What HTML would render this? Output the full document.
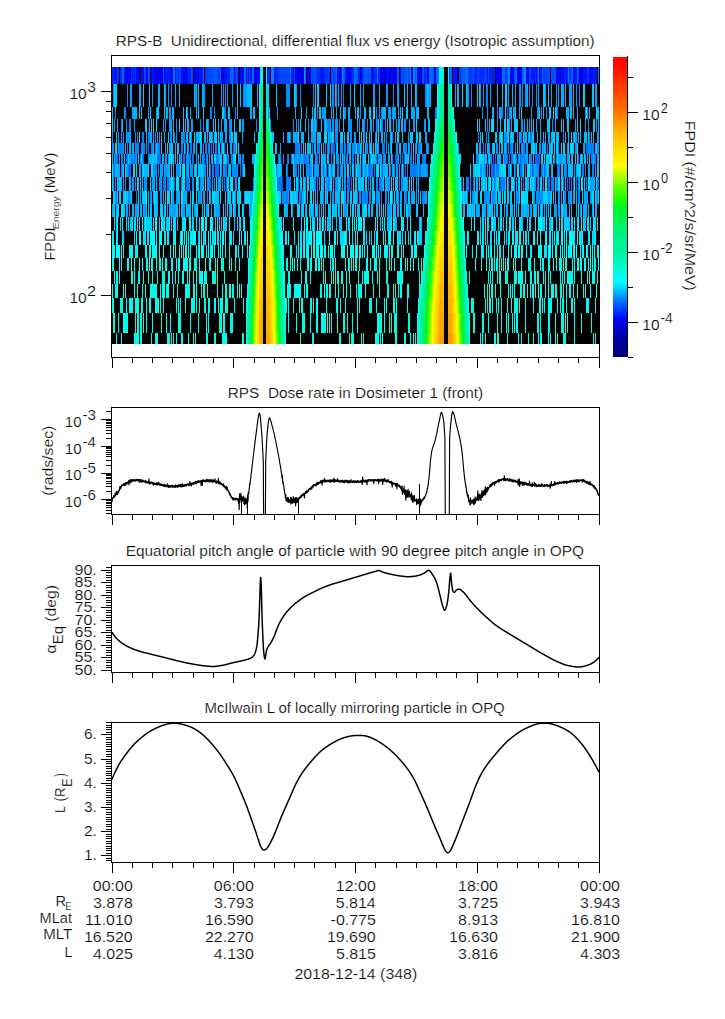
<!DOCTYPE html><html><head><meta charset="utf-8"><style>html,body{margin:0;padding:0;background:#fff;}svg{display:block}text{white-space:pre;stroke:#fff;stroke-width:0.2px}</style></head><body><svg width="725" height="1019" viewBox="0 0 725 1019" font-family='"Liberation Sans", sans-serif' fill="#000" xml:space="preserve" shape-rendering="crispEdges">
<rect width="725" height="1019" fill="#fff"/>
<rect x="112" y="67" width="487" height="277" fill="#000"/>
<path fill="#0023fd" d="M112 67h1v17h-1zM190 67h1v17h-1zM276 67h1v17h-1zM324 67h1v17h-1zM533 67h1v17h-1z"/>
<path fill="#0021fc" d="M113 67h2v17h-2zM320 67h1v17h-1zM483 67h1v17h-1z"/>
<path fill="#0014f8" d="M115 67h1v17h-1zM224 67h1v17h-1zM341 67h1v17h-1zM351 67h1v17h-1zM456 67h1v17h-1z"/>
<path fill="#000cf4" d="M116 67h1v17h-1z"/>
<path fill="#0040ff" d="M117 67h1v17h-1zM207 67h1v17h-1zM219 67h1v17h-1zM289 67h1v17h-1zM328 67h1v17h-1zM543 67h1v17h-1z"/>
<path fill="#002aff" d="M118 67h1v17h-1zM135 67h1v17h-1zM379 67h1v17h-1zM475 67h1v17h-1z"/>
<path fill="#002bff" d="M120 67h1v17h-1zM134 67h1v17h-1z"/>
<path fill="#0024fe" d="M121 67h1v17h-1zM189 67h1v17h-1zM275 67h1v17h-1zM469 67h1v17h-1z"/>
<path fill="#006aff" d="M122 67h1v17h-1zM407 67h1v17h-1zM217 164h1v13h-1zM515 164h1v13h-1zM541 164h1v13h-1z"/>
<path fill="#0068ff" d="M123 67h1v17h-1zM467 67h1v17h-1zM503 67h1v17h-1zM130 164h1v13h-1zM349 177h1v14h-1z"/>
<path fill="#001bfa" d="M124 67h1v17h-1zM453 67h1v17h-1zM492 67h1v17h-1zM574 67h1v17h-1zM576 67h1v17h-1z"/>
<path fill="#0006f2" d="M125 67h1v17h-1zM136 67h1v17h-1zM142 67h1v17h-1zM185 67h1v17h-1zM361 67h1v17h-1zM372 67h1v17h-1zM457 67h1v17h-1zM556 67h1v17h-1zM559 67h1v17h-1z"/>
<path fill="#0009f3" d="M126 67h1v17h-1zM296 67h1v17h-1zM303 67h1v17h-1zM371 67h1v17h-1zM388 67h1v17h-1zM391 67h1v17h-1zM511 67h1v17h-1zM558 67h1v17h-1z"/>
<path fill="#0000f0" d="M127 67h1v17h-1zM160 67h1v17h-1zM256 67h1v17h-1zM295 67h1v17h-1zM380 67h1v17h-1zM510 67h1v17h-1zM517 67h1v17h-1z"/>
<path fill="#0011f7" d="M128 67h1v17h-1z"/>
<path fill="#000cf5" d="M129 67h1v17h-1zM196 67h1v17h-1zM243 67h1v17h-1zM487 67h1v17h-1zM563 67h1v17h-1zM591 67h1v17h-1z"/>
<path fill="#0000ef" d="M130 67h1v17h-1zM138 67h1v17h-1zM162 67h1v17h-1zM197 67h1v17h-1zM221 67h1v17h-1zM234 67h1v17h-1zM308 67h1v17h-1zM360 67h1v17h-1zM412 67h1v17h-1zM560 67h1v17h-1zM579 67h1v17h-1z"/>
<path fill="#0031ff" d="M131 67h1v17h-1z"/>
<path fill="#0022fd" d="M132 67h1v17h-1z"/>
<path fill="#0028ff" d="M133 67h1v17h-1zM188 67h1v17h-1zM358 67h1v17h-1zM425 67h1v17h-1z"/>
<path fill="#000af4" d="M137 67h1v17h-1zM157 67h1v17h-1zM164 67h1v17h-1zM171 67h1v17h-1zM187 67h1v17h-1zM257 67h1v17h-1zM396 67h1v17h-1zM536 67h1v17h-1zM561 67h1v17h-1z"/>
<path fill="#0000ee" d="M139 67h1v17h-1zM147 67h1v17h-1zM297 67h1v17h-1zM499 67h1v17h-1zM519 67h1v17h-1z"/>
<path fill="#0012f7" d="M141 67h1v17h-1zM532 67h1v17h-1zM562 67h1v17h-1zM584 67h1v17h-1z"/>
<path fill="#0008f3" d="M143 67h1v17h-1zM154 67h1v17h-1zM267 67h1v17h-1zM350 67h1v17h-1zM386 67h1v17h-1zM392 67h1v17h-1zM582 67h1v17h-1zM590 67h1v17h-1z"/>
<path fill="#004eff" d="M144 67h1v17h-1zM149 67h1v17h-1zM335 67h1v17h-1zM402 67h1v17h-1zM422 67h1v17h-1zM553 67h1v17h-1z"/>
<path fill="#0044ff" d="M145 67h1v17h-1zM176 67h1v17h-1zM459 67h1v17h-1zM461 67h1v17h-1zM486 67h1v17h-1zM514 67h1v17h-1z"/>
<path fill="#0003f1" d="M146 67h1v17h-1zM155 67h1v17h-1zM161 67h1v17h-1zM183 67h1v17h-1zM259 67h1v17h-1zM307 67h1v17h-1zM340 67h1v17h-1zM389 67h1v17h-1zM428 67h1v17h-1zM497 67h2v17h-2zM527 67h1v17h-1zM557 67h1v17h-1z"/>
<path fill="#0052ff" d="M148 67h1v17h-1zM163 67h1v17h-1zM288 67h1v17h-1zM314 67h1v17h-1zM331 67h1v17h-1zM433 67h1v17h-1zM488 67h1v17h-1zM555 67h1v17h-1z"/>
<path fill="#0009f4" d="M151 67h1v17h-1z"/>
<path fill="#0018f9" d="M152 67h1v17h-1zM199 67h1v17h-1zM534 67h1v17h-1zM541 67h1v17h-1zM566 67h1v17h-1zM586 67h1v17h-1zM595 67h2v17h-2z"/>
<path fill="#000ef5" d="M153 67h1v17h-1zM172 67h1v17h-1zM240 67h1v17h-1zM348 67h1v17h-1zM400 67h1v17h-1zM513 67h1v17h-1z"/>
<path fill="#0004f1" d="M156 67h1v17h-1zM194 67h1v17h-1zM393 67h1v17h-1zM526 67h1v17h-1zM528 67h1v17h-1z"/>
<path fill="#0002f1" d="M158 67h1v17h-1zM223 67h1v17h-1zM238 67h1v17h-1zM309 67h1v17h-1zM382 67h1v17h-1zM420 67h1v17h-1zM427 67h1v17h-1zM501 67h1v17h-1z"/>
<path fill="#0000ed" d="M159 67h1v17h-1zM500 67h1v17h-1zM520 67h1v17h-1z"/>
<path fill="#0011f6" d="M165 67h1v17h-1zM583 67h1v17h-1z"/>
<path fill="#0033ff" d="M166 67h1v17h-1zM317 67h1v17h-1zM326 67h1v17h-1z"/>
<path fill="#0013f7" d="M167 67h1v17h-1z"/>
<path fill="#0016f8" d="M168 67h1v17h-1zM175 67h1v17h-1zM250 67h1v17h-1zM573 67h1v17h-1zM575 67h1v17h-1z"/>
<path fill="#001afa" d="M169 67h1v17h-1zM201 67h1v17h-1zM248 67h1v17h-1zM435 67h1v17h-1zM493 67h1v17h-1z"/>
<path fill="#000ff6" d="M170 67h1v17h-1zM339 67h1v17h-1zM455 67h1v17h-1z"/>
<path fill="#0073ff" d="M173 67h1v17h-1zM416 67h1v17h-1zM211 143h1v11h-1zM296 143h1v11h-1zM586 143h1v11h-1zM591 143h1v11h-1zM183 154h1v10h-1zM328 164h1v13h-1zM491 164h1v13h-1zM348 177h1v14h-1zM351 177h1v14h-1z"/>
<path fill="#0071ff" d="M174 67h1v17h-1zM240 164h1v13h-1zM276 164h1v13h-1zM369 164h1v13h-1zM279 177h1v14h-1zM379 177h1v14h-1zM468 177h1v14h-1zM473 177h1v14h-1z"/>
<path fill="#003dff" d="M177 67h1v17h-1zM505 67h2v17h-2z"/>
<path fill="#0038ff" d="M178 67h1v17h-1zM479 67h1v17h-1z"/>
<path fill="#0047ff" d="M179 67h2v17h-2zM247 67h1v17h-1zM313 67h1v17h-1zM332 67h1v17h-1z"/>
<path fill="#0015f8" d="M181 67h1v17h-1zM200 67h1v17h-1zM226 67h1v17h-1zM322 67h1v17h-1z"/>
<path fill="#001efb" d="M182 67h1v17h-1zM494 67h1v17h-1zM567 67h1v17h-1zM569 67h1v17h-1z"/>
<path fill="#0004f2" d="M184 67h1v17h-1z"/>
<path fill="#0005f2" d="M186 67h1v17h-1zM246 67h1v17h-1zM258 67h1v17h-1zM395 67h1v17h-1zM434 67h1v17h-1zM496 67h1v17h-1z"/>
<path fill="#0053ff" d="M191 67h1v17h-1zM404 67h1v17h-1zM554 67h1v17h-1z"/>
<path fill="#0046ff" d="M192 67h1v17h-1zM547 67h1v17h-1z"/>
<path fill="#000bf4" d="M195 67h1v17h-1zM337 67h1v17h-1zM349 67h1v17h-1zM373 67h1v17h-1zM417 67h1v17h-1z"/>
<path fill="#0000e4" d="M198 67h1v17h-1zM301 67h1v17h-1z"/>
<path fill="#001dfb" d="M202 67h1v17h-1z"/>
<path fill="#006bff" d="M203 67h1v17h-1zM437 67h1v17h-1zM504 67h1v17h-1zM287 154h1v10h-1zM395 154h1v10h-1zM538 154h1v10h-1z"/>
<path fill="#0041ff" d="M205 67h1v17h-1zM485 67h1v17h-1z"/>
<path fill="#003bff" d="M206 67h1v17h-1zM449 67h1v17h-1zM471 67h1v17h-1zM544 67h1v17h-1z"/>
<path fill="#004bff" d="M208 67h1v17h-1zM281 67h1v17h-1zM548 67h1v17h-1zM551 67h2v17h-2z"/>
<path fill="#0050ff" d="M209 67h1v17h-1zM315 67h1v17h-1z"/>
<path fill="#004aff" d="M210 67h1v17h-1zM212 67h1v17h-1zM280 67h1v17h-1zM549 67h1v17h-1z"/>
<path fill="#004cff" d="M211 67h1v17h-1zM213 67h1v17h-1zM236 67h1v17h-1zM401 67h1v17h-1zM570 67h1v17h-1z"/>
<path fill="#005bff" d="M214 67h1v17h-1zM216 67h1v17h-1zM356 67h1v17h-1zM364 67h1v17h-1zM397 67h1v17h-1zM423 67h1v17h-1z"/>
<path fill="#0058ff" d="M215 67h1v17h-1z"/>
<path fill="#004dff" d="M217 67h1v17h-1zM311 67h1v17h-1zM578 67h1v17h-1z"/>
<path fill="#003fff" d="M218 67h1v17h-1zM283 67h1v17h-1z"/>
<path fill="#0060ff" d="M220 67h1v17h-1zM230 67h1v17h-1zM232 67h1v17h-1zM344 67h1v17h-1zM366 67h1v17h-1zM282 177h1v14h-1z"/>
<path fill="#0000e7" d="M222 67h1v17h-1zM310 67h1v17h-1z"/>
<path fill="#0014f7" d="M225 67h1v17h-1zM274 67h1v17h-1zM321 67h1v17h-1zM345 67h1v17h-1z"/>
<path fill="#0027ff" d="M227 67h1v17h-1zM269 67h1v17h-1zM353 67h1v17h-1zM490 67h1v17h-1zM587 67h1v17h-1z"/>
<path fill="#0026fe" d="M228 67h1v17h-1zM480 67h1v17h-1z"/>
<path fill="#0025fe" d="M229 67h1v17h-1zM291 67h1v17h-1zM491 67h1v17h-1zM535 67h1v17h-1z"/>
<path fill="#0063ff" d="M231 67h1v17h-1zM464 67h2v17h-2zM334 143h1v11h-1z"/>
<path fill="#005fff" d="M233 67h1v17h-1zM365 67h1v17h-1z"/>
<path fill="#0042ff" d="M235 67h1v17h-1zM530 67h1v17h-1z"/>
<path fill="#0036ff" d="M237 67h1v17h-1zM278 67h1v17h-1zM426 67h1v17h-1zM588 67h1v17h-1z"/>
<path fill="#000ff5" d="M241 67h1v17h-1z"/>
<path fill="#0010f6" d="M242 67h1v17h-1zM293 67h1v17h-1zM387 67h1v17h-1zM419 67h1v17h-1zM589 67h1v17h-1z"/>
<path fill="#006eff" d="M244 67h1v17h-1zM429 67h1v17h-1zM438 67h1v17h-1zM404 154h1v10h-1zM511 154h1v10h-1zM420 164h1v13h-1zM585 164h1v13h-1z"/>
<path fill="#0075ff" d="M245 67h1v17h-1zM587 143h1v11h-1zM227 154h1v10h-1zM520 154h1v10h-1zM413 164h1v13h-1zM174 177h1v14h-1zM280 177h1v14h-1zM288 177h1v14h-1zM298 177h1v14h-1zM548 177h1v14h-1z"/>
<path fill="#0045ff" d="M249 67h1v17h-1zM286 67h1v17h-1zM312 67h1v17h-1zM316 67h1v17h-1zM333 67h1v17h-1zM472 67h1v17h-1z"/>
<path fill="#0019f9" d="M251 67h1v17h-1zM424 67h1v17h-1zM454 67h1v17h-1z"/>
<path fill="#0065ff" d="M252 67h1v17h-1zM432 67h1v17h-1zM436 67h1v17h-1zM450 67h1v17h-1zM129 164h1v13h-1z"/>
<path fill="#0069ff" d="M253 67h1v17h-1zM126 154h1v10h-1zM143 154h1v10h-1zM533 164h1v13h-1z"/>
<path fill="#0001f0" d="M254 67h1v17h-1zM394 67h1v17h-1zM539 67h1v17h-1z"/>
<path fill="#0000eb" d="M255 67h1v17h-1zM383 67h1v17h-1z"/>
<path fill="#00f5ff" d="M260 67h1v17h-1zM490 177h1v14h-1zM146 191h1v13h-1zM391 191h1v13h-1zM203 217h1v14h-1zM540 217h1v14h-1zM174 231h1v14h-1zM188 231h1v14h-1zM285 231h1v14h-1zM334 231h1v14h-1zM509 231h1v14h-1zM513 231h1v14h-1zM577 231h1v14h-1zM283 245h1v13h-1zM334 245h1v13h-1zM587 245h1v13h-1zM590 245h1v13h-1z"/>
<path fill="#00fef5" d="M261 67h1v17h-1zM437 107h1v12h-1zM435 119h1v13h-1zM113 245h1v13h-1zM190 245h1v13h-1zM304 245h1v13h-1zM316 245h2v13h-2zM357 245h1v13h-1zM403 245h1v13h-1zM424 245h1v13h-1zM515 245h1v13h-1zM576 245h1v13h-1zM131 258h1v13h-1zM494 258h1v13h-1zM513 258h1v13h-1zM372 271h1v13h-1zM112 284h1v14h-1zM326 284h1v14h-1zM553 284h1v14h-1zM129 298h1v15h-1zM214 298h1v15h-1zM285 298h1v15h-1zM384 298h1v15h-1zM152 313h1v20h-1zM410 333h1v11h-1zM541 333h1v11h-1z"/>
<path fill="#00fce9" d="M262 67h1v17h-1zM428 204h1v13h-1zM251 217h1v14h-1zM183 258h1v13h-1zM321 258h1v13h-1zM534 258h1v13h-1zM131 271h2v13h-2zM168 271h1v13h-1zM367 271h1v13h-1zM492 271h1v13h-1zM531 271h1v13h-1zM163 284h1v14h-1zM203 284h1v14h-1zM217 284h1v14h-1zM294 284h1v14h-1zM360 284h1v14h-1zM156 298h1v15h-1zM191 298h1v15h-1zM218 298h1v15h-1zM299 298h1v15h-1zM519 298h1v15h-1zM587 298h1v15h-1zM304 313h1v20h-1zM389 313h1v20h-1zM574 313h1v20h-1z"/>
<path fill="#00f2ff" d="M266 67h1v17h-1zM267 107h1v12h-1zM145 217h1v14h-1zM173 231h1v14h-1zM184 231h1v14h-1zM425 231h1v14h-1zM464 231h1v14h-1zM249 245h1v13h-1zM467 284h1v14h-1zM246 298h1v15h-1zM285 313h1v20h-1z"/>
<path fill="#0020fc" d="M268 67h1v17h-1zM323 67h1v17h-1zM359 67h1v17h-1zM531 67h1v17h-1zM540 67h1v17h-1zM564 67h1v17h-1zM594 67h1v17h-1z"/>
<path fill="#0084ff" d="M271 67h1v17h-1zM273 67h1v17h-1zM125 107h1v12h-1zM224 107h1v12h-1zM435 107h1v12h-1zM497 107h1v12h-1zM382 119h1v13h-1zM290 132h1v11h-1zM296 132h1v11h-1zM152 143h1v11h-1zM208 143h1v11h-1zM215 143h1v11h-1zM133 154h1v10h-1zM352 154h1v10h-1zM337 164h1v13h-1zM355 164h1v13h-1zM545 164h1v13h-1zM290 177h1v14h-1zM399 177h1v14h-1zM402 177h1v14h-1zM553 177h1v14h-1zM557 177h1v14h-1zM286 191h1v13h-1zM299 191h1v13h-1zM406 191h1v13h-1z"/>
<path fill="#0081ff" d="M272 67h1v17h-1zM329 119h1v13h-1zM205 143h1v11h-1zM344 143h1v11h-1zM366 143h1v11h-1zM383 143h1v11h-1zM558 143h1v11h-1zM132 154h1v10h-1zM206 154h1v10h-1zM242 154h1v10h-1zM278 154h1v10h-1zM411 154h1v10h-1zM496 164h1v13h-1zM380 177h1v14h-1zM508 177h1v14h-1zM571 177h1v14h-1zM363 191h1v13h-1z"/>
<path fill="#0030ff" d="M277 67h1v17h-1z"/>
<path fill="#0043ff" d="M279 67h1v17h-1zM285 67h1v17h-1zM460 67h1v17h-1zM545 67h1v17h-1z"/>
<path fill="#0048ff" d="M282 67h1v17h-1zM284 67h1v17h-1zM294 67h1v17h-1z"/>
<path fill="#004fff" d="M287 67h1v17h-1zM363 67h1v17h-1zM403 67h1v17h-1zM409 67h1v17h-1zM468 67h1v17h-1z"/>
<path fill="#0078ff" d="M290 67h1v17h-1zM355 67h1v17h-1zM538 67h1v17h-1zM598 67h1v17h-1zM181 143h1v11h-1zM185 143h1v11h-1zM357 143h1v11h-1zM405 143h1v11h-1zM115 154h1v10h-1zM158 154h1v10h-1zM512 154h1v10h-1zM521 154h1v10h-1zM326 164h1v13h-1zM160 177h1v14h-1zM186 177h1v14h-1zM253 177h1v14h-1zM347 177h1v14h-1zM500 177h1v14h-1z"/>
<path fill="#0024fd" d="M292 67h1v17h-1z"/>
<path fill="#0000e8" d="M298 67h2v17h-2zM381 67h1v17h-1z"/>
<path fill="#0000e1" d="M300 67h1v17h-1z"/>
<path fill="#0000da" d="M302 67h1v17h-1z"/>
<path fill="#008cff" d="M304 67h1v17h-1zM377 67h1v17h-1zM522 84h1v23h-1zM256 119h1v13h-1zM339 119h1v13h-1zM351 119h1v13h-1zM487 119h1v13h-1zM351 132h1v11h-1zM203 143h1v11h-1zM221 143h1v11h-1zM347 143h2v11h-2zM354 143h1v11h-1zM411 143h1v11h-1zM506 143h1v11h-1zM237 164h1v13h-1zM308 164h1v13h-1zM511 164h1v13h-1zM502 177h1v14h-1zM283 191h1v13h-1zM485 191h1v13h-1zM538 191h1v13h-1z"/>
<path fill="#0076ff" d="M305 67h1v17h-1zM354 67h1v17h-1zM180 154h1v10h-1zM397 154h1v10h-1zM410 154h1v10h-1zM507 154h1v10h-1zM128 164h1v13h-1zM374 164h1v13h-1zM414 164h1v13h-1zM498 164h1v13h-1zM163 177h1v14h-1zM210 177h1v14h-1zM368 177h1v14h-1zM567 177h1v14h-1z"/>
<path fill="#002cff" d="M318 67h1v17h-1zM376 67h1v17h-1zM474 67h1v17h-1zM565 67h1v17h-1z"/>
<path fill="#002fff" d="M319 67h1v17h-1zM352 67h1v17h-1zM378 67h1v17h-1zM482 67h1v17h-1z"/>
<path fill="#0032ff" d="M325 67h1v17h-1zM329 67h1v17h-1z"/>
<path fill="#0035ff" d="M327 67h1v17h-1z"/>
<path fill="#0049ff" d="M334 67h1v17h-1zM546 67h1v17h-1z"/>
<path fill="#0064ff" d="M336 67h1v17h-1zM430 67h1v17h-1zM396 154h1v10h-1zM536 154h2v10h-2z"/>
<path fill="#000df5" d="M338 67h1v17h-1zM347 67h1v17h-1zM418 67h1v17h-1zM585 67h1v17h-1zM592 67h1v17h-1z"/>
<path fill="#0087ff" d="M342 67h1v17h-1zM509 67h1v17h-1zM286 84h1v23h-1zM323 107h1v12h-1zM360 107h1v12h-1zM135 132h1v11h-1zM335 132h2v11h-2zM350 132h1v11h-1zM521 132h1v11h-1zM319 143h1v11h-1zM419 143h1v11h-1zM592 143h1v11h-1zM597 143h1v11h-1zM306 154h1v10h-1zM331 154h1v10h-1zM376 154h1v10h-1zM518 154h1v10h-1zM205 164h1v13h-1zM508 164h1v13h-1zM582 164h1v13h-1zM287 177h1v14h-1zM470 177h1v14h-1zM552 177h1v14h-1zM563 177h1v14h-1zM586 177h1v14h-1zM200 191h1v13h-1zM467 191h1v13h-1z"/>
<path fill="#006cff" d="M343 67h1v17h-1zM431 67h1v17h-1zM343 154h1v10h-1zM493 154h1v10h-1zM405 164h1v13h-1zM520 164h1v13h-1z"/>
<path fill="#0007f3" d="M346 67h1v17h-1zM411 67h1v17h-1zM512 67h1v17h-1z"/>
<path fill="#005cff" d="M357 67h1v17h-1zM415 67h1v17h-1z"/>
<path fill="#002dff" d="M362 67h1v17h-1zM374 67h1v17h-1zM481 67h1v17h-1z"/>
<path fill="#0056ff" d="M367 67h1v17h-1zM398 67h1v17h-1zM405 67h2v17h-2zM571 67h1v17h-1z"/>
<path fill="#0051ff" d="M368 67h1v17h-1zM408 67h1v17h-1zM473 67h1v17h-1z"/>
<path fill="#005aff" d="M369 67h1v17h-1zM577 67h1v17h-1z"/>
<path fill="#0059ff" d="M370 67h1v17h-1zM507 67h1v17h-1z"/>
<path fill="#002eff" d="M375 67h1v17h-1z"/>
<path fill="#0000e3" d="M384 67h1v17h-1zM580 67h1v17h-1z"/>
<path fill="#0000df" d="M385 67h1v17h-1z"/>
<path fill="#0000e9" d="M390 67h1v17h-1zM581 67h1v17h-1z"/>
<path fill="#0085ff" d="M410 67h1v17h-1zM414 67h1v17h-1zM529 84h1v23h-1zM210 107h1v12h-1zM142 132h1v11h-1zM136 143h1v11h-1zM143 143h2v11h-2zM295 143h1v11h-1zM228 154h1v10h-1zM299 154h1v10h-1zM333 154h1v10h-1zM355 154h1v10h-1zM400 154h1v10h-1zM530 154h1v10h-1zM186 164h1v13h-1zM212 164h1v13h-1zM225 164h1v13h-1zM307 164h1v13h-1zM309 164h1v13h-1zM401 164h1v13h-1zM416 164h1v13h-1zM558 164h2v13h-2zM566 164h1v13h-1zM381 177h1v14h-1zM116 191h1v13h-1zM282 191h1v13h-1zM287 191h1v13h-1zM359 191h1v13h-1zM564 191h1v13h-1z"/>
<path fill="#0086ff" d="M413 67h1v17h-1zM376 107h1v12h-1zM184 132h1v11h-1zM230 132h1v11h-1zM531 132h1v11h-1zM298 143h1v11h-1zM376 143h1v11h-1zM418 143h1v11h-1zM117 154h1v10h-1zM140 154h1v10h-1zM142 154h1v10h-1zM300 154h1v10h-1zM415 154h1v10h-1zM592 154h1v10h-1zM155 164h1v13h-1zM296 164h1v13h-1zM407 164h1v13h-1zM427 164h1v13h-1zM542 164h1v13h-1zM207 191h1v13h-1zM364 191h1v13h-1zM369 191h1v13h-1zM405 191h1v13h-1zM472 191h1v13h-1zM597 191h1v13h-1z"/>
<path fill="#0000ea" d="M421 67h1v17h-1z"/>
<path fill="#00fffe" d="M439 67h1v17h-1zM307 217h1v14h-1zM230 231h1v14h-1zM116 245h1v13h-1zM208 245h1v13h-1zM220 245h1v13h-1zM491 245h1v13h-1zM508 245h1v13h-1zM526 245h1v13h-1zM292 258h1v13h-1zM542 258h1v13h-1zM598 258h1v13h-1zM202 271h1v13h-1zM469 313h1v20h-1z"/>
<path fill="#00fdf2" d="M440 67h1v17h-1zM453 107h1v12h-1zM456 132h1v11h-1zM459 164h1v13h-1zM460 177h1v14h-1zM461 191h1v13h-1zM130 245h1v13h-1zM384 245h2v13h-2zM549 245h1v13h-1zM121 258h1v13h-1zM345 258h1v13h-1zM374 258h1v13h-1zM465 258h1v13h-1zM114 271h1v13h-1zM116 271h2v13h-2zM172 271h1v13h-1zM338 271h1v13h-1zM505 271h1v13h-1zM518 271h1v13h-1zM116 284h1v14h-1zM237 284h1v14h-1zM126 298h1v15h-1zM316 298h1v15h-1zM548 298h1v15h-1zM208 313h1v20h-1zM223 313h1v20h-1zM232 313h1v20h-1zM357 313h1v20h-1zM565 313h1v20h-1zM395 333h1v11h-1zM555 333h1v11h-1z"/>
<path fill="#00fce7" d="M441 67h1v17h-1zM448 67h1v17h-1zM258 132h1v11h-1zM464 245h1v13h-1zM151 258h1v13h-1zM286 258h1v13h-1zM323 258h1v13h-1zM391 258h1v13h-1zM543 258h1v13h-1zM594 258h1v13h-1zM134 271h1v13h-1zM182 271h1v13h-1zM349 271h1v13h-1zM548 271h1v13h-1zM567 271h1v13h-1zM570 271h1v13h-1zM583 284h1v14h-1zM136 298h1v15h-1zM293 298h1v15h-1zM572 298h1v15h-1zM180 313h1v20h-1zM329 313h1v20h-1zM563 313h1v20h-1zM340 333h1v11h-1zM404 333h2v11h-2zM563 333h1v11h-1z"/>
<path fill="#00fade" d="M442 67h1v17h-1zM215 258h1v13h-1zM222 258h1v13h-1zM489 258h1v13h-1zM143 271h1v13h-1zM163 271h1v13h-1zM187 271h1v13h-1zM506 271h1v13h-1zM516 271h1v13h-1zM521 271h1v13h-1zM550 271h1v13h-1zM572 271h1v13h-1zM327 284h1v14h-1zM512 284h1v14h-1zM185 298h1v15h-1zM222 298h1v15h-1zM243 298h1v15h-1zM313 298h1v15h-1zM376 298h1v15h-1zM485 298h1v15h-1zM127 313h1v20h-1zM140 313h2v20h-2zM166 313h1v20h-1zM170 313h1v20h-1zM555 313h1v20h-1zM561 313h1v20h-1zM377 333h1v11h-1z"/>
<path fill="#00f9d8" d="M443 67h1v17h-1zM250 245h1v13h-1zM422 271h1v13h-1zM177 284h1v14h-1zM335 284h1v14h-1zM350 284h1v14h-1zM356 284h1v14h-1zM388 284h1v14h-1zM487 284h1v14h-1zM120 298h1v15h-1zM160 298h1v15h-1zM194 298h1v15h-1zM472 298h1v15h-1zM497 313h1v20h-1zM540 313h1v20h-1zM151 333h1v11h-1z"/>
<path fill="#0067ff" d="M451 67h1v17h-1zM515 67h1v17h-1zM522 67h1v17h-1zM160 154h1v10h-1z"/>
<path fill="#0066ff" d="M462 67h1v17h-1zM516 67h1v17h-1zM187 177h1v14h-1z"/>
<path fill="#005eff" d="M463 67h1v17h-1zM493 164h1v13h-1z"/>
<path fill="#0079ff" d="M466 67h1v17h-1zM119 143h1v11h-1zM345 143h1v11h-1zM148 154h1v10h-1zM239 154h1v10h-1zM242 164h1v13h-1zM382 164h1v13h-1zM317 177h1v14h-1zM466 177h1v14h-1z"/>
<path fill="#0039ff" d="M470 67h1v17h-1zM477 67h1v17h-1z"/>
<path fill="#001ffc" d="M476 67h1v17h-1z"/>
<path fill="#003eff" d="M478 67h1v17h-1z"/>
<path fill="#003cff" d="M484 67h1v17h-1zM529 67h1v17h-1zM537 67h1v17h-1z"/>
<path fill="#0019fa" d="M489 67h1v17h-1z"/>
<path fill="#0074ff" d="M502 67h1v17h-1zM148 143h1v11h-1zM511 143h1v11h-1zM495 154h1v10h-1zM338 164h1v13h-1zM209 177h1v14h-1zM549 177h1v14h-1z"/>
<path fill="#008eff" d="M508 67h1v17h-1zM387 84h1v23h-1zM576 84h1v23h-1zM436 107h1v12h-1zM126 119h1v13h-1zM381 119h1v13h-1zM385 119h1v13h-1zM413 119h1v13h-1zM170 132h1v11h-1zM183 132h1v11h-1zM505 132h1v11h-1zM415 143h1v11h-1zM497 143h1v11h-1zM295 154h1v10h-1zM537 164h1v13h-1zM538 177h1v14h-1zM160 191h1v13h-1zM362 191h1v13h-1zM536 191h2v13h-2zM539 191h1v13h-1zM578 191h1v13h-1z"/>
<path fill="#0000ec" d="M518 67h1v17h-1zM521 67h1v17h-1z"/>
<path fill="#0062ff" d="M523 67h1v17h-1zM542 67h1v17h-1zM114 164h1v13h-1zM521 164h1v13h-1zM301 191h1v13h-1z"/>
<path fill="#0088ff" d="M524 67h1v17h-1zM333 84h1v23h-1zM397 84h1v23h-1zM519 84h1v23h-1zM546 107h1v12h-1zM148 132h1v11h-1zM188 143h1v11h-1zM524 143h1v11h-1zM218 154h1v10h-1zM316 154h1v10h-1zM346 154h1v10h-1zM213 164h1v13h-1zM233 164h1v13h-1zM181 177h1v14h-1zM376 177h1v14h-1zM150 191h1v13h-1zM285 191h1v13h-1z"/>
<path fill="#0091ff" d="M525 67h1v17h-1zM127 84h1v23h-1zM336 84h1v23h-1zM115 107h1v12h-1zM211 107h1v12h-1zM317 107h1v12h-1zM208 119h1v13h-1zM337 132h1v11h-1zM375 132h1v11h-1zM520 132h1v11h-1zM135 143h1v11h-1zM158 143h1v11h-1zM331 143h1v11h-1zM341 143h1v11h-1zM190 154h1v10h-1zM307 154h1v10h-1zM505 154h1v10h-1zM366 164h1v13h-1zM159 177h1v14h-1zM329 177h1v14h-1zM345 177h1v14h-1zM543 177h1v14h-1zM590 177h1v14h-1zM518 191h1v13h-1z"/>
<path fill="#007fff" d="M568 67h1v17h-1zM141 143h1v11h-1zM234 143h1v11h-1zM318 143h1v11h-1zM353 154h1v10h-1zM476 154h1v10h-1zM578 154h1v10h-1zM390 164h1v13h-1zM485 164h1v13h-1zM530 164h1v13h-1zM467 177h1v14h-1zM569 177h1v14h-1z"/>
<path fill="#0054ff" d="M572 67h1v17h-1z"/>
<path fill="#0017f9" d="M593 67h1v17h-1z"/>
<path fill="#0098ff" d="M113 84h1v23h-1zM467 84h1v23h-1zM536 84h1v23h-1zM268 107h1v12h-1zM344 107h1v12h-1zM541 107h1v12h-1zM230 119h1v13h-1zM349 119h1v13h-1zM404 119h1v13h-1zM414 119h1v13h-1zM509 119h1v13h-1zM585 119h1v13h-1zM517 132h1v11h-1zM155 143h1v11h-1zM378 143h1v11h-1zM403 143h1v11h-1zM527 143h1v11h-1zM379 154h1v10h-1zM191 164h1v13h-1zM133 177h1v14h-1zM244 191h1v13h-1zM489 191h1v13h-1z"/>
<path fill="#00cdff" d="M114 84h1v23h-1zM320 107h1v12h-1zM234 119h1v13h-1zM574 132h1v11h-1zM171 143h1v11h-1zM178 143h1v11h-1zM365 143h1v11h-1zM494 143h1v11h-1zM220 154h1v10h-1zM292 154h1v10h-1zM342 154h1v10h-1zM368 154h1v10h-1zM243 164h2v13h-2zM321 177h1v14h-1zM365 177h1v14h-1zM525 177h1v14h-1zM127 191h1v13h-1zM143 191h1v13h-1zM519 191h1v13h-1zM197 204h1v13h-1zM470 204h1v13h-1zM474 204h1v13h-1zM581 204h1v13h-1zM159 217h1v14h-1zM330 217h1v14h-1zM420 217h1v14h-1zM583 217h1v14h-1z"/>
<path fill="#00cfff" d="M115 84h1v23h-1zM539 107h1v12h-1zM153 119h1v13h-1zM533 119h1v13h-1zM567 119h1v13h-1zM594 119h1v13h-1zM209 132h1v11h-1zM333 132h1v11h-1zM371 143h1v11h-1zM570 143h1v11h-1zM573 143h1v11h-1zM128 154h1v10h-1zM542 154h1v10h-1zM136 164h1v13h-1zM201 164h1v13h-1zM476 164h1v13h-1zM238 177h1v14h-1zM526 177h1v14h-1zM228 191h1v13h-1zM238 191h1v13h-1zM343 191h1v13h-1zM511 191h1v13h-1zM123 204h1v13h-1zM165 204h1v13h-1zM369 204h1v13h-1zM390 217h1v14h-1zM394 217h1v14h-1zM491 217h1v14h-1zM544 217h1v14h-1z"/>
<path fill="#00c5ff" d="M116 84h1v23h-1zM179 84h1v23h-1zM326 84h1v23h-1zM222 107h1v12h-1zM214 132h1v11h-1zM347 132h1v11h-1zM173 154h1v10h-1zM219 154h1v10h-1zM221 154h1v10h-1zM489 154h1v10h-1zM548 154h1v10h-1zM202 164h1v13h-1zM389 164h1v13h-1zM569 164h1v13h-1zM359 177h1v14h-1zM492 177h1v14h-1zM215 191h1v13h-1zM218 191h1v13h-1zM372 191h1v13h-1zM510 191h1v13h-1zM176 204h1v13h-1zM311 204h1v13h-1zM328 204h1v13h-1zM355 204h1v13h-1zM393 204h1v13h-1zM417 204h1v13h-1zM489 204h1v13h-1zM419 231h1v14h-1z"/>
<path fill="#009dff" d="M130 84h1v23h-1zM483 84h1v23h-1zM167 107h1v12h-1zM345 107h1v12h-1zM392 107h1v12h-1zM487 107h1v12h-1zM165 119h1v13h-1zM336 119h1v13h-1zM123 143h1v11h-1zM280 143h1v11h-1zM404 143h1v11h-1zM154 154h1v10h-1zM240 154h1v10h-1zM337 154h1v10h-1zM154 164h1v13h-1zM176 164h1v13h-1zM118 177h1v14h-1zM326 177h1v14h-1zM129 191h1v13h-1zM172 191h1v13h-1zM379 191h1v13h-1zM591 191h1v13h-1zM127 204h1v13h-1zM174 204h1v13h-1zM325 204h1v13h-1zM523 204h1v13h-1zM555 204h1v13h-1z"/>
<path fill="#00aaff" d="M131 84h1v23h-1zM140 84h1v23h-1zM393 107h1v12h-1zM412 107h1v12h-1zM500 107h1v12h-1zM398 119h1v13h-1zM384 132h1v11h-1zM488 143h1v11h-1zM550 143h1v11h-1zM196 154h1v10h-1zM223 154h1v10h-1zM310 154h1v10h-1zM319 154h1v10h-1zM500 154h1v10h-1zM558 154h1v10h-1zM163 191h1v13h-1zM177 191h1v13h-1zM514 191h1v13h-1zM587 191h1v13h-1zM143 204h1v13h-1zM368 204h1v13h-1zM389 204h1v13h-1zM398 204h1v13h-1z"/>
<path fill="#00b5ff" d="M139 84h1v23h-1zM400 107h1v12h-1zM492 107h1v12h-1zM568 107h1v12h-1zM188 119h1v13h-1zM211 132h1v11h-1zM507 132h1v11h-1zM551 132h1v11h-1zM421 143h1v11h-1zM492 143h1v11h-1zM502 143h1v11h-1zM552 143h1v11h-1zM188 164h1v13h-1zM425 164h1v13h-1zM385 177h1v14h-1zM476 177h1v14h-1zM481 177h1v14h-1zM307 191h1v13h-1zM574 191h1v13h-1zM126 204h1v13h-1zM187 204h1v13h-1zM189 204h1v13h-1zM522 204h1v13h-1zM571 204h1v13h-1z"/>
<path fill="#00caff" d="M143 84h1v23h-1zM330 84h1v23h-1zM157 107h1v12h-1zM319 107h1v12h-1zM553 107h1v12h-1zM380 119h1v13h-1zM216 132h1v11h-1zM378 132h1v11h-1zM115 143h1v11h-1zM218 143h1v11h-1zM373 143h1v11h-1zM156 154h1v10h-1zM198 154h1v10h-1zM473 154h1v10h-1zM485 154h1v10h-1zM547 154h1v10h-1zM279 164h1v13h-1zM376 164h1v13h-1zM482 164h1v13h-1zM577 164h1v13h-1zM227 177h1v14h-1zM119 191h1v13h-1zM142 191h1v13h-1zM313 191h1v13h-1zM350 191h1v13h-1zM508 191h1v13h-1zM214 204h1v13h-1zM231 204h1v13h-1zM303 204h1v13h-1zM416 204h1v13h-1zM472 204h1v13h-1zM561 204h1v13h-1zM149 217h1v14h-1zM340 217h1v14h-1zM512 217h1v14h-1zM342 231h1v14h-1z"/>
<path fill="#00c7ff" d="M149 84h1v23h-1zM427 84h1v23h-1zM584 84h1v23h-1zM592 84h1v23h-1zM343 107h1v12h-1zM145 119h1v13h-1zM190 132h1v11h-1zM201 132h1v11h-1zM348 132h1v11h-1zM130 143h1v11h-1zM152 154h1v10h-1zM364 154h1v10h-1zM589 154h1v10h-1zM220 164h1v13h-1zM321 164h1v13h-1zM367 164h1v13h-1zM297 177h1v14h-1zM395 177h1v14h-1zM397 177h1v14h-1zM584 177h1v14h-1zM144 191h1v13h-1zM113 204h1v13h-1zM238 204h1v13h-1zM166 217h1v14h-1zM199 217h1v14h-1zM319 217h1v14h-1zM565 217h1v14h-1zM420 231h1v14h-1z"/>
<path fill="#0093ff" d="M152 84h1v23h-1zM168 84h1v23h-1zM200 119h1v13h-1zM327 119h1v13h-1zM350 119h1v13h-1zM221 132h1v11h-1zM287 132h1v11h-1zM392 132h1v11h-1zM598 132h1v11h-1zM121 143h1v11h-1zM235 143h1v11h-1zM325 143h1v11h-1zM121 154h1v10h-1zM202 154h1v10h-1zM383 154h1v10h-1zM236 164h1v13h-1zM487 164h1v13h-1zM336 177h1v14h-1zM115 191h1v13h-1zM385 191h1v13h-1zM549 191h1v13h-1z"/>
<path fill="#00a8ff" d="M158 84h1v23h-1zM360 84h1v23h-1zM363 84h1v23h-1zM398 84h1v23h-1zM306 107h1v12h-1zM322 107h1v12h-1zM411 107h1v12h-1zM224 119h1v13h-1zM326 119h1v13h-1zM333 119h1v13h-1zM129 132h1v11h-1zM390 132h1v11h-1zM426 132h1v11h-1zM545 132h1v11h-1zM597 132h1v11h-1zM336 143h1v11h-1zM200 154h1v10h-1zM342 164h1v13h-1zM344 164h2v13h-2zM589 164h1v13h-1zM203 177h1v14h-1zM219 177h1v14h-1zM344 177h1v14h-1zM387 177h1v14h-1zM210 191h1v13h-1zM584 191h1v13h-1zM596 191h1v13h-1zM170 204h1v13h-1zM317 204h1v13h-1zM410 204h1v13h-1zM473 204h1v13h-1zM527 204h1v13h-1z"/>
<path fill="#00adff" d="M159 84h1v23h-1zM247 84h1v23h-1zM428 84h1v23h-1zM511 107h1v12h-1zM567 107h1v12h-1zM225 119h1v13h-1zM370 119h1v13h-1zM536 119h1v13h-1zM382 132h1v11h-1zM212 154h1v10h-1zM514 164h1v13h-1zM130 177h1v14h-1zM386 177h1v14h-1zM416 177h1v14h-1zM585 191h1v13h-1zM287 204h1v13h-1zM512 204h1v13h-1zM533 204h1v13h-1zM546 204h1v13h-1z"/>
<path fill="#00baff" d="M164 84h1v23h-1zM250 84h1v23h-1zM561 84h1v23h-1zM384 107h1v12h-1zM187 119h1v13h-1zM568 119h1v13h-1zM150 132h1v11h-1zM187 132h1v11h-1zM302 132h1v11h-1zM331 132h1v11h-1zM480 132h1v11h-1zM568 132h1v11h-1zM196 143h1v11h-1zM399 143h1v11h-1zM487 143h1v11h-1zM569 154h1v10h-1zM585 154h1v10h-1zM198 164h1v13h-1zM303 164h1v13h-1zM322 164h1v13h-1zM170 177h1v14h-1zM404 177h1v14h-1zM531 177h1v14h-1zM565 177h1v14h-1zM335 191h1v13h-1zM505 191h1v13h-1zM177 204h1v13h-1zM285 204h1v13h-1zM347 204h1v13h-1zM358 204h1v13h-1zM536 204h1v13h-1zM548 204h1v13h-1zM328 217h1v14h-1zM388 217h1v14h-1z"/>
<path fill="#00aeff" d="M165 84h1v23h-1zM411 84h1v23h-1zM416 84h1v23h-1zM250 107h1v12h-1zM598 119h1v13h-1zM146 132h1v11h-1zM578 132h1v11h-1zM408 143h1v11h-1zM151 154h1v10h-1zM162 154h1v10h-1zM325 154h1v10h-1zM388 154h1v10h-1zM497 154h1v10h-1zM526 154h1v10h-1zM559 154h1v10h-1zM122 164h1v13h-1zM168 164h1v13h-1zM187 164h1v13h-1zM418 164h1v13h-1zM495 164h1v13h-1zM138 177h1v14h-1zM528 177h1v14h-1zM594 177h1v14h-1zM140 191h1v13h-1zM204 191h1v13h-1zM413 191h1v13h-1zM418 191h1v13h-1zM495 191h1v13h-1zM533 191h1v13h-1zM576 191h1v13h-1zM137 204h1v13h-1zM195 204h1v13h-1zM215 204h1v13h-1zM313 204h1v13h-1zM357 204h1v13h-1zM395 204h1v13h-1zM586 204h1v13h-1z"/>
<path fill="#0089ff" d="M171 84h1v23h-1zM486 84h1v23h-1zM486 132h1v11h-1zM122 143h1v11h-1zM137 143h1v11h-1zM135 154h1v10h-1zM188 154h1v10h-1zM531 154h1v10h-1zM591 154h1v10h-1zM156 164h1v13h-1zM350 164h1v13h-1zM136 191h1v13h-1zM326 191h1v13h-1z"/>
<path fill="#00acff" d="M175 84h1v23h-1zM295 107h1v12h-1zM531 107h1v12h-1zM117 119h1v13h-1zM362 119h1v13h-1zM212 132h1v11h-1zM314 132h1v11h-1zM330 132h1v11h-1zM381 132h1v11h-1zM157 143h1v11h-1zM499 143h1v11h-1zM119 154h1v10h-1zM301 154h1v10h-1zM567 154h1v10h-1zM318 164h1v13h-1zM383 164h1v13h-1zM393 164h1v13h-1zM154 177h1v14h-1zM169 177h1v14h-1zM337 177h1v14h-1zM340 177h1v14h-1zM527 177h1v14h-1zM173 191h1v13h-1zM345 191h1v13h-1zM555 191h1v13h-1zM249 204h1v13h-1zM286 204h1v13h-1zM507 204h1v13h-1zM540 204h1v13h-1zM583 204h2v13h-2z"/>
<path fill="#00bdff" d="M194 84h1v23h-1zM248 84h1v23h-1zM417 107h2v12h-2zM305 119h1v13h-1zM293 132h1v11h-1zM412 132h1v11h-1zM533 132h1v11h-1zM350 143h1v11h-1zM582 154h1v10h-1zM147 164h1v13h-1zM200 164h1v13h-1zM325 164h1v13h-1zM173 177h1v14h-1zM313 177h1v14h-1zM373 177h1v14h-1zM156 191h1v13h-1zM252 191h1v13h-1zM296 191h1v13h-1zM353 191h1v13h-1zM553 191h1v13h-1zM116 204h1v13h-1zM148 204h1v13h-1zM362 204h1v13h-1zM471 204h1v13h-1zM395 217h1v14h-1zM568 217h2v14h-2zM585 217h1v14h-1z"/>
<path fill="#0082ff" d="M195 84h1v23h-1zM289 84h1v23h-1zM557 107h1v12h-1zM191 143h1v11h-1zM547 143h1v11h-1zM593 143h1v11h-1zM134 154h1v10h-1zM189 154h1v10h-1zM288 154h1v10h-1zM392 154h1v10h-1zM592 164h1v13h-1zM523 177h1v14h-1zM381 191h1v13h-1zM569 191h1v13h-1zM579 191h1v13h-1z"/>
<path fill="#00b7ff" d="M196 84h1v23h-1zM240 84h1v23h-1zM457 84h1v23h-1zM527 84h1v23h-1zM134 107h1v12h-1zM237 107h1v12h-1zM348 107h1v12h-1zM221 119h1v13h-1zM428 119h1v13h-1zM531 119h1v13h-1zM126 132h1v11h-1zM186 132h1v11h-1zM303 132h1v11h-1zM318 132h1v11h-1zM499 132h1v11h-1zM314 143h1v11h-1zM252 154h1v10h-1zM344 154h1v10h-1zM146 164h1v13h-1zM169 164h1v13h-1zM572 164h1v13h-1zM220 177h1v14h-1zM338 177h1v14h-1zM488 177h1v14h-1zM185 191h1v13h-1zM336 191h1v13h-1zM151 204h1v13h-1zM301 204h1v13h-1zM371 204h1v13h-1zM423 204h1v13h-1zM488 204h1v13h-1z"/>
<path fill="#00b9ff" d="M198 84h1v23h-1zM365 107h1v12h-1zM589 107h1v12h-1zM122 119h1v13h-1zM527 119h1v13h-1zM301 132h1v11h-1zM510 132h1v11h-1zM552 132h1v11h-1zM584 132h1v11h-1zM276 143h1v11h-1zM417 154h1v10h-1zM325 177h1v14h-1zM561 177h1v14h-1zM186 191h1v13h-1zM321 191h1v13h-1zM491 191h1v13h-1zM132 204h1v13h-1zM155 204h1v13h-1zM179 204h1v13h-1zM251 204h1v13h-1zM333 204h2v13h-2zM389 217h1v14h-1z"/>
<path fill="#00b1ff" d="M202 84h1v23h-1zM349 107h1v12h-1zM427 107h1v12h-1zM571 107h1v12h-1zM313 119h1v13h-1zM393 119h1v13h-1zM294 132h1v11h-1zM340 132h1v11h-1zM548 132h1v11h-1zM565 132h1v11h-1zM114 154h1v10h-1zM298 154h1v10h-1zM398 154h1v10h-1zM563 154h1v10h-1zM173 164h1v13h-1zM332 164h1v13h-1zM384 164h1v13h-1zM179 191h1v13h-1zM190 191h1v13h-1zM302 191h1v13h-1zM320 191h1v13h-1zM175 204h1v13h-1zM491 204h1v13h-1zM494 204h1v13h-1z"/>
<path fill="#00a0ff" d="M203 84h1v23h-1zM429 84h1v23h-1zM490 84h1v23h-1zM596 84h1v23h-1zM148 107h1v12h-1zM398 107h1v12h-1zM538 107h1v12h-1zM171 119h1v13h-1zM159 132h1v11h-1zM226 132h1v11h-1zM575 132h1v11h-1zM168 154h1v10h-1zM190 164h1v13h-1zM423 164h1v13h-1zM333 177h1v14h-1zM389 177h1v14h-1zM495 177h1v14h-1zM516 177h1v14h-1zM558 191h1v13h-1zM194 204h1v13h-1zM344 204h1v13h-1zM346 204h1v13h-1zM554 204h1v13h-1z"/>
<path fill="#0099ff" d="M204 84h1v23h-1zM223 84h1v23h-1zM245 84h1v23h-1zM520 84h1v23h-1zM170 107h1v12h-1zM389 107h1v12h-1zM114 119h1v13h-1zM243 119h1v13h-1zM308 119h1v13h-1zM515 143h1v11h-1zM575 143h1v11h-1zM130 154h1v10h-1zM136 154h1v10h-1zM165 154h1v10h-1zM165 164h2v13h-2zM200 177h1v14h-1zM332 191h1v13h-1zM404 191h1v13h-1zM479 204h1v13h-1z"/>
<path fill="#00a6ff" d="M212 84h1v23h-1zM373 84h1v23h-1zM190 107h1v12h-1zM390 107h1v12h-1zM207 132h1v11h-1zM313 132h1v11h-1zM540 132h1v11h-1zM580 132h1v11h-1zM165 143h1v11h-1zM409 143h1v11h-1zM226 154h1v10h-1zM162 164h1v13h-1zM359 164h1v13h-1zM319 177h1v14h-1zM406 177h1v14h-1zM232 191h1v13h-1zM344 191h1v13h-1zM219 204h1v13h-1zM401 204h1v13h-1zM409 204h1v13h-1zM496 204h1v13h-1zM516 204h1v13h-1zM396 217h1v14h-1z"/>
<path fill="#00a7ff" d="M221 84h1v23h-1zM350 84h1v23h-1zM526 84h1v23h-1zM570 84h1v23h-1zM395 107h1v12h-1zM510 107h1v12h-1zM296 119h1v13h-1zM164 132h1v11h-1zM425 132h1v11h-1zM543 132h1v11h-1zM118 143h1v11h-1zM315 143h1v11h-1zM479 143h1v11h-1zM595 143h1v11h-1zM389 154h1v10h-1zM488 154h1v10h-1zM597 154h1v10h-1zM160 164h1v13h-1zM485 177h1v14h-1zM126 191h1v13h-1zM198 191h1v13h-1zM425 191h1v13h-1zM135 204h1v13h-1z"/>
<path fill="#0092ff" d="M225 84h1v23h-1zM425 84h1v23h-1zM501 107h1v12h-1zM121 119h1v13h-1zM293 119h1v13h-1zM112 132h1v11h-1zM191 132h1v11h-1zM386 132h1v11h-1zM352 143h1v11h-1zM583 143h1v11h-1zM490 154h2v10h-2zM223 164h1v13h-1zM232 164h1v13h-1zM234 164h1v13h-1zM310 164h1v13h-1zM574 164h1v13h-1zM115 177h1v14h-1zM193 177h1v14h-1zM212 177h1v14h-1zM214 177h1v14h-1zM388 177h1v14h-1zM401 177h1v14h-1zM128 191h1v13h-1zM199 191h1v13h-1zM323 191h1v13h-1zM484 191h1v13h-1zM488 191h1v13h-1zM517 191h1v13h-1zM534 191h1v13h-1zM541 191h1v13h-1zM559 191h1v13h-1z"/>
<path fill="#009bff" d="M227 84h1v23h-1zM558 84h1v23h-1zM187 107h1v12h-1zM588 119h1v13h-1zM137 132h1v11h-1zM225 132h1v11h-1zM488 132h1v11h-1zM506 132h1v11h-1zM573 132h1v11h-1zM129 143h1v11h-1zM142 143h1v11h-1zM328 143h1v11h-1zM426 143h1v11h-1zM384 154h1v10h-1zM571 154h1v10h-1zM594 154h1v10h-1zM306 164h1v13h-1zM341 164h1v13h-1zM201 177h1v14h-1zM579 177h1v14h-1zM390 204h1v13h-1z"/>
<path fill="#0094ff" d="M232 84h1v23h-1zM244 84h1v23h-1zM332 84h1v23h-1zM386 84h1v23h-1zM468 84h1v23h-1zM595 84h1v23h-1zM332 119h1v13h-1zM128 132h1v11h-1zM198 132h1v11h-1zM408 132h1v11h-1zM146 143h1v11h-1zM329 143h1v11h-1zM367 143h1v11h-1zM397 143h1v11h-1zM508 143h1v11h-1zM131 154h1v10h-1zM336 154h1v10h-1zM349 154h1v10h-1zM403 164h1v13h-1zM593 164h1v13h-1zM146 177h1v14h-1zM189 177h1v14h-1zM208 177h1v14h-1zM561 191h1v13h-1z"/>
<path fill="#00d3ff" d="M237 84h1v23h-1zM166 107h1v12h-1zM215 119h1v13h-1zM298 132h1v11h-1zM332 132h1v11h-1zM500 132h1v11h-1zM337 143h1v11h-1zM360 143h1v11h-1zM224 154h1v10h-1zM357 154h1v10h-1zM363 154h1v10h-1zM544 154h1v10h-1zM557 154h1v10h-1zM329 164h1v13h-1zM499 164h1v13h-1zM193 191h1v13h-1zM480 191h1v13h-1zM242 204h1v13h-1zM291 204h1v13h-1zM309 204h1v13h-1zM338 204h1v13h-1zM407 204h1v13h-1zM163 217h1v14h-1z"/>
<path fill="#008dff" d="M243 84h1v23h-1zM288 84h1v23h-1zM405 119h1v13h-1zM552 119h1v13h-1zM229 132h1v11h-1zM297 143h1v11h-1zM535 143h1v11h-1zM539 143h1v11h-1zM543 143h1v11h-1zM477 154h1v10h-1zM224 164h1v13h-1zM372 164h1v13h-1zM165 177h1v14h-1zM335 177h1v14h-1zM284 191h1v13h-1zM357 191h1v13h-1zM492 191h1v13h-1zM494 191h1v13h-1zM540 191h1v13h-1z"/>
<path fill="#00afff" d="M246 84h1v23h-1zM133 107h1v12h-1zM385 107h1v12h-1zM413 107h1v12h-1zM513 107h1v12h-1zM371 119h1v13h-1zM396 119h1v13h-1zM151 132h1v11h-1zM283 132h1v11h-1zM328 132h1v11h-1zM170 143h1v11h-1zM526 143h1v11h-1zM587 154h1v10h-1zM324 164h1v13h-1zM357 164h1v13h-1zM535 164h1v13h-1zM551 164h1v13h-1zM218 177h1v14h-1zM403 177h1v14h-1zM591 177h1v14h-1zM250 191h1v13h-1zM412 191h1v13h-1zM414 191h1v13h-1zM190 204h1v13h-1zM476 204h1v13h-1zM483 204h1v13h-1z"/>
<path fill="#00b3ff" d="M249 84h1v23h-1zM407 84h1v23h-1zM577 107h1v12h-1zM254 132h1v11h-1zM288 132h1v11h-1zM558 132h1v11h-1zM504 143h1v11h-1zM302 154h1v10h-1zM565 154h1v10h-1zM598 154h1v10h-1zM139 164h1v13h-1zM399 164h1v13h-1zM361 177h1v14h-1zM474 177h1v14h-1zM157 191h1v13h-1zM251 191h1v13h-1zM305 191h1v13h-1zM571 191h1v13h-1zM156 204h2v13h-2zM478 204h1v13h-1zM526 204h1v13h-1zM596 204h1v13h-1z"/>
<path fill="#00c8ff" d="M251 84h1v23h-1zM294 84h1v23h-1zM164 107h1v12h-1zM198 107h1v12h-1zM358 107h1v12h-1zM369 107h1v12h-1zM550 107h1v12h-1zM573 107h1v12h-1zM185 119h1v13h-1zM311 119h1v13h-1zM549 119h1v13h-1zM553 132h1v11h-1zM125 143h1v11h-1zM413 143h1v11h-1zM554 143h1v11h-1zM564 143h1v11h-1zM391 154h1v10h-1zM546 164h1v13h-1zM580 164h1v13h-1zM112 177h1v14h-1zM312 177h1v14h-1zM330 177h1v14h-1zM290 191h1v13h-1zM293 191h1v13h-1zM408 191h1v13h-1zM465 191h1v13h-1zM507 191h1v13h-1zM234 204h1v13h-1zM490 204h1v13h-1zM221 217h1v14h-1zM584 217h1v14h-1z"/>
<path fill="#00a9ff" d="M257 84h1v23h-1zM338 84h1v23h-1zM545 84h1v23h-1zM551 84h1v23h-1zM571 84h1v23h-1zM416 107h1v12h-1zM519 107h1v12h-1zM163 119h1v13h-1zM524 119h1v13h-1zM363 132h1v11h-1zM156 143h1v11h-1zM169 143h1v11h-1zM512 143h1v11h-1zM209 154h1v10h-1zM119 164h1v13h-1zM167 164h1v13h-1zM360 164h1v13h-1zM148 191h1v13h-1zM184 191h1v13h-1zM250 204h1v13h-1zM397 204h1v13h-1zM530 204h1v13h-1zM595 204h1v13h-1z"/>
<path fill="#00fdf1" d="M259 84h1v23h-1zM454 119h1v13h-1zM457 143h1v11h-1zM458 154h1v10h-1zM155 245h1v13h-1zM389 245h1v13h-1zM540 245h1v13h-1zM335 258h1v13h-1zM375 258h1v13h-1zM394 258h1v13h-1zM499 271h1v13h-1zM520 271h1v13h-1zM167 284h1v14h-1zM241 284h1v14h-1zM295 284h1v14h-1zM299 284h1v14h-1zM401 284h1v14h-1zM150 298h1v15h-1zM563 298h1v15h-1zM574 298h1v15h-1zM378 313h1v20h-1zM514 313h1v20h-1zM169 333h1v11h-1zM413 333h1v11h-1z"/>
<path fill="#00f7cc" d="M260 84h1v23h-1zM458 164h1v13h-1z"/>
<path fill="#00f2ac" d="M261 84h1v23h-1zM440 84h1v23h-1zM451 107h1v12h-1z"/>
<path fill="#00f19b" d="M262 84h1v23h-1zM437 132h1v11h-1zM277 217h1v14h-1z"/>
<path fill="#00f2a6" d="M266 84h1v23h-1zM249 284h1v14h-1zM421 298h1v15h-1zM467 333h1v11h-1z"/>
<path fill="#00ccff" d="M267 84h1v23h-1zM315 84h1v23h-1zM150 107h1v12h-1zM158 107h1v12h-1zM597 107h1v12h-1zM194 132h1v11h-1zM199 132h1v11h-1zM133 143h1v11h-1zM321 143h1v11h-1zM124 154h1v10h-1zM312 154h1v10h-1zM372 154h1v10h-1zM549 154h1v10h-1zM584 154h1v10h-1zM171 164h1v13h-1zM502 164h1v13h-1zM363 177h1v14h-1zM114 191h1v13h-1zM120 191h1v13h-1zM124 191h1v13h-1zM595 191h1v13h-1zM500 204h1v13h-1zM151 217h1v14h-1zM495 217h1v14h-1zM498 217h1v14h-1zM556 217h1v14h-1zM341 231h1v14h-1z"/>
<path fill="#00d6ff" d="M268 84h1v23h-1zM223 107h1v12h-1zM300 119h1v13h-1zM505 119h1v13h-1zM507 119h1v13h-1zM419 132h1v11h-1zM554 132h1v11h-1zM222 143h1v11h-1zM238 143h1v11h-1zM563 143h1v11h-1zM169 154h1v10h-1zM233 154h1v10h-1zM360 154h1v10h-1zM347 164h1v13h-1zM475 164h1v13h-1zM216 177h1v14h-1zM331 177h1v14h-1zM496 177h1v14h-1zM138 191h1v13h-1zM247 191h1v13h-1zM249 191h1v13h-1zM582 191h1v13h-1zM161 204h1v13h-1zM208 204h1v13h-1zM302 204h1v13h-1zM379 204h1v13h-1zM381 204h1v13h-1zM501 204h1v13h-1zM135 217h1v14h-1zM171 217h1v14h-1zM214 231h1v14h-1zM233 231h1v14h-1zM371 231h1v14h-1zM398 231h1v14h-1zM556 231h1v14h-1zM594 231h1v14h-1z"/>
<path fill="#00beff" d="M276 84h1v23h-1zM415 84h1v23h-1zM112 107h1v12h-1zM543 107h1v12h-1zM598 107h1v12h-1zM197 132h1v11h-1zM406 154h1v10h-1zM513 154h1v10h-1zM387 164h1v13h-1zM473 164h1v13h-1zM562 164h1v13h-1zM322 177h1v14h-1zM383 177h1v14h-1zM463 177h1v14h-1zM493 177h1v14h-1zM322 191h1v13h-1zM420 191h1v13h-1zM475 191h1v13h-1zM186 204h1v13h-1zM196 204h1v13h-1zM497 204h1v13h-1zM510 204h1v13h-1zM528 204h1v13h-1zM215 217h1v14h-1zM339 217h1v14h-1zM421 217h1v14h-1zM522 217h1v14h-1zM566 217h1v14h-1z"/>
<path fill="#0095ff" d="M287 84h1v23h-1zM426 84h1v23h-1zM537 107h1v12h-1zM348 119h1v13h-1zM596 119h1v13h-1zM176 132h1v11h-1zM181 132h1v11h-1zM340 143h1v11h-1zM369 143h1v11h-1zM496 143h1v11h-1zM280 154h1v10h-1zM296 154h1v10h-1zM140 164h1v13h-1zM179 164h1v13h-1zM192 164h1v13h-1zM317 164h1v13h-1zM484 164h1v13h-1zM564 164h1v13h-1zM113 177h1v14h-1zM123 177h1v14h-1zM145 177h1v14h-1zM377 191h1v13h-1zM416 191h1v13h-1zM493 191h1v13h-1zM556 204h1v13h-1z"/>
<path fill="#00c3ff" d="M295 84h1v23h-1zM315 107h1v12h-1zM319 132h1v11h-1zM138 154h1v10h-1zM195 164h1v13h-1zM333 164h1v13h-1zM552 164h1v13h-1zM311 177h1v14h-1zM339 177h1v14h-1zM292 191h1v13h-1zM117 204h1v13h-1zM363 204h1v13h-1zM391 204h1v13h-1zM394 204h1v13h-1zM514 204h1v13h-1zM130 217h1v14h-1zM239 217h1v14h-1zM550 217h1v14h-1z"/>
<path fill="#009eff" d="M296 84h1v23h-1zM374 84h1v23h-1zM525 84h1v23h-1zM382 107h1v12h-1zM514 107h1v12h-1zM337 119h1v13h-1zM123 132h1v11h-1zM222 132h1v11h-1zM132 143h1v11h-1zM355 143h1v11h-1zM489 143h1v11h-1zM522 143h1v11h-1zM576 143h1v11h-1zM187 154h1v10h-1zM350 154h1v10h-1zM527 154h1v10h-1zM286 164h1v13h-1zM422 164h1v13h-1zM152 177h1v14h-1zM578 177h1v14h-1zM378 191h1v13h-1zM400 191h1v13h-1zM171 204h1v13h-1zM218 204h1v13h-1zM305 204h1v13h-1zM487 204h1v13h-1zM558 204h1v13h-1z"/>
<path fill="#0083ff" d="M300 84h1v23h-1zM343 84h1v23h-1zM471 84h1v23h-1zM532 84h1v23h-1zM507 107h1v12h-1zM530 132h1v11h-1zM563 132h1v11h-1zM589 132h1v11h-1zM216 154h1v10h-1zM425 154h1v10h-1zM158 164h1v13h-1zM235 164h1v13h-1zM412 164h1v13h-1zM417 164h1v13h-1zM497 164h1v13h-1zM535 177h1v14h-1zM367 191h1v13h-1zM386 191h1v13h-1zM422 191h1v13h-1z"/>
<path fill="#008aff" d="M313 84h1v23h-1zM235 107h1v12h-1zM388 107h1v12h-1zM129 119h1v13h-1zM127 132h1v11h-1zM112 143h1v11h-1zM127 143h1v11h-1zM358 143h1v11h-1zM483 143h1v11h-1zM588 143h1v11h-1zM308 154h1v10h-1zM178 164h1v13h-1zM368 164h1v13h-1zM426 164h1v13h-1zM314 177h2v14h-2zM145 204h1v13h-1z"/>
<path fill="#00c1ff" d="M317 84h1v23h-1zM253 107h1v12h-1zM357 107h1v12h-1zM489 119h1v13h-1zM593 119h1v13h-1zM411 132h1v11h-1zM511 132h2v11h-2zM363 143h1v11h-1zM322 154h1v10h-1zM503 154h1v10h-1zM580 154h1v10h-1zM145 164h1v13h-1zM199 164h1v13h-1zM209 164h1v13h-1zM334 164h1v13h-1zM323 177h1v14h-1zM372 177h1v14h-1zM123 191h1v13h-1zM464 191h1v13h-1zM164 204h1v13h-1zM385 204h1v13h-1zM327 217h1v14h-1zM341 217h1v14h-1zM387 217h1v14h-1zM421 231h1v14h-1z"/>
<path fill="#00d1ff" d="M318 84h1v23h-1zM141 107h1v12h-1zM504 119h1v13h-1zM515 119h1v13h-1zM342 132h1v11h-1zM376 132h1v11h-1zM179 154h1v10h-1zM483 154h1v10h-1zM182 164h1v13h-1zM214 191h1v13h-1zM295 191h1v13h-1zM373 191h1v13h-1zM476 191h1v13h-1zM543 191h1v13h-1zM546 191h1v13h-1zM243 204h1v13h-1zM193 217h1v14h-1zM513 217h1v14h-1z"/>
<path fill="#00bfff" d="M335 84h1v23h-1zM383 107h1v12h-1zM406 107h1v12h-1zM206 119h1v13h-1zM312 119h1v13h-1zM321 119h1v13h-1zM390 119h1v13h-1zM514 119h1v13h-1zM116 132h1v11h-1zM161 132h1v11h-1zM196 132h1v11h-1zM273 132h1v11h-1zM297 132h1v11h-1zM320 132h1v11h-1zM513 132h1v11h-1zM532 132h1v11h-1zM177 143h1v11h-1zM532 143h1v11h-1zM542 143h1v11h-1zM545 143h1v11h-1zM486 154h1v10h-1zM115 164h2v13h-2zM474 164h1v13h-1zM571 164h1v13h-1zM356 177h1v14h-1zM555 177h1v14h-1zM356 191h1v13h-1zM133 204h1v13h-1zM492 204h1v13h-1z"/>
<path fill="#009aff" d="M341 84h1v23h-1zM393 84h1v23h-1zM508 84h1v23h-1zM169 107h1v12h-1zM277 107h1v12h-1zM379 107h1v12h-1zM203 119h1v13h-1zM521 119h1v13h-1zM329 132h1v11h-1zM355 132h1v11h-1zM386 143h1v11h-1zM396 143h1v11h-1zM427 143h1v11h-1zM519 143h1v11h-1zM166 154h1v10h-1zM311 164h1v13h-1zM125 177h1v14h-1zM485 204h1v13h-1z"/>
<path fill="#00c9ff" d="M354 84h1v23h-1zM203 107h1v12h-1zM340 107h1v12h-1zM343 119h1v13h-1zM416 132h2v11h-2zM508 132h1v11h-1zM588 132h1v11h-1zM184 143h1v11h-1zM310 143h1v11h-1zM549 143h1v11h-1zM553 154h1v10h-1zM280 164h1v13h-1zM500 164h1v13h-1zM117 177h1v14h-1zM119 177h1v14h-1zM172 177h1v14h-1zM540 177h1v14h-1zM155 191h1v13h-1zM550 191h2v13h-2zM150 204h1v13h-1zM299 204h1v13h-1zM316 204h1v13h-1zM336 204h1v13h-1zM343 204h1v13h-1zM538 204h1v13h-1zM131 217h1v14h-1zM224 217h1v14h-1zM314 217h1v14h-1zM493 217h1v14h-1zM543 217h1v14h-1zM590 217h1v14h-1z"/>
<path fill="#00b2ff" d="M379 84h1v23h-1zM430 84h1v23h-1zM512 84h1v23h-1zM563 84h1v23h-1zM565 84h1v23h-1zM229 107h1v12h-1zM331 107h1v12h-1zM556 107h1v12h-1zM173 119h1v13h-1zM357 119h1v13h-1zM363 119h1v13h-1zM295 132h1v11h-1zM187 143h1v11h-1zM231 143h1v11h-1zM279 154h1v10h-1zM364 164h1v13h-1zM142 177h1v14h-1zM156 177h1v14h-1zM370 177h1v14h-1zM418 177h1v14h-1zM521 177h1v14h-1zM297 191h1v13h-1zM401 191h1v13h-1zM140 204h1v13h-1zM207 204h1v13h-1zM484 204h1v13h-1zM525 204h1v13h-1zM542 204h1v13h-1z"/>
<path fill="#00c2ff" d="M404 84h1v23h-1zM497 84h1v23h-1zM544 84h1v23h-1zM548 84h1v23h-1zM370 107h1v12h-1zM315 119h1v13h-1zM517 119h1v13h-1zM204 132h1v11h-1zM369 132h1v11h-1zM495 132h1v11h-1zM591 132h1v11h-1zM219 143h1v11h-1zM227 143h1v11h-1zM493 143h1v11h-1zM155 154h1v10h-1zM172 154h1v10h-1zM142 164h1v13h-1zM278 164h1v13h-1zM161 177h1v14h-1zM303 177h1v14h-1zM355 177h1v14h-1zM360 177h1v14h-1zM479 177h1v14h-1zM117 191h1v13h-1zM303 191h1v13h-1zM499 191h1v13h-1zM547 191h1v13h-1zM146 204h1v13h-1zM284 204h1v13h-1zM144 217h1v14h-1zM177 217h1v14h-1z"/>
<path fill="#00fef7" d="M437 84h1v23h-1zM250 231h1v14h-1zM310 231h1v14h-1zM534 231h1v14h-1zM129 245h1v13h-1zM131 245h1v13h-1zM153 245h2v13h-2zM185 245h1v13h-1zM198 245h1v13h-1zM308 245h1v13h-1zM318 245h1v13h-1zM351 245h1v13h-1zM415 245h2v13h-2zM519 245h1v13h-1zM571 245h1v13h-1zM146 258h1v13h-1zM186 258h1v13h-1zM210 258h1v13h-1zM319 258h1v13h-1zM332 258h1v13h-1zM370 258h1v13h-1zM492 258h1v13h-1zM588 258h1v13h-1zM305 271h1v13h-1zM310 271h1v13h-1zM341 271h1v13h-1zM545 271h1v13h-1zM492 284h1v14h-1zM510 284h1v14h-1zM527 284h1v14h-1zM573 284h1v14h-1zM146 298h1v15h-1zM418 298h1v15h-1zM471 298h1v15h-1zM517 298h1v15h-1zM550 298h1v15h-1zM415 333h1v11h-1z"/>
<path fill="#00fadc" d="M438 84h1v23h-1zM223 258h1v13h-1zM224 271h1v13h-1zM364 271h1v13h-1zM196 284h1v14h-1zM232 284h1v14h-1zM560 284h1v14h-1zM525 298h1v15h-1zM566 298h1v15h-1zM190 313h1v20h-1zM468 313h1v20h-1zM512 313h1v20h-1zM507 333h1v11h-1zM533 333h1v11h-1z"/>
<path fill="#00f6c3" d="M439 84h1v23h-1zM274 164h1v13h-1zM284 333h1v11h-1z"/>
<path fill="#00f29e" d="M441 84h1v23h-1zM272 154h1v10h-1zM248 313h1v20h-1zM282 313h1v20h-1z"/>
<path fill="#00f193" d="M442 84h1v23h-1zM439 119h1v13h-1zM451 119h1v13h-1zM269 132h1v11h-1zM431 204h1v13h-1z"/>
<path fill="#00f18e" d="M443 84h1v23h-1z"/>
<path fill="#00f18f" d="M448 84h1v23h-1zM252 245h1v13h-1zM425 271h1v13h-1z"/>
<path fill="#00f2a0" d="M449 84h1v23h-1z"/>
<path fill="#00f5c0" d="M450 84h1v23h-1zM420 298h1v15h-1zM247 313h1v20h-1z"/>
<path fill="#00fced" d="M451 84h1v23h-1zM259 107h1v12h-1zM255 154h1v10h-1zM253 191h1v13h-1zM280 231h1v14h-1zM248 258h1v13h-1zM379 258h1v13h-1zM413 258h1v13h-1zM139 271h1v13h-1zM169 271h1v13h-1zM205 271h1v13h-1zM377 271h1v13h-1zM125 284h1v14h-1zM287 284h1v14h-1zM289 284h1v14h-1zM359 284h1v14h-1zM361 284h1v14h-1zM524 284h1v14h-1zM540 284h2v14h-2zM130 298h1v15h-1zM146 313h1v20h-1zM224 313h1v20h-1zM288 313h1v20h-1zM296 313h1v20h-1zM302 313h1v20h-1zM317 313h1v20h-1zM549 313h1v20h-1zM135 333h1v11h-1zM156 333h1v11h-1zM206 333h1v11h-1zM382 333h1v11h-1zM480 333h1v11h-1zM595 333h1v11h-1z"/>
<path fill="#00a4ff" d="M455 84h1v23h-1zM538 84h1v23h-1zM569 84h1v23h-1zM132 107h1v12h-1zM394 107h1v12h-1zM509 107h1v12h-1zM270 119h1v13h-1zM425 119h1v13h-1zM173 132h1v11h-1zM315 132h1v11h-1zM388 143h1v11h-1zM584 143h1v11h-1zM560 154h1v10h-1zM164 164h1v13h-1zM281 164h1v13h-1zM365 164h1v13h-1zM424 164h1v13h-1zM222 177h1v14h-1zM235 177h1v14h-1zM305 177h1v14h-1zM593 177h1v14h-1zM130 191h1v13h-1zM203 191h1v13h-1zM396 191h1v13h-1zM144 204h1v13h-1zM206 204h1v13h-1zM292 204h1v13h-1zM345 204h1v13h-1zM592 204h1v13h-1z"/>
<path fill="#00abff" d="M458 84h1v23h-1zM389 119h1v13h-1zM409 119h1v13h-1zM130 132h1v11h-1zM157 132h1v11h-1zM189 132h1v11h-1zM308 132h1v11h-1zM113 143h1v11h-1zM230 143h1v11h-1zM211 154h1v10h-1zM238 154h1v10h-1zM253 154h1v10h-1zM297 154h1v10h-1zM498 154h1v10h-1zM529 154h1v10h-1zM483 164h1v13h-1zM178 191h1v13h-1zM188 204h1v13h-1zM230 204h1v13h-1zM468 204h1v13h-1zM506 204h1v13h-1z"/>
<path fill="#00d4ff" d="M462 84h1v23h-1zM479 84h1v23h-1zM583 84h1v23h-1zM402 107h1v12h-1zM240 119h1v13h-1zM477 119h1v13h-1zM491 119h1v13h-1zM234 132h1v11h-1zM324 132h1v11h-1zM359 132h1v11h-1zM361 132h1v11h-1zM502 132h1v11h-1zM571 132h1v11h-1zM167 143h1v11h-1zM170 154h1v10h-1zM143 164h1v13h-1zM296 177h1v14h-1zM484 177h1v14h-1zM532 177h1v14h-1zM131 191h1v13h-1zM544 191h1v13h-1zM563 191h1v13h-1zM227 204h1v13h-1zM297 204h2v13h-2zM542 217h1v14h-1z"/>
<path fill="#00d2ff" d="M466 84h1v23h-1zM505 84h1v23h-1zM547 119h1v13h-1zM168 132h1v11h-1zM235 132h1v11h-1zM482 132h1v11h-1zM391 143h1v11h-1zM476 143h1v11h-1zM340 154h1v10h-1zM365 154h1v10h-1zM514 154h1v10h-1zM551 154h1v10h-1zM196 164h1v13h-1zM312 164h1v13h-1zM501 164h1v13h-1zM307 177h1v14h-1zM237 191h1v13h-1zM470 191h1v13h-1zM496 191h1v13h-1zM383 204h1v13h-1zM116 217h1v14h-1zM175 217h1v14h-1zM192 217h1v14h-1zM226 217h1v14h-1zM364 217h1v14h-1zM488 217h1v14h-1zM494 217h1v14h-1zM527 217h1v14h-1zM546 217h1v14h-1zM551 217h1v14h-1zM213 231h1v14h-1z"/>
<path fill="#00ceff" d="M477 84h1v23h-1zM593 84h1v23h-1zM301 107h1v12h-1zM420 132h1v11h-1zM523 132h1v11h-1zM356 143h1v11h-1zM377 143h1v11h-1zM531 143h1v11h-1zM557 143h1v11h-1zM175 154h1v10h-1zM293 154h1v10h-1zM408 154h1v10h-1zM482 154h1v10h-1zM572 154h1v10h-1zM348 164h1v13h-1zM477 164h1v13h-1zM598 164h1v13h-1zM182 177h1v14h-1zM562 177h1v14h-1zM169 191h1v13h-1zM355 191h1v13h-1zM545 191h1v13h-1zM306 204h1v13h-1zM353 204h1v13h-1zM400 204h1v13h-1zM482 204h1v13h-1zM524 204h1v13h-1zM541 204h1v13h-1zM550 204h1v13h-1zM146 217h3v14h-3zM325 217h1v14h-1zM572 217h1v14h-1z"/>
<path fill="#0097ff" d="M480 84h1v23h-1zM381 107h1v12h-1zM585 107h1v12h-1zM218 119h1v13h-1zM359 119h1v13h-1zM373 119h1v13h-1zM424 119h1v13h-1zM524 132h1v11h-1zM342 143h1v11h-1zM567 143h1v11h-1zM598 143h1v11h-1zM283 154h1v10h-1zM315 164h1v13h-1zM536 164h1v13h-1zM407 177h1v14h-1zM347 191h1v13h-1zM473 191h1v13h-1zM542 191h1v13h-1z"/>
<path fill="#007cff" d="M487 84h1v23h-1zM225 107h1v12h-1zM120 143h1v11h-1zM312 143h1v11h-1zM332 143h1v11h-1zM304 154h1v10h-1zM554 154h1v10h-1zM121 164h1v13h-1zM557 164h1v13h-1zM224 177h1v14h-1zM461 177h1v14h-1zM501 177h1v14h-1zM537 177h1v14h-1zM551 177h1v14h-1zM365 191h1v13h-1zM424 191h1v13h-1z"/>
<path fill="#00c0ff" d="M502 84h1v23h-1zM485 119h1v13h-1zM232 132h1v11h-1zM272 132h1v11h-1zM344 132h1v11h-1zM349 143h1v11h-1zM505 143h1v11h-1zM556 143h1v11h-1zM112 154h1v10h-1zM150 154h1v10h-1zM311 154h1v10h-1zM321 154h1v10h-1zM546 154h1v10h-1zM230 164h1v13h-1zM277 164h1v13h-1zM386 164h1v13h-1zM523 164h1v13h-1zM548 164h1v13h-1zM561 164h1v13h-1zM570 164h1v13h-1zM120 177h1v14h-1zM300 177h1v14h-1zM312 204h1v13h-1zM321 204h1v13h-1zM330 204h1v13h-1zM535 204h1v13h-1zM234 217h1v14h-1z"/>
<path fill="#00d0ff" d="M506 84h1v23h-1zM139 107h1v12h-1zM407 107h1v12h-1zM549 107h1v12h-1zM596 107h1v12h-1zM146 119h1v13h-1zM516 119h1v13h-1zM366 132h1v11h-1zM534 143h1v11h-1zM561 143h1v11h-1zM572 143h1v11h-1zM214 154h1v10h-1zM371 154h1v10h-1zM152 164h1v13h-1zM300 164h1v13h-1zM352 164h1v13h-1zM470 164h1v13h-1zM405 177h1v14h-1zM511 177h1v14h-1zM519 177h1v14h-1zM165 191h1v13h-1zM212 191h1v13h-1zM239 191h1v13h-1zM593 191h1v13h-1zM239 204h1v13h-1zM114 217h1v14h-1zM167 217h1v14h-1z"/>
<path fill="#00a1ff" d="M515 84h1v23h-1zM414 107h1v12h-1zM191 119h1v13h-1zM242 119h1v13h-1zM511 119h1v13h-1zM153 132h1v11h-1zM174 132h1v11h-1zM549 132h1v11h-1zM576 132h1v11h-1zM207 154h1v10h-1zM378 154h1v10h-1zM561 154h1v10h-1zM127 164h1v13h-1zM595 164h1v13h-1zM202 177h1v14h-1zM570 191h1v13h-1zM173 204h1v13h-1zM183 204h1v13h-1zM563 204h1v13h-1zM580 204h1v13h-1z"/>
<path fill="#00bbff" d="M543 84h1v23h-1zM183 107h1v12h-1zM312 107h1v12h-1zM314 107h1v12h-1zM333 107h1v12h-1zM364 107h1v12h-1zM149 119h1v13h-1zM220 132h1v11h-1zM529 132h1v11h-1zM556 132h1v11h-1zM585 132h1v11h-1zM400 143h1v11h-1zM416 143h1v11h-1zM163 154h1v10h-1zM254 154h1v10h-1zM324 154h1v10h-1zM374 154h1v10h-1zM413 177h1v14h-1zM505 177h1v14h-1zM534 177h1v14h-1zM315 191h1v13h-1zM338 191h1v13h-1zM404 204h1v13h-1zM168 217h1v14h-1z"/>
<path fill="#009fff" d="M556 84h1v23h-1zM314 119h1v13h-1zM324 119h1v13h-1zM126 164h1v13h-1zM394 164h1v13h-1zM396 164h2v13h-2zM216 204h1v13h-1zM225 204h1v13h-1zM310 204h1v13h-1zM387 204h1v13h-1zM477 204h1v13h-1z"/>
<path fill="#00a3ff" d="M562 84h1v23h-1zM325 107h1v12h-1zM134 119h1v13h-1zM169 119h1v13h-1zM330 119h1v13h-1zM575 119h1v13h-1zM312 132h1v11h-1zM380 154h1v10h-1zM161 164h1v13h-1zM151 191h1v13h-1zM153 191h1v13h-1zM161 191h1v13h-1zM392 191h1v13h-1zM411 191h1v13h-1zM136 204h1v13h-1zM167 204h1v13h-1zM463 204h1v13h-1zM544 204h1v13h-1z"/>
<path fill="#00b6ff" d="M573 84h1v23h-1zM136 107h1v12h-1zM172 107h1v12h-1zM428 107h1v12h-1zM587 107h1v12h-1zM401 119h1v13h-1zM429 119h1v13h-1zM317 132h1v11h-1zM519 132h1v11h-1zM593 132h1v11h-1zM149 154h1v10h-1zM375 154h1v10h-1zM381 154h1v10h-1zM593 154h1v10h-1zM144 164h1v13h-1zM531 164h1v13h-1zM140 177h1v14h-1zM342 177h1v14h-1zM393 177h1v14h-1zM482 177h1v14h-1zM339 191h1v13h-1zM138 204h1v13h-1zM372 204h1v13h-1z"/>
<path fill="#0090ff" d="M579 84h1v23h-1zM124 107h1v12h-1zM482 107h1v12h-1zM522 119h1v13h-1zM182 132h1v11h-1zM353 143h1v11h-1zM406 143h1v11h-1zM420 143h1v11h-1zM428 143h1v11h-1zM303 154h1v10h-1zM370 154h1v10h-1zM385 154h1v10h-1zM522 154h1v10h-1zM556 154h1v10h-1zM153 164h1v13h-1zM204 164h1v13h-1zM294 164h1v13h-1zM340 164h1v13h-1zM481 164h1v13h-1zM207 177h1v14h-1zM176 191h1v13h-1zM516 191h1v13h-1zM565 191h1v13h-1zM586 191h1v13h-1z"/>
<path fill="#00b0ff" d="M135 107h1v12h-1zM324 107h1v12h-1zM499 107h1v12h-1zM540 119h1v13h-1zM525 132h1v11h-1zM528 132h1v11h-1zM537 132h1v11h-1zM175 143h1v11h-1zM328 154h1v10h-1zM562 154h1v10h-1zM203 164h1v13h-1zM358 164h1v13h-1zM183 191h1v13h-1zM388 191h1v13h-1zM462 191h1v13h-1zM474 191h1v13h-1zM376 204h1v13h-1zM565 204h1v13h-1z"/>
<path fill="#009cff" d="M156 107h1v12h-1zM192 119h1v13h-1zM231 119h1v13h-1zM335 119h1v13h-1zM121 132h1v11h-1zM171 132h1v11h-1zM354 132h1v11h-1zM213 143h1v11h-1zM338 154h1v10h-1zM478 154h1v10h-1zM515 154h1v10h-1zM177 164h1v13h-1zM316 164h1v13h-1zM392 164h1v13h-1zM144 177h1v14h-1zM327 177h1v14h-1zM288 191h1v13h-1zM477 191h1v13h-1zM487 191h1v13h-1zM548 191h1v13h-1zM573 191h1v13h-1zM590 191h1v13h-1zM339 204h1v13h-1zM388 204h1v13h-1zM408 204h1v13h-1z"/>
<path fill="#00c6ff" d="M173 107h1v12h-1zM570 107h1v12h-1zM561 119h1v13h-1zM398 132h1v11h-1zM586 132h1v11h-1zM303 143h1v11h-1zM309 143h1v11h-1zM481 154h1v10h-1zM194 164h1v13h-1zM207 164h1v13h-1zM547 164h1v13h-1zM597 164h1v13h-1zM362 177h1v14h-1zM411 177h1v14h-1zM294 191h1v13h-1zM160 204h1v13h-1zM162 204h1v13h-1zM202 204h1v13h-1zM341 204h1v13h-1zM377 204h1v13h-1zM380 217h1v14h-1zM549 217h1v14h-1z"/>
<path fill="#00d9ff" d="M186 107h1v12h-1zM521 107h1v12h-1zM139 132h1v11h-1zM231 132h1v11h-1zM326 132h1v11h-1zM371 132h1v11h-1zM305 143h1v11h-1zM577 143h1v11h-1zM596 143h1v11h-1zM141 154h1v10h-1zM215 154h1v10h-1zM133 164h1v13h-1zM378 164h1v13h-1zM478 164h1v13h-1zM294 177h1v14h-1zM507 177h1v14h-1zM248 191h1v13h-1zM374 191h1v13h-1zM498 191h1v13h-1zM526 191h1v13h-1zM118 204h1v13h-1zM154 204h1v13h-1zM192 204h1v13h-1zM364 204h1v13h-1zM348 217h1v14h-1zM595 217h1v14h-1zM294 231h1v14h-1zM374 231h1v14h-1zM402 231h1v14h-1zM490 231h1v14h-1zM592 231h2v14h-2z"/>
<path fill="#00b8ff" d="M196 107h1v12h-1zM210 132h1v11h-1zM289 132h1v11h-1zM200 143h1v11h-1zM501 143h1v11h-1zM177 154h1v10h-1zM181 154h1v10h-1zM413 154h1v10h-1zM533 154h1v10h-1zM522 164h1v13h-1zM568 164h1v13h-1zM588 164h1v13h-1zM121 177h1v14h-1zM129 177h1v14h-1zM198 177h1v14h-1zM330 191h1v13h-1zM397 191h1v13h-1zM182 204h1v13h-1zM217 204h1v13h-1zM521 204h1v13h-1zM588 204h1v13h-1z"/>
<path fill="#008fff" d="M214 107h1v12h-1zM176 119h1v13h-1zM229 119h1v13h-1zM298 119h1v13h-1zM376 119h1v13h-1zM118 132h1v11h-1zM155 132h1v11h-1zM504 132h1v11h-1zM209 143h1v11h-1zM299 143h1v11h-1zM458 143h1v11h-1zM203 154h1v10h-1zM217 154h1v10h-1zM523 154h1v10h-1zM295 164h1v13h-1zM480 164h1v13h-1zM192 177h1v14h-1zM377 177h1v14h-1zM514 177h1v14h-1zM348 191h1v13h-1zM360 191h1v13h-1zM398 191h1v13h-1zM486 191h1v13h-1z"/>
<path fill="#00d8ff" d="M228 107h1v12h-1zM373 107h1v12h-1zM179 119h1v13h-1zM580 119h1v13h-1zM496 132h1v11h-1zM501 132h1v11h-1zM517 143h1v11h-1zM568 143h1v11h-1zM575 154h1v10h-1zM134 164h1v13h-1zM377 164h1v13h-1zM183 177h1v14h-1zM308 177h1v14h-1zM533 177h1v14h-1zM558 177h1v14h-1zM588 177h1v14h-1zM327 191h1v13h-1zM532 191h1v13h-1zM121 204h1v13h-1zM323 204h1v13h-1zM332 204h1v13h-1zM406 204h1v13h-1zM469 204h1v13h-1zM593 204h1v13h-1zM308 231h1v14h-1zM399 231h1v14h-1zM480 231h1v14h-1z"/>
<path fill="#00bcff" d="M251 107h1v12h-1zM566 107h1v12h-1zM325 119h1v13h-1zM402 119h1v13h-1zM500 119h1v13h-1zM395 132h1v11h-1zM402 132h1v11h-1zM526 132h1v11h-1zM153 143h1v11h-1zM172 143h1v11h-1zM307 143h2v11h-2zM323 154h1v10h-1zM358 154h1v10h-1zM407 154h1v10h-1zM385 164h1v13h-1zM543 164h1v13h-1zM358 177h1v14h-1zM217 191h1v13h-1zM337 191h1v13h-1zM511 204h1v13h-1z"/>
<path fill="#00b4ff" d="M254 107h1v12h-1zM355 107h1v12h-1zM493 107h1v12h-1zM226 119h1v13h-1zM205 132h1v11h-1zM480 143h1v11h-1zM544 143h1v11h-1zM499 154h1v10h-1zM519 154h1v10h-1zM564 154h1v10h-1zM534 164h1v13h-1zM382 177h1v14h-1zM141 204h1v13h-1zM169 204h1v13h-1zM464 204h1v13h-1zM566 204h1v13h-1zM569 204h1v13h-1zM576 204h1v13h-1zM585 204h1v13h-1z"/>
<path fill="#00f6c2" d="M260 107h1v12h-1zM273 154h1v10h-1zM427 231h1v14h-1zM463 245h1v13h-1z"/>
<path fill="#00f2a1" d="M261 107h1v12h-1zM440 107h1v12h-1zM274 177h1v14h-1zM280 258h1v13h-1zM420 333h1v11h-1z"/>
<path fill="#00f18d" d="M262 107h1v12h-1zM282 333h1v11h-1z"/>
<path fill="#00f196" d="M266 107h1v12h-1zM256 177h1v14h-1zM251 258h1v13h-1z"/>
<path fill="#00d5ff" d="M269 107h1v12h-1zM505 107h1v12h-1zM508 119h1v13h-1zM200 132h1v11h-1zM161 143h1v11h-1zM223 143h1v11h-1zM236 143h1v11h-1zM536 143h1v11h-1zM327 154h1v10h-1zM480 154h1v10h-1zM579 164h1v13h-1zM184 177h1v14h-1zM541 177h1v14h-1zM113 191h1v13h-1zM225 191h1v13h-1zM525 191h1v13h-1zM578 204h1v13h-1zM139 217h1v14h-1zM225 217h1v14h-1zM332 217h1v14h-1zM349 217h1v14h-1zM407 217h1v14h-1zM482 217h1v14h-1zM567 217h1v14h-1zM571 217h1v14h-1zM366 231h1v14h-1zM369 231h1v14h-1zM487 231h1v14h-1zM491 231h1v14h-1zM506 231h1v14h-1z"/>
<path fill="#0096ff" d="M336 107h1v12h-1zM364 132h1v11h-1zM361 143h1v11h-1zM521 143h1v11h-1zM540 143h1v11h-1zM315 154h1v10h-1zM418 154h1v10h-1zM525 154h1v10h-1zM221 164h1v13h-1zM298 164h1v13h-1zM314 164h1v13h-1zM565 164h1v13h-1zM333 191h1v13h-1zM531 204h1v13h-1z"/>
<path fill="#00e4ff" d="M374 107h1v12h-1zM112 164h1v13h-1zM232 177h1v14h-1zM245 191h1v13h-1zM126 217h1v14h-1zM244 217h1v14h-1zM312 217h1v14h-1zM384 217h1v14h-1zM515 217h1v14h-1zM117 231h1v14h-1zM143 231h1v14h-1zM199 231h1v14h-1zM343 231h1v14h-1zM582 231h1v14h-1z"/>
<path fill="#00f9d5" d="M438 107h1v12h-1zM283 284h1v14h-1zM114 313h1v20h-1zM161 313h1v20h-1zM220 313h1v20h-1zM380 313h1v20h-1zM384 313h1v20h-1zM207 333h1v11h-1zM375 333h1v11h-1z"/>
<path fill="#00f4b8" d="M439 107h1v12h-1zM419 333h1v11h-1z"/>
<path fill="#00f192" d="M441 107h1v12h-1zM270 143h1v11h-1zM456 164h1v13h-1zM457 177h1v14h-1zM458 191h1v13h-1zM462 258h1v13h-1z"/>
<path fill="#00f186" d="M442 107h1v12h-1zM272 164h1v13h-1zM253 231h1v14h-1zM460 231h1v14h-1z"/>
<path fill="#00f07f" d="M443 107h1v12h-1zM448 107h1v12h-1zM452 132h1v11h-1zM258 154h1v10h-1zM432 204h1v13h-1zM254 217h1v14h-1zM422 333h1v11h-1z"/>
<path fill="#00f188" d="M449 107h1v12h-1zM267 119h1v13h-1zM438 132h1v11h-1zM458 204h1v13h-1z"/>
<path fill="#00f198" d="M450 107h1v12h-1zM430 217h1v14h-1zM281 284h1v14h-1z"/>
<path fill="#00f8ce" d="M452 107h1v12h-1zM248 284h1v14h-1zM421 284h1v14h-1z"/>
<path fill="#0080ff" d="M502 107h1v12h-1zM328 119h1v13h-1zM143 132h1v11h-1zM149 132h1v11h-1zM216 143h1v11h-1zM116 154h1v10h-1zM347 154h1v10h-1zM424 154h1v10h-1zM509 154h1v10h-1zM524 154h1v10h-1zM362 164h1v13h-1zM371 164h1v13h-1zM381 164h1v13h-1zM410 164h2v13h-2zM415 164h1v13h-1zM164 177h1v14h-1zM167 177h1v14h-1zM236 177h1v14h-1z"/>
<path fill="#00cbff" d="M515 107h1v12h-1zM213 119h1v13h-1zM378 119h1v13h-1zM387 119h1v13h-1zM548 119h1v13h-1zM577 119h1v13h-1zM215 132h1v11h-1zM218 132h1v11h-1zM236 132h1v11h-1zM391 132h1v11h-1zM397 132h1v11h-1zM405 154h1v10h-1zM541 154h1v10h-1zM148 164h1v13h-1zM330 164h1v13h-1zM402 164h1v13h-1zM310 177h1v14h-1zM366 177h1v14h-1zM229 191h2v13h-2zM280 191h1v13h-1zM351 191h1v13h-1zM354 191h1v13h-1zM409 191h1v13h-1zM466 191h1v13h-1zM223 204h1v13h-1zM315 204h1v13h-1zM329 204h1v13h-1zM350 204h1v13h-1zM534 204h1v13h-1zM150 217h1v14h-1zM320 217h1v14h-1zM480 217h1v14h-1zM503 217h1v14h-1zM529 217h1v14h-1zM123 231h1v14h-1z"/>
<path fill="#00d7ff" d="M555 107h1v12h-1zM586 107h1v12h-1zM112 119h1v13h-1zM151 119h1v13h-1zM156 119h1v13h-1zM183 119h1v13h-1zM239 119h1v13h-1zM416 119h1v13h-1zM325 132h1v11h-1zM410 132h1v11h-1zM275 143h1v11h-1zM370 143h1v11h-1zM375 143h1v11h-1zM533 143h1v11h-1zM551 143h1v11h-1zM334 154h1v10h-1zM479 154h1v10h-1zM356 164h1v13h-1zM380 164h1v13h-1zM504 164h1v13h-1zM578 164h1v13h-1zM228 177h1v14h-1zM230 177h1v14h-1zM518 177h1v14h-1zM209 191h1v13h-1zM213 191h1v13h-1zM233 204h1v13h-1zM352 204h1v13h-1zM365 204h1v13h-1zM467 204h1v13h-1zM518 204h1v13h-1zM120 217h1v14h-1zM530 217h1v14h-1zM562 217h1v14h-1zM198 231h1v14h-1zM204 231h1v14h-1zM324 231h1v14h-1zM346 231h1v14h-1z"/>
<path fill="#007dff" d="M130 119h1v13h-1zM382 143h1v11h-1zM184 154h1v10h-1zM504 154h1v10h-1zM525 164h1v13h-1zM544 164h1v13h-1zM556 177h1v14h-1zM573 177h1v14h-1zM366 191h1v13h-1z"/>
<path fill="#00a2ff" d="M170 119h1v13h-1zM555 119h1v13h-1zM311 132h1v11h-1zM194 143h1v11h-1zM317 143h1v11h-1zM323 143h1v11h-1zM390 143h1v11h-1zM118 164h1v13h-1zM228 164h1v13h-1zM489 164h1v13h-1zM592 177h1v14h-1zM227 191h1v13h-1zM426 191h1v13h-1zM129 204h1v13h-1zM172 204h1v13h-1zM184 204h1v13h-1zM229 204h1v13h-1zM319 204h1v13h-1zM559 204h1v13h-1zM564 204h1v13h-1z"/>
<path fill="#00c4ff" d="M207 119h1v13h-1zM479 119h1v13h-1zM563 119h1v13h-1zM341 132h1v11h-1zM557 132h1v11h-1zM201 143h1v11h-1zM477 143h1v11h-1zM153 154h1v10h-1zM373 154h1v10h-1zM577 154h1v10h-1zM581 154h1v10h-1zM117 164h1v13h-1zM123 164h1v13h-1zM229 164h1v13h-1zM293 164h1v13h-1zM353 164h1v13h-1zM363 164h1v13h-1zM304 177h1v14h-1zM396 177h1v14h-1zM201 191h1v13h-1zM216 191h1v13h-1zM500 191h1v13h-1zM114 204h1v13h-1zM124 204h1v13h-1zM181 204h1v13h-1zM335 204h1v13h-1zM359 204h1v13h-1zM237 217h1v14h-1zM329 217h1v14h-1zM336 217h1v14h-1zM419 217h1v14h-1z"/>
<path fill="#00fce8" d="M259 119h1v13h-1zM160 258h1v13h-1zM199 258h1v13h-1zM287 258h1v13h-1zM423 258h1v13h-1zM497 258h1v13h-1zM559 258h1v13h-1zM561 258h1v13h-1zM178 271h1v13h-1zM366 271h1v13h-1zM488 271h1v13h-1zM393 284h1v14h-1zM113 298h1v15h-1zM135 298h1v15h-1zM192 298h1v15h-1zM220 298h1v15h-1zM345 298h1v15h-1zM560 298h1v15h-1zM143 313h1v20h-1zM246 313h1v20h-1zM155 333h1v11h-1zM246 333h1v11h-1zM285 333h1v11h-1z"/>
<path fill="#00f3b2" d="M260 119h1v13h-1zM436 132h1v11h-1zM248 298h1v15h-1z"/>
<path fill="#00f191" d="M261 119h1v13h-1zM455 154h1v10h-1zM464 298h1v15h-1zM466 333h1v11h-1z"/>
<path fill="#00f079" d="M262 119h1v13h-1zM255 204h1v13h-1zM279 271h1v13h-1zM425 284h1v14h-1z"/>
<path fill="#00f16d" d="M266 119h1v13h-1zM457 204h1v13h-1z"/>
<path fill="#00f2a9" d="M268 119h1v13h-1zM454 132h1v11h-1zM458 177h1v14h-1zM459 191h1v13h-1zM463 258h1v13h-1z"/>
<path fill="#00fbe4" d="M269 119h1v13h-1zM221 258h1v13h-1zM359 258h1v13h-1zM503 258h1v13h-1zM528 258h1v13h-1zM560 258h1v13h-1zM580 258h1v13h-1zM368 271h1v13h-1zM387 271h1v13h-1zM419 271h1v13h-1zM538 271h1v13h-1zM594 271h1v13h-1zM117 284h1v14h-1zM142 298h1v15h-1zM125 313h1v20h-1zM206 313h1v20h-1z"/>
<path fill="#008bff" d="M316 119h1v13h-1zM364 119h1v13h-1zM367 119h1v13h-1zM497 119h1v13h-1zM478 132h1v11h-1zM301 143h1v11h-1zM327 143h1v11h-1zM510 143h1v11h-1zM186 154h1v10h-1zM243 154h1v10h-1zM294 154h1v10h-1zM506 154h1v10h-1zM509 164h1v13h-1zM538 164h1v13h-1zM135 177h1v14h-1zM235 191h1v13h-1zM376 191h1v13h-1zM568 191h1v13h-1z"/>
<path fill="#0077ff" d="M377 119h1v13h-1zM190 143h1v11h-1zM233 143h1v11h-1zM122 154h1v10h-1zM157 154h1v10h-1zM305 154h1v10h-1zM317 154h1v10h-1zM323 164h1v13h-1zM226 177h1v14h-1zM289 177h1v14h-1zM494 177h1v14h-1zM576 177h1v14h-1z"/>
<path fill="#00a5ff" d="M399 119h1v13h-1zM529 119h1v13h-1zM242 132h1v11h-1zM193 143h1v11h-1zM129 154h1v10h-1zM419 154h1v10h-1zM568 154h1v10h-1zM421 164h1v13h-1zM576 164h1v13h-1zM132 177h1v14h-1zM153 177h1v14h-1zM477 177h1v14h-1zM317 191h1v13h-1zM112 204h1v13h-1zM211 204h1v13h-1zM235 204h1v13h-1zM504 204h1v13h-1z"/>
<path fill="#00f9d7" d="M436 119h1v13h-1zM166 284h1v14h-1zM189 284h1v14h-1zM201 284h1v14h-1zM520 284h1v14h-1zM180 298h1v15h-1zM193 298h1v15h-1zM516 298h1v15h-1zM137 313h1v20h-1zM221 313h1v20h-1zM303 313h1v20h-1zM310 313h1v20h-1zM325 313h1v20h-1zM581 313h1v20h-1zM141 333h1v11h-1zM171 333h1v11h-1zM173 333h1v11h-1zM349 333h1v11h-1zM565 333h1v11h-1zM574 333h1v11h-1z"/>
<path fill="#00f5bb" d="M437 119h1v13h-1zM257 143h1v11h-1zM255 177h1v14h-1zM283 313h1v20h-1z"/>
<path fill="#00f2a3" d="M438 119h1v13h-1zM283 333h1v11h-1z"/>
<path fill="#00f084" d="M440 119h1v13h-1zM437 143h1v11h-1zM271 154h1v10h-1zM276 217h1v14h-1zM427 258h1v13h-1zM423 298h1v15h-1z"/>
<path fill="#00f077" d="M441 119h1v13h-1zM268 132h1v11h-1zM435 164h1v13h-1z"/>
<path fill="#00f166" d="M442 119h1v13h-1zM451 132h1v11h-1zM461 271h1v13h-1z"/>
<path fill="#00f260" d="M443 119h1v13h-1zM448 119h1v13h-1z"/>
<path fill="#00f16c" d="M449 119h1v13h-1zM438 143h1v11h-1zM273 191h1v13h-1zM428 258h1v13h-1zM280 313h1v20h-1z"/>
<path fill="#00f080" d="M450 119h1v13h-1zM459 217h1v14h-1z"/>
<path fill="#00f2a8" d="M452 119h1v13h-1zM456 154h1v10h-1zM457 164h1v13h-1zM430 204h1v13h-1z"/>
<path fill="#00f7cb" d="M453 119h1v13h-1zM456 143h1v11h-1zM457 154h1v10h-1zM419 313h1v20h-1z"/>
<path fill="#00e2ff" d="M492 119h1v13h-1zM116 143h1v11h-1zM235 154h1v10h-1zM171 177h1v14h-1zM390 191h1v13h-1zM463 191h1v13h-1zM502 191h1v13h-1zM527 191h1v13h-1zM219 217h1v14h-1zM283 217h1v14h-1zM361 217h1v14h-1zM561 217h1v14h-1zM574 217h1v14h-1zM144 231h1v14h-1zM192 231h1v14h-1zM300 231h2v14h-2zM307 231h1v14h-1zM468 231h1v14h-1z"/>
<path fill="#00deff" d="M493 119h1v13h-1zM125 164h1v13h-1zM177 177h1v14h-1zM301 177h1v14h-1zM168 191h1v13h-1zM240 191h1v13h-1zM311 191h1v13h-1zM162 217h1v14h-1zM483 217h1v14h-1zM487 217h1v14h-1zM218 231h1v14h-1zM340 231h1v14h-1z"/>
<path fill="#00f3af" d="M259 132h1v11h-1zM429 217h1v14h-1zM420 313h1v20h-1z"/>
<path fill="#00f18c" d="M260 132h1v11h-1zM250 284h1v14h-1z"/>
<path fill="#00f16a" d="M261 132h1v11h-1zM459 231h1v14h-1z"/>
<path fill="#00f345" d="M262 132h1v11h-1z"/>
<path fill="#00f43b" d="M266 132h1v11h-1zM455 191h1v13h-1z"/>
<path fill="#00f251" d="M267 132h1v11h-1z"/>
<path fill="#00f4b6" d="M270 132h1v11h-1zM271 143h1v11h-1z"/>
<path fill="#00fcea" d="M271 132h1v11h-1zM272 143h1v11h-1zM113 258h1v13h-1zM162 258h1v13h-1zM231 258h1v13h-1zM386 258h1v13h-1zM501 258h1v13h-1zM584 258h1v13h-1zM138 271h1v13h-1zM346 271h1v13h-1zM162 284h1v14h-1zM538 284h1v14h-1zM155 298h1v15h-1zM209 298h1v15h-1zM227 298h1v15h-1zM288 298h1v15h-1zM380 333h1v11h-1z"/>
<path fill="#00fdf4" d="M434 132h1v11h-1zM431 154h1v10h-1zM430 164h1v13h-1zM429 177h1v14h-1zM428 191h1v13h-1zM278 204h1v13h-1zM154 231h1v14h-1zM186 245h1v13h-1zM313 245h1v13h-1zM341 245h1v13h-1zM503 245h1v13h-1zM552 245h1v13h-1zM568 245h1v13h-1zM515 258h1v13h-1zM574 258h1v13h-1zM196 271h1v13h-1zM362 271h1v13h-1zM592 271h1v13h-1zM230 284h1v14h-1zM408 284h1v14h-1zM419 284h1v14h-1zM495 284h1v14h-1zM178 298h1v15h-1zM234 298h1v15h-1zM357 298h1v15h-1zM394 298h1v15h-1zM492 298h1v15h-1zM549 298h1v15h-1zM557 298h1v15h-1zM140 333h1v11h-1z"/>
<path fill="#00f8d2" d="M435 132h1v11h-1z"/>
<path fill="#00f076" d="M439 132h1v11h-1zM434 177h1v14h-1zM281 333h1v11h-1z"/>
<path fill="#00f25c" d="M440 132h1v11h-1zM452 143h1v11h-1zM437 154h1v10h-1zM453 154h1v10h-1zM454 164h1v13h-1zM455 177h1v14h-1z"/>
<path fill="#00f346" d="M441 132h1v11h-1zM272 191h1v13h-1zM458 231h1v14h-1zM428 271h1v13h-1zM252 284h1v14h-1z"/>
<path fill="#00f434" d="M442 132h1v11h-1z"/>
<path fill="#00f52f" d="M443 132h1v11h-1zM448 132h1v11h-1zM279 333h1v11h-1z"/>
<path fill="#00f437" d="M449 132h1v11h-1zM461 298h1v15h-1z"/>
<path fill="#00f34c" d="M450 132h1v11h-1z"/>
<path fill="#00f194" d="M453 132h1v11h-1zM254 204h1v13h-1z"/>
<path fill="#00f8cc" d="M455 132h1v11h-1zM459 177h1v14h-1z"/>
<path fill="#007bff" d="M138 143h1v11h-1zM182 143h1v11h-1zM206 143h1v11h-1zM193 154h1v10h-1zM232 154h1v10h-1zM226 164h1v13h-1zM370 191h1v13h-1z"/>
<path fill="#007eff" d="M151 143h1v11h-1zM359 143h1v11h-1zM485 143h1v11h-1zM589 143h2v11h-2zM127 154h1v10h-1zM231 154h1v10h-1zM484 154h1v10h-1zM113 164h1v13h-1zM168 177h1v14h-1zM597 177h1v14h-1z"/>
<path fill="#0072ff" d="M159 143h1v11h-1zM384 143h1v11h-1zM192 154h1v10h-1zM216 164h1v13h-1zM370 164h1v13h-1zM286 177h1v14h-1zM300 191h1v13h-1zM423 191h1v13h-1z"/>
<path fill="#0070ff" d="M224 143h1v11h-1zM333 143h1v11h-1zM159 154h1v10h-1zM204 154h1v10h-1zM210 164h1v13h-1zM218 164h1v13h-1zM287 164h1v13h-1zM532 164h1v13h-1zM278 177h1v14h-1zM281 177h1v14h-1z"/>
<path fill="#00fcec" d="M256 143h1v11h-1zM254 177h1v14h-1zM311 258h1v13h-1zM407 258h1v13h-1zM421 258h1v13h-1zM508 258h1v13h-1zM565 258h1v13h-1zM325 271h1v13h-1zM500 271h1v13h-1zM530 271h1v13h-1zM537 271h1v13h-1zM568 271h1v13h-1zM574 271h1v13h-1zM188 284h1v14h-1zM370 298h1v15h-1zM467 298h1v15h-1zM542 298h1v15h-1zM322 313h2v20h-2zM516 313h2v20h-2zM167 333h1v11h-1zM361 333h1v11h-1zM482 333h1v11h-1z"/>
<path fill="#00f197" d="M258 143h1v11h-1zM436 143h1v11h-1zM460 217h1v14h-1zM426 258h1v13h-1z"/>
<path fill="#00f07c" d="M259 143h1v11h-1zM455 164h1v13h-1zM456 177h1v14h-1zM256 191h1v13h-1zM250 298h1v15h-1zM465 333h1v11h-1z"/>
<path fill="#00f256" d="M260 143h1v11h-1zM434 191h1v13h-1zM278 271h1v13h-1zM251 298h1v15h-1z"/>
<path fill="#00f433" d="M261 143h1v11h-1zM277 271h1v13h-1z"/>
<path fill="#0efa16" d="M262 143h1v11h-1z"/>
<path fill="#11fb12" d="M266 143h1v11h-1z"/>
<path fill="#00f528" d="M267 143h1v11h-1zM276 258h1v13h-1z"/>
<path fill="#00f34a" d="M268 143h1v11h-1z"/>
<path fill="#00f074" d="M269 143h1v11h-1zM433 191h1v13h-1zM429 245h1v13h-1z"/>
<path fill="#00fdf3" d="M433 143h1v11h-1zM427 217h1v14h-1zM156 245h1v13h-1zM179 245h1v13h-1zM181 245h1v13h-1zM324 245h2v13h-2zM398 245h1v13h-1zM486 245h1v13h-1zM539 245h1v13h-1zM592 245h1v13h-1zM597 245h1v13h-1zM119 258h1v13h-1zM353 258h1v13h-1zM379 271h1v13h-1zM514 271h1v13h-1zM560 271h1v13h-1zM564 271h1v13h-1zM321 284h1v14h-1zM489 284h1v14h-1zM514 284h1v14h-1zM533 284h1v14h-1zM566 284h1v14h-1zM596 284h1v14h-1zM158 298h1v15h-1zM163 298h1v15h-1zM336 298h1v15h-1zM393 298h1v15h-1zM490 298h1v15h-1zM506 313h1v20h-1zM567 313h1v20h-1zM176 333h1v11h-1z"/>
<path fill="#00f8d0" d="M434 143h1v11h-1z"/>
<path fill="#00f3ae" d="M435 143h1v11h-1z"/>
<path fill="#00f34f" d="M439 143h1v11h-1zM256 204h1v13h-1z"/>
<path fill="#00f436" d="M440 143h1v11h-1zM431 245h1v13h-1z"/>
<path fill="#08f81d" d="M441 143h1v11h-1z"/>
<path fill="#19fd07" d="M442 143h1v11h-1z"/>
<path fill="#1cfe02" d="M443 143h1v11h-1zM448 143h1v11h-1z"/>
<path fill="#17fd0a" d="M449 143h1v11h-1zM256 231h1v14h-1zM427 313h1v20h-1z"/>
<path fill="#03f623" d="M450 143h1v11h-1zM278 313h1v20h-1z"/>
<path fill="#00f43e" d="M451 143h1v11h-1zM437 164h1v13h-1zM432 231h1v14h-1zM251 313h1v20h-1z"/>
<path fill="#00f07b" d="M453 143h1v11h-1zM454 154h1v10h-1zM430 231h1v14h-1zM252 258h1v13h-1zM461 258h1v13h-1zM463 298h1v15h-1z"/>
<path fill="#00f190" d="M454 143h1v11h-1zM429 231h1v14h-1zM280 271h1v13h-1zM421 333h1v11h-1z"/>
<path fill="#00f2a7" d="M455 143h1v11h-1zM281 271h1v13h-1zM465 298h1v15h-1z"/>
<path fill="#007aff" d="M523 143h1v11h-1zM422 154h2v10h-2zM583 164h1v13h-1zM328 177h1v14h-1zM503 177h2v14h-2z"/>
<path fill="#00dfff" d="M571 143h1v11h-1zM234 154h1v10h-1zM151 164h1v13h-1zM503 164h1v13h-1zM137 177h1v14h-1zM171 191h1v13h-1zM234 191h1v13h-1zM304 191h1v13h-1zM524 191h1v13h-1zM137 217h1v14h-1zM539 217h1v14h-1zM134 231h1v14h-1zM201 231h1v14h-1zM418 231h1v14h-1zM552 231h1v14h-1zM546 245h1v13h-1z"/>
<path fill="#00dbff" d="M171 154h1v10h-1zM150 177h1v14h-1zM205 177h1v14h-1zM182 191h1v13h-1zM278 191h2v13h-2zM391 217h1v14h-1zM520 217h1v14h-1zM564 217h1v14h-1zM122 231h1v14h-1zM147 231h1v14h-1zM313 231h1v14h-1zM483 231h1v14h-1zM528 231h1v14h-1zM549 231h1v14h-1zM558 231h1v14h-1zM500 245h1v13h-1z"/>
<path fill="#00ddff" d="M225 154h1v10h-1zM527 164h1v13h-1zM176 177h1v14h-1zM391 177h1v14h-1zM489 177h1v14h-1zM497 177h2v14h-2zM145 191h1v13h-1zM196 191h1v13h-1zM220 191h1v13h-1zM522 191h1v13h-1zM122 204h1v13h-1zM577 217h1v14h-1zM594 217h1v14h-1zM145 231h1v14h-1zM164 231h1v14h-1zM352 231h1v14h-1zM498 231h1v14h-1zM580 231h1v14h-1z"/>
<path fill="#00f5be" d="M256 154h1v10h-1zM247 333h1v11h-1z"/>
<path fill="#00f19a" d="M257 154h1v10h-1zM253 217h1v14h-1zM279 245h1v13h-1z"/>
<path fill="#00f25a" d="M259 154h1v10h-1zM436 164h1v13h-1z"/>
<path fill="#00f435" d="M260 154h1v10h-1zM459 258h1v13h-1z"/>
<path fill="#11fb11" d="M261 154h1v10h-1z"/>
<path fill="#2cff00" d="M262 154h1v10h-1z"/>
<path fill="#2fff00" d="M266 154h1v10h-1z"/>
<path fill="#20ff00" d="M267 154h1v10h-1zM257 217h1v14h-1z"/>
<path fill="#07f71e" d="M268 154h1v10h-1zM269 164h1v13h-1z"/>
<path fill="#00f440" d="M269 154h1v10h-1zM278 284h1v14h-1z"/>
<path fill="#00f164" d="M270 154h1v10h-1z"/>
<path fill="#00fdee" d="M274 154h1v10h-1zM254 164h1v13h-1zM132 245h1v13h-1zM159 258h1v13h-1zM410 258h1v13h-1zM496 258h1v13h-1zM578 258h1v13h-1zM119 271h1v13h-1zM283 271h1v13h-1zM337 271h1v13h-1zM534 271h2v13h-2zM123 284h1v14h-1zM145 284h1v14h-1zM186 284h1v14h-1zM239 284h1v14h-1zM407 284h1v14h-1zM484 284h1v14h-1zM551 284h1v14h-1zM122 298h1v15h-1zM396 298h1v15h-1zM511 298h1v15h-1zM539 298h1v15h-1zM571 298h1v15h-1zM136 333h1v11h-1zM168 333h1v11h-1zM243 333h1v11h-1zM548 333h1v11h-1z"/>
<path fill="#006fff" d="M291 154h1v10h-1zM362 154h1v10h-1zM516 154h1v10h-1zM595 154h1v10h-1zM492 164h1v13h-1zM188 177h1v14h-1zM277 177h1v14h-1zM598 177h1v14h-1z"/>
<path fill="#006dff" d="M402 154h1v10h-1zM535 154h1v10h-1zM215 164h1v13h-1zM331 164h1v13h-1zM419 164h1v13h-1z"/>
<path fill="#00f9d4" d="M432 154h1v10h-1zM431 164h1v13h-1zM430 177h1v14h-1zM429 191h1v13h-1zM462 217h1v14h-1zM425 245h1v13h-1zM121 298h1v15h-1zM199 298h1v15h-1zM408 313h1v20h-1zM497 333h1v11h-1zM528 333h1v11h-1zM538 333h1v11h-1z"/>
<path fill="#00f4b5" d="M433 154h1v10h-1zM280 245h1v13h-1zM250 258h1v13h-1z"/>
<path fill="#00f19d" d="M434 154h1v10h-1zM433 164h1v13h-1zM432 177h1v14h-1zM461 231h1v14h-1zM423 284h1v14h-1zM248 333h1v11h-1z"/>
<path fill="#00f18a" d="M435 154h1v10h-1zM434 164h1v13h-1zM277 231h1v14h-1zM279 258h1v13h-1zM465 313h1v20h-1z"/>
<path fill="#00f078" d="M436 154h1v10h-1z"/>
<path fill="#00f341" d="M438 154h1v10h-1zM276 245h1v13h-1z"/>
<path fill="#00f529" d="M439 154h1v10h-1zM258 191h1v13h-1zM434 217h1v14h-1zM254 258h1v13h-1z"/>
<path fill="#14fc0d" d="M440 154h1v10h-1zM458 258h1v13h-1z"/>
<path fill="#2bff00" d="M441 154h1v10h-1zM260 177h1v14h-1zM452 177h1v14h-1z"/>
<path fill="#41ff00" d="M442 154h1v10h-1z"/>
<path fill="#43ff00" d="M443 154h1v10h-1zM448 154h1v10h-1z"/>
<path fill="#3cff00" d="M449 154h1v10h-1z"/>
<path fill="#1eff00" d="M450 154h1v10h-1zM436 204h1v13h-1z"/>
<path fill="#07f71f" d="M451 154h1v10h-1zM270 177h1v14h-1zM437 177h1v14h-1z"/>
<path fill="#00f43d" d="M452 154h1v10h-1zM463 333h1v11h-1z"/>
<path fill="#00e3ff" d="M459 154h1v10h-1zM178 177h1v14h-1zM513 177h1v14h-1zM530 177h1v14h-1zM589 177h1v14h-1zM167 191h1v13h-1zM310 191h1v13h-1zM341 191h1v13h-1zM523 191h1v13h-1zM598 191h1v13h-1zM301 217h1v14h-1zM402 217h1v14h-1zM485 217h1v14h-1zM588 217h1v14h-1zM400 231h1v14h-1z"/>
<path fill="#00e1ff" d="M460 154h1v10h-1zM183 164h1v13h-1zM353 177h1v14h-1zM545 177h1v14h-1zM574 177h1v14h-1zM125 191h1v13h-1zM325 191h1v13h-1zM504 191h1v13h-1zM592 191h1v13h-1zM366 204h1v13h-1zM153 217h1v14h-1zM280 217h1v14h-1zM313 217h1v14h-1zM382 217h1v14h-1zM559 217h1v14h-1zM587 217h1v14h-1zM217 231h1v14h-1zM363 231h1v14h-1zM494 231h1v14h-1zM588 231h1v14h-1z"/>
<path fill="#005dff" d="M539 154h1v10h-1z"/>
<path fill="#00dcff" d="M550 154h1v10h-1zM479 164h1v13h-1zM505 164h1v13h-1zM196 177h1v14h-1zM239 177h1v14h-1zM409 177h1v14h-1zM512 177h1v14h-1zM582 177h1v14h-1zM192 191h1v13h-1zM394 191h1v13h-1zM562 204h1v13h-1zM132 217h1v14h-1zM323 217h1v14h-1zM203 231h1v14h-1zM229 231h1v14h-1z"/>
<path fill="#00e0ff" d="M180 164h1v13h-1zM181 191h1v13h-1zM246 191h1v13h-1zM521 191h1v13h-1zM281 217h1v14h-1zM354 217h1v14h-1zM363 217h1v14h-1zM501 217h1v14h-1zM180 231h1v14h-1zM303 231h1v14h-1zM414 231h1v14h-1zM525 231h1v14h-1zM581 231h1v14h-1z"/>
<path fill="#00e8ff" d="M184 164h1v13h-1zM134 217h1v14h-1zM538 217h1v14h-1zM357 231h1v14h-1zM405 231h1v14h-1zM515 231h1v14h-1zM210 245h1v13h-1zM544 245h1v13h-1zM569 245h1v13h-1z"/>
<path fill="#00f6c0" d="M255 164h1v13h-1z"/>
<path fill="#00f19c" d="M256 164h1v13h-1zM431 191h1v13h-1zM427 245h1v13h-1zM421 313h1v20h-1z"/>
<path fill="#00f081" d="M257 164h1v13h-1zM280 284h1v14h-1z"/>
<path fill="#00f25e" d="M258 164h1v13h-1zM426 284h1v14h-1zM464 333h1v11h-1z"/>
<path fill="#00f438" d="M259 164h1v13h-1zM251 333h1v11h-1z"/>
<path fill="#12fb11" d="M260 164h1v13h-1z"/>
<path fill="#37ff00" d="M261 164h1v13h-1zM254 284h1v14h-1z"/>
<path fill="#56ff00" d="M262 164h1v13h-1zM266 164h1v13h-1zM441 164h1v13h-1zM435 231h1v14h-1zM428 333h1v11h-1z"/>
<path fill="#4cff00" d="M267 164h1v13h-1zM277 333h1v11h-1z"/>
<path fill="#27ff00" d="M268 164h1v13h-1zM271 204h1v13h-1z"/>
<path fill="#00f342" d="M270 164h1v13h-1zM460 271h1v13h-1zM427 284h1v14h-1z"/>
<path fill="#00f167" d="M271 164h1v13h-1z"/>
<path fill="#00f29f" d="M273 164h1v13h-1zM459 204h1v13h-1zM250 271h1v13h-1zM464 284h1v14h-1zM282 298h1v15h-1zM466 313h1v20h-1z"/>
<path fill="#00fdef" d="M275 164h1v13h-1zM276 177h1v14h-1zM211 245h2v13h-2zM328 245h1v13h-1zM538 245h1v13h-1zM582 245h1v13h-1zM156 258h1v13h-1zM239 258h1v13h-1zM405 258h1v13h-1zM507 258h1v13h-1zM521 258h1v13h-1zM585 258h1v13h-1zM592 258h1v13h-1zM248 271h1v13h-1zM306 271h1v13h-1zM323 271h1v13h-1zM581 271h1v13h-1zM593 271h1v13h-1zM168 284h1v14h-1zM229 284h1v14h-1zM298 284h1v14h-1zM338 284h1v14h-1zM400 284h1v14h-1zM521 284h1v14h-1zM552 284h1v14h-1zM577 284h1v14h-1zM138 298h1v15h-1zM215 298h1v15h-1zM337 298h1v15h-1zM371 298h1v15h-1zM507 298h1v15h-1zM316 313h1v20h-1zM525 313h1v20h-1zM116 333h1v11h-1zM121 333h1v11h-1zM224 333h1v11h-1zM378 333h1v11h-1zM396 333h1v11h-1zM417 333h1v11h-1z"/>
<path fill="#00f4b4" d="M432 164h1v13h-1zM431 177h1v14h-1zM430 191h1v13h-1zM426 245h1v13h-1zM464 271h1v13h-1z"/>
<path fill="#03f624" d="M438 164h1v13h-1zM272 204h1v13h-1z"/>
<path fill="#1afe06" d="M439 164h1v13h-1zM278 333h1v11h-1z"/>
<path fill="#39ff00" d="M440 164h1v13h-1zM432 258h1v13h-1z"/>
<path fill="#6bff00" d="M442 164h1v13h-1zM432 271h1v13h-1z"/>
<path fill="#6cff00" d="M443 164h1v13h-1zM448 164h1v13h-1zM431 284h1v14h-1z"/>
<path fill="#66ff00" d="M449 164h1v13h-1z"/>
<path fill="#4aff00" d="M450 164h1v13h-1z"/>
<path fill="#26ff00" d="M451 164h1v13h-1zM259 191h1v13h-1zM437 191h1v13h-1z"/>
<path fill="#09f81c" d="M452 164h1v13h-1z"/>
<path fill="#00f43c" d="M453 164h1v13h-1zM436 177h1v14h-1zM454 177h1v14h-1z"/>
<path fill="#0061ff" d="M494 164h1v13h-1z"/>
<path fill="#00e5ff" d="M510 164h1v13h-1zM517 164h1v13h-1zM197 177h1v14h-1zM581 177h1v14h-1zM233 191h1v13h-1zM291 191h1v13h-1zM342 191h1v13h-1zM481 191h1v13h-1zM185 217h1v14h-1zM190 217h1v14h-1zM240 217h1v14h-1zM243 217h1v14h-1zM471 217h1v14h-1zM500 217h1v14h-1zM510 217h1v14h-1zM526 231h1v14h-1z"/>
<path fill="#00e7ff" d="M518 164h1v13h-1zM174 217h1v14h-1zM217 217h1v14h-1zM241 231h1v14h-1zM550 231h1v14h-1zM564 231h1v14h-1zM589 231h1v14h-1z"/>
<path fill="#00e9ff" d="M528 164h1v13h-1zM164 217h1v14h-1zM355 231h1v14h-1zM388 231h1v14h-1zM485 231h1v14h-1zM523 231h1v14h-1z"/>
<path fill="#00eeff" d="M529 164h1v13h-1zM183 217h1v14h-1zM223 217h1v14h-1zM410 217h1v14h-1zM165 231h1v14h-1zM537 231h1v14h-1zM114 245h1v13h-1zM247 245h1v13h-1zM472 245h1v13h-1zM570 284h1v14h-1z"/>
<path fill="#00daff" d="M231 177h1v14h-1zM483 177h1v14h-1zM486 177h1v14h-1zM546 177h1v14h-1zM596 177h1v14h-1zM154 191h1v13h-1zM204 204h1v13h-1zM128 217h1v14h-1zM521 217h1v14h-1zM578 217h1v14h-1zM286 231h1v14h-1zM408 231h1v14h-1z"/>
<path fill="#00f07a" d="M257 177h1v14h-1zM423 313h1v20h-1z"/>
<path fill="#00f34e" d="M258 177h1v14h-1zM459 245h1v13h-1zM429 258h1v13h-1z"/>
<path fill="#03f625" d="M259 177h1v14h-1zM435 204h1v13h-1z"/>
<path fill="#5cff00" d="M261 177h1v14h-1z"/>
<path fill="#85ff00" d="M262 177h1v14h-1zM266 177h1v14h-1zM429 333h1v11h-1z"/>
<path fill="#7cff00" d="M267 177h1v14h-1zM450 177h1v14h-1zM257 245h1v13h-1z"/>
<path fill="#55ff00" d="M268 177h1v14h-1z"/>
<path fill="#29ff00" d="M269 177h1v14h-1zM258 204h1v13h-1zM434 231h1v14h-1z"/>
<path fill="#00f344" d="M271 177h1v14h-1zM425 313h1v20h-1z"/>
<path fill="#00f169" d="M272 177h1v14h-1zM432 217h1v14h-1z"/>
<path fill="#00f187" d="M273 177h1v14h-1zM281 313h1v20h-1z"/>
<path fill="#00f6c5" d="M275 177h1v14h-1zM279 231h1v14h-1zM468 333h1v11h-1z"/>
<path fill="#00f189" d="M433 177h1v14h-1zM274 191h1v13h-1zM432 191h1v13h-1zM428 245h1v13h-1zM463 284h1v14h-1zM281 298h1v15h-1z"/>
<path fill="#00f258" d="M435 177h1v14h-1zM255 217h1v14h-1z"/>
<path fill="#1fff00" d="M438 177h1v14h-1zM253 298h1v15h-1z"/>
<path fill="#44ff00" d="M439 177h1v14h-1z"/>
<path fill="#65ff00" d="M440 177h1v14h-1zM433 258h1v13h-1z"/>
<path fill="#88ff00" d="M441 177h1v14h-1zM452 204h1v13h-1z"/>
<path fill="#9fff00" d="M442 177h2v14h-2zM448 177h1v14h-1zM270 217h1v14h-1zM432 284h1v14h-1zM255 298h1v15h-1z"/>
<path fill="#9cff00" d="M449 177h1v14h-1z"/>
<path fill="#54ff00" d="M451 177h1v14h-1z"/>
<path fill="#0bf91a" d="M453 177h1v14h-1zM462 333h1v11h-1z"/>
<path fill="#00e6ff" d="M559 177h1v14h-1zM182 217h1v14h-1zM519 217h1v14h-1zM597 217h1v14h-1zM148 231h1v14h-1zM212 231h1v14h-1zM516 231h1v14h-1zM303 245h1v13h-1zM306 245h1v13h-1zM483 245h1v13h-1zM545 245h1v13h-1z"/>
<path fill="#00f5bd" d="M254 191h1v13h-1zM465 284h1v14h-1zM283 298h1v15h-1z"/>
<path fill="#00f199" d="M255 191h1v13h-1zM463 271h1v13h-1z"/>
<path fill="#00f253" d="M257 191h1v13h-1z"/>
<path fill="#5dff00" d="M260 191h1v13h-1zM276 313h1v20h-1z"/>
<path fill="#95ff00" d="M261 191h1v13h-1zM454 231h1v14h-1z"/>
<path fill="#b9ff00" d="M262 191h1v13h-1zM266 191h1v13h-1z"/>
<path fill="#b2ff00" d="M267 191h1v13h-1zM457 298h1v15h-1zM458 313h1v20h-1z"/>
<path fill="#8bff00" d="M268 191h1v13h-1zM457 284h1v14h-1zM275 298h1v15h-1z"/>
<path fill="#5aff00" d="M269 191h1v13h-1zM452 191h1v13h-1zM270 204h1v13h-1zM258 217h1v14h-1zM455 231h1v14h-1zM254 298h1v15h-1z"/>
<path fill="#2aff00" d="M270 191h1v13h-1zM273 231h1v14h-1zM255 258h1v13h-1z"/>
<path fill="#06f720" d="M271 191h1v13h-1z"/>
<path fill="#00f2a2" d="M275 191h1v13h-1zM252 231h1v14h-1zM278 231h1v14h-1zM462 245h1v13h-1zM424 271h1v13h-1z"/>
<path fill="#00f6c6" d="M276 191h1v13h-1z"/>
<path fill="#00fdf0" d="M277 191h1v13h-1zM330 245h1v13h-1zM350 245h1v13h-1zM378 245h1v13h-1zM397 245h1v13h-1zM412 245h1v13h-1zM511 245h1v13h-1zM297 258h1v13h-1zM356 258h1v13h-1zM556 258h1v13h-1zM572 258h1v13h-1zM199 271h1v13h-1zM333 271h1v13h-1zM398 271h1v13h-1zM150 284h1v14h-1zM296 284h1v14h-1zM343 284h1v14h-1zM590 284h1v14h-1zM131 298h2v15h-2zM205 298h1v15h-1zM359 298h1v15h-1zM468 298h1v15h-1zM501 313h1v20h-1zM134 333h1v11h-1zM225 333h2v11h-2z"/>
<path fill="#00f439" d="M435 191h1v13h-1zM255 231h1v14h-1zM253 271h1v13h-1z"/>
<path fill="#0af81b" d="M436 191h1v13h-1zM255 245h1v13h-1zM277 284h1v14h-1z"/>
<path fill="#4dff00" d="M438 191h1v13h-1zM255 271h1v13h-1z"/>
<path fill="#74ff00" d="M439 191h1v13h-1zM430 298h1v15h-1z"/>
<path fill="#9dff00" d="M440 191h1v13h-1zM271 231h1v14h-1zM275 313h1v20h-1zM459 333h1v11h-1z"/>
<path fill="#bfff00" d="M441 191h1v13h-1z"/>
<path fill="#d4ff00" d="M442 191h2v13h-2zM448 191h1v13h-1z"/>
<path fill="#d3ff00" d="M449 191h1v13h-1zM261 204h1v13h-1z"/>
<path fill="#b4ff00" d="M450 191h1v13h-1z"/>
<path fill="#89ff00" d="M451 191h1v13h-1zM455 245h1v13h-1z"/>
<path fill="#2eff00" d="M453 191h1v13h-1zM455 217h1v14h-1zM458 271h1v13h-1zM427 333h1v11h-1z"/>
<path fill="#0cf919" d="M454 191h1v13h-1z"/>
<path fill="#00f25d" d="M456 191h1v13h-1zM431 231h1v14h-1z"/>
<path fill="#00f07d" d="M457 191h1v13h-1zM426 271h1v13h-1z"/>
<path fill="#00f8cd" d="M460 191h1v13h-1zM464 258h1v13h-1z"/>
<path fill="#00fbe0" d="M252 204h1v13h-1zM205 258h1v13h-1zM505 258h1v13h-1zM215 271h1v13h-1zM151 284h1v14h-1zM187 284h1v14h-1zM288 284h1v14h-1zM407 298h1v15h-1zM515 298h1v15h-1zM126 313h1v20h-1zM179 313h1v20h-1zM284 313h1v20h-1zM347 313h1v20h-1zM363 333h1v11h-1z"/>
<path fill="#00f3b3" d="M253 204h1v13h-1z"/>
<path fill="#01f527" d="M257 204h1v13h-1z"/>
<path fill="#60ff00" d="M259 204h1v13h-1z"/>
<path fill="#9eff00" d="M260 204h1v13h-1zM433 271h1v13h-1z"/>
<path fill="#efff00" d="M262 204h1v13h-1zM266 204h1v13h-1z"/>
<path fill="#ebff00" d="M267 204h1v13h-1z"/>
<path fill="#c5ff00" d="M268 204h1v13h-1zM431 313h1v20h-1z"/>
<path fill="#92ff00" d="M269 204h1v13h-1zM258 231h1v14h-1zM254 333h1v11h-1z"/>
<path fill="#00f349" d="M273 204h1v13h-1zM456 204h1v13h-1z"/>
<path fill="#00f070" d="M274 204h1v13h-1zM462 284h1v14h-1zM280 298h1v15h-1zM424 298h1v15h-1z"/>
<path fill="#00f18b" d="M275 204h1v13h-1zM461 245h1v13h-1zM424 284h1v14h-1zM422 313h1v20h-1z"/>
<path fill="#00f2a5" d="M276 204h1v13h-1z"/>
<path fill="#00f7ca" d="M277 204h1v13h-1zM251 231h1v14h-1zM498 333h1v11h-1z"/>
<path fill="#00f7c8" d="M429 204h1v13h-1zM466 298h1v15h-1z"/>
<path fill="#00f163" d="M433 204h1v13h-1zM254 231h1v14h-1zM252 271h1v13h-1zM427 271h1v13h-1zM279 284h1v14h-1z"/>
<path fill="#00f343" d="M434 204h1v13h-1z"/>
<path fill="#49ff00" d="M437 204h1v13h-1zM429 298h1v15h-1z"/>
<path fill="#76ff00" d="M438 204h1v13h-1zM255 284h1v14h-1zM459 313h1v20h-1z"/>
<path fill="#a5ff00" d="M439 204h1v13h-1zM431 298h1v15h-1z"/>
<path fill="#d1ff00" d="M440 204h1v13h-1zM272 258h1v13h-1zM434 271h1v13h-1zM433 284h1v14h-1z"/>
<path fill="#f6ff00" d="M441 204h1v13h-1z"/>
<path fill="#fffb00" d="M442 204h2v13h-2zM448 204h1v13h-1zM440 217h1v14h-1z"/>
<path fill="#fffc00" d="M449 204h1v13h-1zM452 231h1v14h-1zM259 245h1v13h-1zM455 284h1v14h-1zM273 298h1v15h-1zM274 333h1v11h-1z"/>
<path fill="#eaff00" d="M450 204h1v13h-1z"/>
<path fill="#bcff00" d="M451 204h1v13h-1z"/>
<path fill="#53ff00" d="M453 204h1v13h-1z"/>
<path fill="#22ff00" d="M454 204h1v13h-1zM275 258h1v13h-1z"/>
<path fill="#01f526" d="M455 204h1v13h-1zM428 284h1v14h-1z"/>
<path fill="#00f5bf" d="M460 204h1v13h-1z"/>
<path fill="#00fbe6" d="M461 204h1v13h-1zM152 258h1v13h-1zM282 258h1v13h-1zM418 258h1v13h-1zM566 258h1v13h-1zM217 271h1v13h-1zM365 271h1v13h-1zM466 271h1v13h-1zM152 284h1v14h-1zM222 284h1v14h-1zM290 284h1v14h-1zM149 298h1v15h-1zM226 298h1v15h-1zM352 313h1v20h-1zM418 313h1v20h-1zM300 333h1v11h-1zM469 333h1v11h-1z"/>
<path fill="#00feff" d="M117 217h1v14h-1zM304 217h1v14h-1zM506 217h1v14h-1zM239 231h1v14h-1zM288 231h1v14h-1zM415 231h1v14h-1zM554 231h1v14h-1zM557 231h1v14h-1zM566 231h1v14h-1zM307 245h1v13h-1zM321 245h1v13h-1zM374 245h1v13h-1zM386 245h1v13h-1zM555 245h1v13h-1zM149 258h1v13h-1zM400 258h1v13h-1zM590 258h1v13h-1z"/>
<path fill="#00efff" d="M122 217h1v14h-1zM189 217h1v14h-1zM401 217h1v14h-1zM116 231h1v14h-1zM482 231h1v14h-1zM496 231h1v14h-1zM595 231h1v14h-1zM135 245h1v13h-1zM580 245h1v13h-1zM172 258h1v13h-1z"/>
<path fill="#00f3ff" d="M142 217h1v14h-1zM113 231h1v14h-1zM245 231h1v14h-1zM477 231h1v14h-1zM508 231h1v14h-1zM517 231h1v14h-1zM519 231h1v14h-1zM514 245h1v13h-1z"/>
<path fill="#00fcff" d="M155 217h1v14h-1zM474 217h1v14h-1zM492 217h1v14h-1zM150 231h2v14h-2zM182 231h1v14h-1zM210 231h1v14h-1zM320 231h1v14h-1zM329 231h1v14h-1zM345 231h1v14h-1zM393 231h1v14h-1zM467 231h1v14h-1zM183 245h1v13h-1zM202 245h1v13h-1zM343 245h1v13h-1z"/>
<path fill="#00f9ff" d="M156 217h1v14h-1zM306 217h1v14h-1zM194 231h1v14h-1zM282 231h1v14h-1zM546 231h1v14h-1zM579 231h1v14h-1zM362 245h1v13h-1zM573 245h1v13h-1z"/>
<path fill="#00f8ff" d="M161 217h1v14h-1zM552 217h1v14h-1zM377 231h1v14h-1zM521 245h1v13h-1zM417 313h1v20h-1z"/>
<path fill="#00ecff" d="M169 217h1v14h-1zM211 217h1v14h-1zM393 217h1v14h-1zM403 217h1v14h-1zM535 217h1v14h-1zM385 231h1v14h-1zM236 245h1v13h-1zM380 245h1v13h-1zM530 245h2v13h-2z"/>
<path fill="#00eaff" d="M173 217h1v14h-1zM196 217h1v14h-1zM509 217h1v14h-1zM593 217h1v14h-1zM190 231h2v14h-2zM397 231h1v14h-1zM574 231h1v14h-1zM121 245h1v13h-1zM564 245h1v13h-1z"/>
<path fill="#00edff" d="M184 217h1v14h-1zM206 217h1v14h-1zM212 217h1v14h-1zM377 217h1v14h-1zM541 217h1v14h-1zM298 231h1v14h-1z"/>
<path fill="#00fdff" d="M201 217h1v14h-1zM210 217h1v14h-1zM352 217h1v14h-1zM375 217h1v14h-1zM222 231h1v14h-1zM478 231h1v14h-1zM149 245h1v13h-1zM206 245h1v13h-1zM359 245h1v13h-1zM124 313h1v20h-1z"/>
<path fill="#00fffd" d="M202 217h1v14h-1zM140 231h1v14h-1zM186 231h1v14h-1zM195 231h1v14h-1zM208 231h1v14h-1zM223 231h1v14h-1zM569 231h1v14h-1zM117 245h1v13h-1zM119 245h1v13h-1zM159 245h1v13h-1zM163 245h1v13h-1zM242 245h1v13h-1zM331 245h2v13h-2zM347 245h1v13h-1zM391 245h1v13h-1zM401 245h1v13h-1zM516 245h1v13h-1zM562 245h1v13h-1zM566 245h1v13h-1zM147 258h1v13h-1zM316 258h1v13h-1zM486 258h1v13h-1zM581 258h1v13h-1zM317 298h1v15h-1z"/>
<path fill="#00f0ff" d="M205 217h1v14h-1zM156 231h1v14h-1zM376 231h1v14h-1zM573 231h1v14h-1zM235 245h1v13h-1z"/>
<path fill="#00faff" d="M229 217h1v14h-1zM359 217h1v14h-1zM159 231h1v14h-1zM321 231h1v14h-1zM545 231h1v14h-1zM282 245h1v13h-1zM367 245h1v13h-1zM574 245h1v13h-1z"/>
<path fill="#00f7ff" d="M250 217h1v14h-1zM310 217h1v14h-1zM205 231h1v14h-1zM337 231h1v14h-1zM201 245h1v13h-1zM301 245h1v13h-1zM411 245h1v13h-1zM490 245h1v13h-1z"/>
<path fill="#00f5bc" d="M252 217h1v14h-1z"/>
<path fill="#00f52e" d="M256 217h1v14h-1zM252 298h1v15h-1z"/>
<path fill="#9bff00" d="M259 217h1v14h-1z"/>
<path fill="#daff00" d="M260 217h1v14h-1zM270 231h1v14h-1zM257 271h1v13h-1zM458 333h1v11h-1z"/>
<path fill="#fffa00" d="M261 217h1v14h-1zM271 258h1v13h-1z"/>
<path fill="#fff200" d="M262 217h1v14h-1zM266 217h1v14h-1zM450 217h1v14h-1zM433 313h1v20h-1z"/>
<path fill="#fff300" d="M267 217h1v14h-1zM256 333h1v11h-1z"/>
<path fill="#fffd00" d="M268 217h1v14h-1zM435 271h1v13h-1zM257 284h1v14h-1zM433 298h1v15h-1z"/>
<path fill="#d6ff00" d="M269 217h1v14h-1zM432 298h1v15h-1z"/>
<path fill="#64ff00" d="M271 217h1v14h-1zM273 245h1v13h-1zM275 284h1v14h-1z"/>
<path fill="#32ff00" d="M272 217h1v14h-1zM433 245h1v13h-1z"/>
<path fill="#0af81a" d="M273 217h1v14h-1z"/>
<path fill="#00f340" d="M274 217h1v14h-1z"/>
<path fill="#00f165" d="M275 217h1v14h-1zM277 245h1v13h-1zM250 313h1v20h-1z"/>
<path fill="#00f5ba" d="M278 217h1v14h-1zM462 231h1v14h-1zM423 271h1v13h-1zM467 313h1v20h-1z"/>
<path fill="#00fbe1" d="M279 217h1v14h-1zM194 258h1v13h-1zM249 258h1v13h-1zM294 258h1v13h-1zM389 258h1v13h-1zM529 258h1v13h-1zM490 271h1v13h-1zM115 284h1v14h-1zM156 284h1v14h-1zM379 284h1v14h-1zM395 284h1v14h-1zM466 284h1v14h-1zM555 284h1v14h-1zM284 298h1v15h-1zM562 298h1v15h-1zM135 313h1v20h-1zM344 313h1v20h-1zM538 313h1v20h-1zM182 333h1v11h-1zM313 333h1v11h-1zM352 333h1v11h-1zM485 333h1v11h-1zM518 333h1v11h-1zM521 333h1v11h-1zM564 333h1v11h-1z"/>
<path fill="#00ebff" d="M293 217h1v14h-1zM112 231h1v14h-1zM168 231h1v14h-1zM231 231h1v14h-1zM244 231h1v14h-1zM364 231h1v14h-1zM504 231h1v14h-1zM214 245h1v13h-1zM238 245h1v13h-1zM296 245h1v13h-1zM482 245h1v13h-1zM499 245h1v13h-1z"/>
<path fill="#00f6ff" d="M317 217h1v14h-1zM344 231h1v14h-1zM410 231h1v14h-1zM520 231h1v14h-1z"/>
<path fill="#00fbff" d="M322 217h1v14h-1zM346 217h1v14h-1zM358 217h1v14h-1zM281 231h1v14h-1zM137 245h1v13h-1zM175 245h1v13h-1zM225 245h1v13h-1zM229 245h1v13h-1zM376 245h1v13h-1zM550 245h1v13h-1zM594 245h1v13h-1z"/>
<path fill="#00f4ff" d="M356 217h1v14h-1zM389 231h1v14h-1zM417 231h1v14h-1zM136 245h1v13h-1zM150 245h1v13h-1zM392 245h1v13h-1zM481 245h1v13h-1zM522 245h1v13h-1z"/>
<path fill="#00f1ff" d="M360 217h1v14h-1zM581 217h1v14h-1zM167 231h1v14h-1zM220 231h1v14h-1zM225 231h1v14h-1zM572 231h1v14h-1zM222 245h1v13h-1zM300 245h1v13h-1z"/>
<path fill="#00f8d1" d="M428 217h1v14h-1z"/>
<path fill="#00f083" d="M431 217h1v14h-1zM278 245h1v13h-1zM462 271h1v13h-1zM249 333h1v11h-1z"/>
<path fill="#00f348" d="M433 217h1v14h-1zM275 231h1v14h-1z"/>
<path fill="#1cfe03" d="M435 217h1v14h-1z"/>
<path fill="#48ff00" d="M436 217h1v14h-1z"/>
<path fill="#78ff00" d="M437 217h1v14h-1z"/>
<path fill="#acff00" d="M438 217h1v14h-1z"/>
<path fill="#deff00" d="M439 217h1v14h-1zM271 245h1v13h-1zM274 313h1v20h-1z"/>
<path fill="#fff000" d="M441 217h1v14h-1zM257 298h1v15h-1zM455 298h1v15h-1z"/>
<path fill="#ffeb00" d="M442 217h2v14h-2zM448 217h2v14h-2zM270 258h1v13h-1zM454 284h1v14h-1zM272 298h1v15h-1z"/>
<path fill="#ffff00" d="M451 217h1v14h-1z"/>
<path fill="#cdff00" d="M452 217h1v14h-1z"/>
<path fill="#97ff00" d="M453 217h1v14h-1z"/>
<path fill="#5fff00" d="M454 217h1v14h-1zM272 231h1v14h-1z"/>
<path fill="#09f81b" d="M456 217h1v14h-1zM275 245h1v13h-1z"/>
<path fill="#00f43f" d="M457 217h1v14h-1z"/>
<path fill="#00f162" d="M458 217h1v14h-1z"/>
<path fill="#00f3b0" d="M461 217h1v14h-1z"/>
<path fill="#00fefa" d="M463 217h1v14h-1zM136 231h1v14h-1zM152 231h2v14h-2zM181 231h1v14h-1zM499 231h1v14h-1zM533 231h1v14h-1zM561 231h1v14h-1zM123 245h1v13h-1zM152 245h1v13h-1zM170 245h1v13h-1zM311 245h1v13h-1zM387 245h1v13h-1zM466 245h1v13h-1zM187 258h1v13h-1zM307 258h1v13h-1zM333 258h1v13h-1zM401 258h1v13h-1zM548 258h2v13h-2zM284 284h1v14h-1zM588 298h1v15h-1zM494 333h1v11h-1z"/>
<path fill="#00ffff" d="M139 231h1v14h-1zM175 231h1v14h-1zM193 231h1v14h-1zM215 231h1v14h-1zM317 231h3v14h-3zM335 231h1v14h-1zM218 245h1v13h-1zM290 245h1v13h-1zM342 245h1v13h-1zM360 245h1v13h-1zM541 245h1v13h-1zM586 245h1v13h-1zM142 258h1v13h-1zM171 258h1v13h-1zM367 258h1v13h-1zM307 284h1v14h-1z"/>
<path fill="#00fefb" d="M160 231h1v14h-1zM247 231h1v14h-1zM309 231h1v14h-1zM314 231h1v14h-1zM383 231h1v14h-1zM390 231h1v14h-1zM562 231h1v14h-1zM570 231h1v14h-1zM118 245h1v13h-1zM145 245h1v13h-1zM188 245h1v13h-1zM364 245h1v13h-1zM494 245h1v13h-1zM548 245h1v13h-1zM556 245h1v13h-1zM560 245h1v13h-1zM570 245h1v13h-1zM184 258h1v13h-1zM308 258h1v13h-1zM366 258h1v13h-1zM577 258h1v13h-1zM175 271h1v13h-1zM201 271h1v13h-1zM401 271h1v13h-1zM522 271h1v13h-1zM525 271h1v13h-1z"/>
<path fill="#00fffc" d="M161 231h1v14h-1zM304 231h1v14h-1zM306 231h1v14h-1zM316 231h1v14h-1zM349 231h1v14h-1zM512 231h1v14h-1zM540 231h1v14h-1zM291 245h1v13h-1zM356 245h1v13h-1zM372 245h2v13h-2zM476 245h1v13h-1zM518 245h1v13h-1zM178 258h1v13h-1zM355 258h1v13h-1zM491 258h1v13h-1zM402 271h1v13h-1zM300 284h1v14h-1z"/>
<path fill="#4fff00" d="M257 231h1v14h-1z"/>
<path fill="#d7ff00" d="M259 231h1v14h-1z"/>
<path fill="#fff800" d="M260 231h1v14h-1zM270 245h1v13h-1zM457 333h1v11h-1z"/>
<path fill="#ffea00" d="M261 231h1v14h-1zM260 245h1v13h-1zM269 245h1v13h-1zM258 284h1v14h-1zM273 333h1v11h-1z"/>
<path fill="#ffe500" d="M262 231h1v14h-1zM266 231h2v14h-2zM272 313h1v20h-1z"/>
<path fill="#ffec00" d="M268 231h1v14h-1z"/>
<path fill="#fff900" d="M269 231h1v14h-1zM256 313h1v20h-1z"/>
<path fill="#04f623" d="M274 231h1v14h-1z"/>
<path fill="#00f16e" d="M276 231h1v14h-1z"/>
<path fill="#00fef9" d="M311 231h1v14h-1zM298 245h1v13h-1zM344 245h1v13h-1zM353 245h1v13h-1zM488 245h1v13h-1zM583 245h1v13h-1zM598 245h1v13h-1zM283 258h1v13h-1zM301 271h1v13h-1zM543 271h1v13h-1zM306 284h1v14h-1zM324 284h1v14h-1zM491 284h1v14h-1zM545 284h1v14h-1zM548 284h1v14h-1zM569 284h1v14h-1zM286 298h1v15h-1zM123 313h1v20h-1zM495 333h1v11h-1z"/>
<path fill="#00fbe3" d="M426 231h1v14h-1zM134 258h1v13h-1zM595 258h1v13h-1zM331 271h1v13h-1zM497 271h1v13h-1zM164 284h1v14h-1zM173 284h1v14h-1zM233 284h1v14h-1zM523 284h1v14h-1zM141 298h1v15h-1zM337 313h1v20h-1zM508 313h1v20h-1zM562 313h1v20h-1zM181 333h1v11h-1z"/>
<path fill="#00f2a4" d="M428 231h1v14h-1z"/>
<path fill="#09f81d" d="M433 231h1v14h-1zM253 284h1v14h-1z"/>
<path fill="#8aff00" d="M436 231h1v14h-1z"/>
<path fill="#beff00" d="M437 231h1v14h-1zM256 284h1v14h-1z"/>
<path fill="#f2ff00" d="M438 231h1v14h-1z"/>
<path fill="#fff400" d="M439 231h1v14h-1zM258 271h1v13h-1z"/>
<path fill="#ffe900" d="M440 231h1v14h-1zM433 333h1v11h-1z"/>
<path fill="#ffe100" d="M441 231h1v14h-1zM258 298h1v15h-1z"/>
<path fill="#ffde00" d="M442 231h2v14h-2zM448 231h2v14h-2zM453 284h1v14h-1zM271 298h1v15h-1z"/>
<path fill="#ffe300" d="M450 231h1v14h-1zM455 313h1v20h-1z"/>
<path fill="#ffed00" d="M451 231h1v14h-1zM259 258h1v13h-1z"/>
<path fill="#d0ff00" d="M453 231h1v14h-1z"/>
<path fill="#28ff00" d="M456 231h1v14h-1zM277 313h1v20h-1z"/>
<path fill="#04f622" d="M457 231h1v14h-1z"/>
<path fill="#00fadf" d="M463 231h1v14h-1zM189 258h1v13h-1zM195 258h1v13h-1zM235 258h1v13h-1zM349 258h1v13h-1zM162 271h1v13h-1zM507 271h1v13h-1zM562 271h1v13h-1zM154 284h1v14h-1zM508 284h1v14h-1zM561 284h1v14h-1zM221 298h1v15h-1zM586 298h1v15h-1zM178 313h1v20h-1zM198 313h1v20h-1zM473 313h1v20h-1zM488 313h1v20h-1zM137 333h2v11h-2zM351 333h1v11h-1z"/>
<path fill="#00fef6" d="M571 231h1v14h-1zM173 245h1v13h-1zM203 245h1v13h-1zM314 245h1v13h-1zM320 245h1v13h-1zM322 245h1v13h-1zM414 245h1v13h-1zM497 245h1v13h-1zM127 258h1v13h-1zM209 258h1v13h-1zM351 258h1v13h-1zM376 258h1v13h-1zM475 258h1v13h-1zM540 258h1v13h-1zM342 271h1v13h-1zM421 271h1v13h-1zM532 284h1v14h-1zM585 284h1v14h-1zM302 298h1v15h-1zM340 298h1v15h-1zM489 298h1v15h-1zM498 298h1v15h-1zM327 313h1v20h-1zM377 313h1v20h-1zM548 313h1v20h-1zM223 333h1v11h-1zM376 333h1v11h-1zM540 333h1v11h-1zM550 333h1v11h-1z"/>
<path fill="#00fef8" d="M112 245h1v13h-1zM146 245h1v13h-1zM196 245h1v13h-1zM199 245h1v13h-1zM352 245h1v13h-1zM355 245h1v13h-1zM139 258h1v13h-1zM165 258h2v13h-2zM229 258h1v13h-1zM315 258h1v13h-1zM348 258h1v13h-1zM499 258h1v13h-1zM530 258h1v13h-1zM183 271h1v13h-1zM469 271h1v13h-1zM134 284h1v14h-1zM193 284h1v14h-1zM247 284h1v14h-1zM373 284h1v14h-1zM301 298h1v15h-1z"/>
<path fill="#00f2ab" d="M251 245h1v13h-1z"/>
<path fill="#00f072" d="M253 245h1v13h-1zM460 245h1v13h-1z"/>
<path fill="#00f347" d="M254 245h1v13h-1zM279 313h1v20h-1z"/>
<path fill="#3bff00" d="M256 245h1v13h-1zM428 313h1v20h-1z"/>
<path fill="#c4ff00" d="M258 245h1v13h-1z"/>
<path fill="#ffdf00" d="M261 245h1v13h-1zM260 258h1v13h-1zM269 258h1v13h-1zM434 333h1v11h-1z"/>
<path fill="#ffdb00" d="M262 245h1v13h-1zM266 245h2v13h-2zM259 284h1v14h-1zM455 333h1v11h-1z"/>
<path fill="#ffe000" d="M268 245h1v13h-1z"/>
<path fill="#a1ff00" d="M272 245h1v13h-1z"/>
<path fill="#31ff00" d="M274 245h1v13h-1zM276 284h1v14h-1z"/>
<path fill="#00fadb" d="M281 245h1v13h-1zM164 271h1v13h-1zM212 271h1v13h-1zM335 271h1v13h-1zM569 271h1v13h-1zM597 271h1v13h-1zM160 284h1v14h-1zM204 284h1v14h-1zM530 284h1v14h-1zM563 284h1v14h-1zM247 298h1v15h-1zM487 298h1v15h-1zM118 313h1v20h-1zM321 313h1v20h-1zM343 313h1v20h-1zM557 333h1v11h-1z"/>
<path fill="#00f254" d="M430 245h1v13h-1z"/>
<path fill="#0ffa14" d="M432 245h1v13h-1zM426 333h1v11h-1z"/>
<path fill="#5eff00" d="M434 245h1v13h-1z"/>
<path fill="#93ff00" d="M435 245h1v13h-1zM273 258h1v13h-1z"/>
<path fill="#c7ff00" d="M436 245h1v13h-1z"/>
<path fill="#fbff00" d="M437 245h1v13h-1z"/>
<path fill="#fff100" d="M438 245h1v13h-1zM456 313h1v20h-1z"/>
<path fill="#ffe600" d="M439 245h1v13h-1zM271 284h1v14h-1z"/>
<path fill="#ffdd00" d="M440 245h1v13h-1z"/>
<path fill="#ffd600" d="M441 245h1v13h-1zM268 258h1v13h-1zM453 298h1v15h-1z"/>
<path fill="#ffd400" d="M442 245h2v13h-2zM448 245h2v13h-2zM261 258h1v13h-1zM435 333h1v11h-1z"/>
<path fill="#ffd900" d="M450 245h1v13h-1z"/>
<path fill="#ffe200" d="M451 245h1v13h-1zM452 258h1v13h-1zM270 271h1v13h-1zM454 298h1v15h-1zM257 333h1v11h-1z"/>
<path fill="#ffee00" d="M452 245h1v13h-1zM434 298h1v15h-1z"/>
<path fill="#fffe00" d="M453 245h1v13h-1zM436 258h1v13h-1zM434 284h1v14h-1z"/>
<path fill="#c6ff00" d="M454 245h1v13h-1z"/>
<path fill="#50ff00" d="M456 245h1v13h-1z"/>
<path fill="#1dff02" d="M457 245h1v13h-1z"/>
<path fill="#00f52b" d="M458 245h1v13h-1z"/>
<path fill="#00fceb" d="M112 258h1v13h-1zM310 258h1v13h-1zM330 258h1v13h-1zM563 258h1v13h-1zM193 271h1v13h-1zM200 271h1v13h-1zM204 271h1v13h-1zM206 271h1v13h-1zM284 271h1v13h-1zM289 271h1v13h-1zM587 271h1v13h-1zM207 284h1v14h-1zM297 284h1v14h-1zM346 284h1v14h-1zM420 284h1v14h-1zM535 284h1v14h-1zM204 298h1v15h-1zM386 298h1v15h-1zM533 298h1v15h-1zM551 298h1v15h-1zM595 298h1v15h-1zM331 313h1v20h-1zM482 313h1v20h-1zM157 333h1v11h-1z"/>
<path fill="#00fbe5" d="M128 258h1v13h-1zM176 258h1v13h-1zM179 258h1v13h-1zM185 258h1v13h-1zM217 258h1v13h-1zM290 258h1v13h-1zM553 258h1v13h-1zM155 284h1v14h-1zM304 284h1v14h-1zM225 298h1v15h-1zM324 313h1v20h-1zM396 313h1v20h-1zM537 313h1v20h-1z"/>
<path fill="#00fada" d="M190 258h1v13h-1zM157 271h1v13h-1zM213 271h1v13h-1zM397 271h1v13h-1zM399 271h1v13h-1zM153 284h1v14h-1zM501 298h1v15h-1zM219 313h1v20h-1zM409 313h1v20h-1zM483 313h1v20h-1z"/>
<path fill="#00fbe2" d="M196 258h1v13h-1zM300 258h1v13h-1zM318 258h1v13h-1zM481 258h1v13h-1zM152 271h1v13h-1zM189 271h1v13h-1zM237 271h1v13h-1zM288 271h1v13h-1zM386 271h1v13h-1zM519 271h1v13h-1zM589 271h1v13h-1zM137 284h1v14h-1zM329 284h2v14h-2zM556 284h1v14h-1zM112 298h1v15h-1zM196 298h1v15h-1zM591 313h1v20h-1zM188 333h1v11h-1zM193 333h1v11h-1zM222 333h1v11h-1zM339 333h1v11h-1zM353 333h1v11h-1zM593 333h1v11h-1z"/>
<path fill="#00f252" d="M253 258h1v13h-1zM463 313h1v20h-1zM280 333h1v11h-1z"/>
<path fill="#67ff00" d="M256 258h1v13h-1z"/>
<path fill="#b1ff00" d="M257 258h1v13h-1z"/>
<path fill="#f9ff00" d="M258 258h1v13h-1zM272 271h1v13h-1z"/>
<path fill="#ffd100" d="M262 258h1v13h-1zM266 258h2v13h-2zM439 271h1v13h-1zM438 284h1v14h-1z"/>
<path fill="#57ff00" d="M274 258h1v13h-1z"/>
<path fill="#00f34b" d="M277 258h1v13h-1z"/>
<path fill="#00f170" d="M278 258h1v13h-1z"/>
<path fill="#00f6c1" d="M281 258h1v13h-1z"/>
<path fill="#00f7c9" d="M424 258h1v13h-1zM282 271h1v13h-1z"/>
<path fill="#00f2aa" d="M425 258h1v13h-1z"/>
<path fill="#00f430" d="M430 258h1v13h-1z"/>
<path fill="#14fc0e" d="M431 258h1v13h-1z"/>
<path fill="#9aff00" d="M434 258h1v13h-1z"/>
<path fill="#cfff00" d="M435 258h1v13h-1z"/>
<path fill="#ffef00" d="M437 258h1v13h-1zM453 258h1v13h-1zM271 271h1v13h-1zM436 271h1v13h-1zM435 284h1v14h-1z"/>
<path fill="#ffe400" d="M438 258h1v13h-1zM259 271h1v13h-1zM437 271h1v13h-1zM436 284h1v14h-1zM435 298h1v15h-1z"/>
<path fill="#ffda00" d="M439 258h1v13h-1zM438 271h1v13h-1zM452 271h1v13h-1zM270 284h1v14h-1zM437 284h1v14h-1zM436 298h1v15h-1z"/>
<path fill="#ffd200" d="M440 258h1v13h-1zM452 284h1v14h-1zM270 298h1v15h-1zM436 313h1v20h-1z"/>
<path fill="#ffc900" d="M441 258h1v13h-1zM259 313h1v20h-1zM453 313h1v20h-1z"/>
<path fill="#ffc800" d="M442 258h2v13h-2zM448 258h2v13h-2zM262 271h1v13h-1zM266 271h2v13h-2zM452 298h1v15h-1zM436 333h1v11h-1z"/>
<path fill="#ffcd00" d="M450 258h1v13h-1zM268 271h1v13h-1zM454 333h1v11h-1z"/>
<path fill="#ffd700" d="M451 258h1v13h-1zM260 271h1v13h-1zM269 271h1v13h-1zM454 313h1v20h-1z"/>
<path fill="#f7ff00" d="M454 258h1v13h-1zM432 313h1v20h-1z"/>
<path fill="#b8ff00" d="M455 258h1v13h-1z"/>
<path fill="#7aff00" d="M456 258h1v13h-1z"/>
<path fill="#42ff00" d="M457 258h1v13h-1zM430 284h1v14h-1zM253 313h1v20h-1zM460 313h1v20h-1z"/>
<path fill="#00f259" d="M460 258h1v13h-1zM462 298h1v15h-1z"/>
<path fill="#00f9d9" d="M148 271h1v13h-1zM465 271h1v13h-1zM500 284h1v14h-1zM419 298h1v15h-1zM113 313h1v20h-1zM230 313h1v20h-1z"/>
<path fill="#00fadd" d="M214 271h1v13h-1zM400 271h1v13h-1zM571 271h1v13h-1zM142 284h1v14h-1zM194 284h1v14h-1zM225 284h1v14h-1zM320 284h1v14h-1zM358 284h1v14h-1zM365 284h1v14h-1zM137 298h1v15h-1zM176 298h1v15h-1zM310 298h2v15h-2zM326 298h1v15h-1zM496 298h1v15h-1zM231 313h1v20h-1zM474 313h1v20h-1zM242 333h1v11h-1zM312 333h1v11h-1z"/>
<path fill="#00f6c4" d="M249 271h1v13h-1z"/>
<path fill="#00f185" d="M251 271h1v13h-1zM249 313h1v20h-1z"/>
<path fill="#16fc0b" d="M254 271h1v13h-1zM276 271h1v13h-1zM461 313h1v20h-1zM252 333h1v11h-1z"/>
<path fill="#91ff00" d="M256 271h1v13h-1z"/>
<path fill="#ffcb00" d="M261 271h1v13h-1z"/>
<path fill="#bbff00" d="M273 271h1v13h-1z"/>
<path fill="#7dff00" d="M274 271h1v13h-1z"/>
<path fill="#45ff00" d="M275 271h1v13h-1z"/>
<path fill="#00fad9" d="M358 271h1v13h-1zM515 271h1v13h-1zM185 284h1v14h-1zM387 284h1v14h-1zM473 298h1v15h-1zM514 298h1v15h-1zM544 298h1v15h-1zM138 313h1v20h-1zM195 333h1v11h-1z"/>
<path fill="#00f52a" d="M429 271h1v13h-1zM460 284h1v14h-1zM278 298h1v15h-1zM426 313h1v20h-1z"/>
<path fill="#18fd07" d="M430 271h1v13h-1z"/>
<path fill="#40ff00" d="M431 271h1v13h-1z"/>
<path fill="#ffc700" d="M440 271h1v13h-1z"/>
<path fill="#ffbf00" d="M441 271h3v13h-3zM448 271h2v13h-2zM262 284h1v14h-1zM266 284h2v14h-2zM270 333h1v11h-1z"/>
<path fill="#ffc300" d="M450 271h1v13h-1zM268 284h1v14h-1z"/>
<path fill="#ffcf00" d="M451 271h1v13h-1zM269 284h1v14h-1zM271 333h1v11h-1z"/>
<path fill="#ffe700" d="M453 271h1v13h-1zM257 313h1v20h-1zM434 313h1v20h-1z"/>
<path fill="#fff600" d="M454 271h1v13h-1zM432 333h1v11h-1z"/>
<path fill="#e0ff00" d="M455 271h1v13h-1z"/>
<path fill="#a0ff00" d="M456 271h1v13h-1z"/>
<path fill="#62ff00" d="M457 271h1v13h-1zM429 313h1v20h-1z"/>
<path fill="#08f81e" d="M459 271h1v13h-1zM427 298h1v15h-1z"/>
<path fill="#00f9d6" d="M226 284h1v14h-1zM398 284h1v14h-1zM157 298h1v15h-1zM208 298h1v15h-1zM369 298h1v15h-1zM540 298h1v15h-1zM394 313h1v20h-1zM214 333h1v11h-1z"/>
<path fill="#00f16f" d="M251 284h1v14h-1z"/>
<path fill="#ffce00" d="M260 284h1v14h-1z"/>
<path fill="#ffc100" d="M261 284h1v14h-1z"/>
<path fill="#fff500" d="M272 284h1v14h-1zM273 313h1v20h-1z"/>
<path fill="#e2ff00" d="M273 284h1v14h-1z"/>
<path fill="#a3ff00" d="M274 284h1v14h-1z"/>
<path fill="#00f3b1" d="M282 284h1v14h-1zM422 284h1v14h-1z"/>
<path fill="#1bfe04" d="M429 284h1v14h-1z"/>
<path fill="#ffc600" d="M439 284h1v14h-1zM437 313h1v20h-1z"/>
<path fill="#ffbc00" d="M440 284h1v14h-1zM269 313h1v20h-1zM437 333h1v11h-1z"/>
<path fill="#ffb600" d="M441 284h3v14h-3zM448 284h2v14h-2zM262 298h1v15h-1zM266 298h2v15h-2z"/>
<path fill="#ffb900" d="M450 284h1v14h-1zM268 298h1v15h-1zM260 313h1v20h-1z"/>
<path fill="#ffc400" d="M451 284h1v14h-1zM260 298h1v15h-1zM269 298h1v15h-1zM438 298h1v15h-1z"/>
<path fill="#caff00" d="M456 284h1v14h-1zM274 298h1v15h-1z"/>
<path fill="#51ff00" d="M458 284h1v14h-1zM276 298h1v15h-1z"/>
<path fill="#1dff01" d="M459 284h1v14h-1zM277 298h1v15h-1z"/>
<path fill="#00f34d" d="M461 284h1v14h-1zM279 298h1v15h-1zM424 333h1v11h-1z"/>
<path fill="#00f195" d="M249 298h1v15h-1zM422 298h1v15h-1z"/>
<path fill="#e8ff00" d="M256 298h1v15h-1z"/>
<path fill="#ffd300" d="M259 298h1v15h-1zM258 333h1v11h-1z"/>
<path fill="#ffb800" d="M261 298h1v15h-1z"/>
<path fill="#00f255" d="M425 298h1v15h-1z"/>
<path fill="#00f43a" d="M426 298h1v15h-1z"/>
<path fill="#21ff00" d="M428 298h1v15h-1z"/>
<path fill="#ffd000" d="M437 298h1v15h-1z"/>
<path fill="#ffba00" d="M439 298h1v15h-1zM451 298h1v15h-1zM438 313h1v20h-1z"/>
<path fill="#ffb100" d="M440 298h1v15h-1zM269 333h1v11h-1z"/>
<path fill="#ffad00" d="M441 298h3v15h-3zM448 298h2v15h-2zM262 313h1v20h-1zM266 313h2v20h-2z"/>
<path fill="#ffb000" d="M450 298h1v15h-1zM268 313h1v20h-1zM439 313h1v20h-1zM260 333h1v11h-1zM438 333h1v11h-1zM452 333h1v11h-1z"/>
<path fill="#f1ff00" d="M456 298h1v15h-1z"/>
<path fill="#73ff00" d="M458 298h1v15h-1z"/>
<path fill="#3dff00" d="M459 298h1v15h-1z"/>
<path fill="#12fb10" d="M460 298h1v15h-1z"/>
<path fill="#10fa13" d="M252 313h1v20h-1z"/>
<path fill="#82ff00" d="M254 313h1v20h-1z"/>
<path fill="#c9ff00" d="M255 313h1v20h-1z"/>
<path fill="#ffd800" d="M258 313h1v20h-1zM271 313h1v20h-1z"/>
<path fill="#ffae00" d="M261 313h1v20h-1zM451 313h1v20h-1z"/>
<path fill="#ffca00" d="M270 313h1v20h-1z"/>
<path fill="#00f9d3" d="M379 313h1v20h-1zM381 313h1v20h-1zM391 313h1v20h-1zM215 333h1v11h-1zM418 333h1v11h-1z"/>
<path fill="#00f8cf" d="M395 313h1v20h-1z"/>
<path fill="#00f25f" d="M424 313h1v20h-1z"/>
<path fill="#94ff00" d="M430 313h1v20h-1z"/>
<path fill="#ffdc00" d="M435 313h1v20h-1zM272 333h1v11h-1z"/>
<path fill="#ffa700" d="M440 313h1v20h-1z"/>
<path fill="#ffa200" d="M441 313h3v20h-3zM448 313h2v20h-2zM262 333h1v11h-1zM266 333h2v11h-2z"/>
<path fill="#ffa400" d="M450 313h1v20h-1zM261 333h1v11h-1z"/>
<path fill="#ffbb00" d="M452 313h1v20h-1z"/>
<path fill="#f0ff00" d="M457 313h1v20h-1z"/>
<path fill="#00f431" d="M462 313h1v20h-1z"/>
<path fill="#00f073" d="M464 313h1v20h-1z"/>
<path fill="#00f160" d="M250 333h1v11h-1z"/>
<path fill="#4eff00" d="M253 333h1v11h-1z"/>
<path fill="#ddff00" d="M255 333h1v11h-1z"/>
<path fill="#ffc000" d="M259 333h1v11h-1z"/>
<path fill="#ffa600" d="M268 333h1v11h-1zM439 333h1v11h-1z"/>
<path fill="#c8ff00" d="M275 333h1v11h-1z"/>
<path fill="#87ff00" d="M276 333h1v11h-1z"/>
<path fill="#00f168" d="M423 333h1v11h-1z"/>
<path fill="#00f432" d="M425 333h1v11h-1z"/>
<path fill="#b6ff00" d="M430 333h1v11h-1z"/>
<path fill="#e9ff00" d="M431 333h1v11h-1z"/>
<path fill="#ff9c00" d="M440 333h1v11h-1z"/>
<path fill="#ff9700" d="M441 333h3v11h-3zM448 333h2v11h-2z"/>
<path fill="#ff9800" d="M450 333h1v11h-1z"/>
<path fill="#ffa300" d="M451 333h1v11h-1z"/>
<path fill="#ffbe00" d="M453 333h1v11h-1z"/>
<path fill="#ffe800" d="M456 333h1v11h-1z"/>
<path fill="#61ff00" d="M460 333h1v11h-1z"/>
<path fill="#30ff00" d="M461 333h1v11h-1z"/>
<rect x="111.5" y="55.5" width="488" height="302" fill="none" stroke="#000" stroke-width="1"/>
<line x1="112.5" y1="358" x2="112.5" y2="368" stroke="#000" stroke-width="1"/>
<line x1="132.5" y1="358" x2="132.5" y2="363" stroke="#000" stroke-width="1"/>
<line x1="152.5" y1="358" x2="152.5" y2="363" stroke="#000" stroke-width="1"/>
<line x1="172.5" y1="358" x2="172.5" y2="363" stroke="#000" stroke-width="1"/>
<line x1="193.5" y1="358" x2="193.5" y2="363" stroke="#000" stroke-width="1"/>
<line x1="213.5" y1="358" x2="213.5" y2="363" stroke="#000" stroke-width="1"/>
<line x1="233.5" y1="358" x2="233.5" y2="368" stroke="#000" stroke-width="1"/>
<line x1="254.5" y1="358" x2="254.5" y2="363" stroke="#000" stroke-width="1"/>
<line x1="274.5" y1="358" x2="274.5" y2="363" stroke="#000" stroke-width="1"/>
<line x1="294.5" y1="358" x2="294.5" y2="363" stroke="#000" stroke-width="1"/>
<line x1="314.5" y1="358" x2="314.5" y2="363" stroke="#000" stroke-width="1"/>
<line x1="335.5" y1="358" x2="335.5" y2="363" stroke="#000" stroke-width="1"/>
<line x1="355.5" y1="358" x2="355.5" y2="368" stroke="#000" stroke-width="1"/>
<line x1="375.5" y1="358" x2="375.5" y2="363" stroke="#000" stroke-width="1"/>
<line x1="396.5" y1="358" x2="396.5" y2="363" stroke="#000" stroke-width="1"/>
<line x1="416.5" y1="358" x2="416.5" y2="363" stroke="#000" stroke-width="1"/>
<line x1="436.5" y1="358" x2="436.5" y2="363" stroke="#000" stroke-width="1"/>
<line x1="456.5" y1="358" x2="456.5" y2="363" stroke="#000" stroke-width="1"/>
<line x1="477.5" y1="358" x2="477.5" y2="368" stroke="#000" stroke-width="1"/>
<line x1="497.5" y1="358" x2="497.5" y2="363" stroke="#000" stroke-width="1"/>
<line x1="517.5" y1="358" x2="517.5" y2="363" stroke="#000" stroke-width="1"/>
<line x1="538.5" y1="358" x2="538.5" y2="363" stroke="#000" stroke-width="1"/>
<line x1="558.5" y1="358" x2="558.5" y2="363" stroke="#000" stroke-width="1"/>
<line x1="578.5" y1="358" x2="578.5" y2="363" stroke="#000" stroke-width="1"/>
<line x1="599.5" y1="358" x2="599.5" y2="368" stroke="#000" stroke-width="1"/>
<line x1="101" y1="91.5" x2="111" y2="91.5" stroke="#000" stroke-width="1"/>
<line x1="101" y1="295.5" x2="111" y2="295.5" stroke="#000" stroke-width="1"/>
<line x1="106" y1="234.5" x2="111" y2="234.5" stroke="#000" stroke-width="1"/>
<line x1="106" y1="198.5" x2="111" y2="198.5" stroke="#000" stroke-width="1"/>
<line x1="106" y1="172.5" x2="111" y2="172.5" stroke="#000" stroke-width="1"/>
<line x1="106" y1="153.5" x2="111" y2="153.5" stroke="#000" stroke-width="1"/>
<line x1="106" y1="137.5" x2="111" y2="137.5" stroke="#000" stroke-width="1"/>
<line x1="106" y1="123.5" x2="111" y2="123.5" stroke="#000" stroke-width="1"/>
<line x1="106" y1="111.5" x2="111" y2="111.5" stroke="#000" stroke-width="1"/>
<line x1="106" y1="101.5" x2="111" y2="101.5" stroke="#000" stroke-width="1"/>
<rect x="613" y="57" width="14" height="1" fill="rgb(255, 1, 0)"/>
<rect x="613" y="58" width="14" height="1" fill="rgb(255, 3, 0)"/>
<rect x="613" y="59" width="14" height="1" fill="rgb(255, 5, 0)"/>
<rect x="613" y="60" width="14" height="1" fill="rgb(255, 6, 0)"/>
<rect x="613" y="61" width="14" height="1" fill="rgb(255, 8, 0)"/>
<rect x="613" y="62" width="14" height="1" fill="rgb(255, 10, 0)"/>
<rect x="613" y="63" width="14" height="1" fill="rgb(255, 12, 0)"/>
<rect x="613" y="64" width="14" height="1" fill="rgb(255, 14, 0)"/>
<rect x="613" y="65" width="14" height="1" fill="rgb(255, 15, 0)"/>
<rect x="613" y="66" width="14" height="1" fill="rgb(255, 17, 0)"/>
<rect x="613" y="67" width="14" height="1" fill="rgb(255, 19, 0)"/>
<rect x="613" y="68" width="14" height="1" fill="rgb(255, 21, 0)"/>
<rect x="613" y="69" width="14" height="1" fill="rgb(255, 23, 0)"/>
<rect x="613" y="70" width="14" height="1" fill="rgb(255, 25, 0)"/>
<rect x="613" y="71" width="14" height="1" fill="rgb(255, 26, 0)"/>
<rect x="613" y="72" width="14" height="1" fill="rgb(255, 28, 0)"/>
<rect x="613" y="73" width="14" height="1" fill="rgb(255, 30, 0)"/>
<rect x="613" y="74" width="14" height="1" fill="rgb(255, 32, 0)"/>
<rect x="613" y="75" width="14" height="1" fill="rgb(255, 34, 0)"/>
<rect x="613" y="76" width="14" height="1" fill="rgb(255, 36, 0)"/>
<rect x="613" y="77" width="14" height="1" fill="rgb(255, 39, 0)"/>
<rect x="613" y="78" width="14" height="1" fill="rgb(255, 41, 0)"/>
<rect x="613" y="79" width="14" height="1" fill="rgb(255, 43, 0)"/>
<rect x="613" y="80" width="14" height="1" fill="rgb(255, 45, 0)"/>
<rect x="613" y="81" width="14" height="1" fill="rgb(255, 47, 0)"/>
<rect x="613" y="82" width="14" height="1" fill="rgb(255, 49, 0)"/>
<rect x="613" y="83" width="14" height="1" fill="rgb(255, 51, 0)"/>
<rect x="613" y="84" width="14" height="1" fill="rgb(255, 53, 0)"/>
<rect x="613" y="85" width="14" height="1" fill="rgb(255, 56, 0)"/>
<rect x="613" y="86" width="14" height="1" fill="rgb(255, 58, 0)"/>
<rect x="613" y="87" width="14" height="1" fill="rgb(255, 60, 0)"/>
<rect x="613" y="88" width="14" height="1" fill="rgb(255, 62, 0)"/>
<rect x="613" y="89" width="14" height="1" fill="rgb(255, 64, 0)"/>
<rect x="613" y="90" width="14" height="1" fill="rgb(255, 66, 0)"/>
<rect x="613" y="91" width="14" height="1" fill="rgb(255, 68, 0)"/>
<rect x="613" y="92" width="14" height="1" fill="rgb(255, 70, 0)"/>
<rect x="613" y="93" width="14" height="1" fill="rgb(255, 73, 0)"/>
<rect x="613" y="94" width="14" height="1" fill="rgb(255, 75, 0)"/>
<rect x="613" y="95" width="14" height="1" fill="rgb(255, 77, 0)"/>
<rect x="613" y="96" width="14" height="1" fill="rgb(255, 79, 0)"/>
<rect x="613" y="97" width="14" height="1" fill="rgb(255, 81, 0)"/>
<rect x="613" y="98" width="14" height="1" fill="rgb(255, 84, 0)"/>
<rect x="613" y="99" width="14" height="1" fill="rgb(255, 86, 0)"/>
<rect x="613" y="100" width="14" height="1" fill="rgb(255, 89, 0)"/>
<rect x="613" y="101" width="14" height="1" fill="rgb(255, 91, 0)"/>
<rect x="613" y="102" width="14" height="1" fill="rgb(255, 94, 0)"/>
<rect x="613" y="103" width="14" height="1" fill="rgb(255, 96, 0)"/>
<rect x="613" y="104" width="14" height="1" fill="rgb(255, 99, 0)"/>
<rect x="613" y="105" width="14" height="1" fill="rgb(255, 102, 0)"/>
<rect x="613" y="106" width="14" height="1" fill="rgb(255, 104, 0)"/>
<rect x="613" y="107" width="14" height="1" fill="rgb(255, 107, 0)"/>
<rect x="613" y="108" width="14" height="1" fill="rgb(255, 109, 0)"/>
<rect x="613" y="109" width="14" height="1" fill="rgb(255, 112, 0)"/>
<rect x="613" y="110" width="14" height="1" fill="rgb(255, 114, 0)"/>
<rect x="613" y="111" width="14" height="1" fill="rgb(255, 117, 0)"/>
<rect x="613" y="112" width="14" height="1" fill="rgb(255, 119, 0)"/>
<rect x="613" y="113" width="14" height="1" fill="rgb(255, 122, 0)"/>
<rect x="613" y="114" width="14" height="1" fill="rgb(255, 125, 0)"/>
<rect x="613" y="115" width="14" height="1" fill="rgb(255, 129, 0)"/>
<rect x="613" y="116" width="14" height="1" fill="rgb(255, 132, 0)"/>
<rect x="613" y="117" width="14" height="1" fill="rgb(255, 135, 0)"/>
<rect x="613" y="118" width="14" height="1" fill="rgb(255, 138, 0)"/>
<rect x="613" y="119" width="14" height="1" fill="rgb(255, 141, 0)"/>
<rect x="613" y="120" width="14" height="1" fill="rgb(255, 145, 0)"/>
<rect x="613" y="121" width="14" height="1" fill="rgb(255, 148, 0)"/>
<rect x="613" y="122" width="14" height="1" fill="rgb(255, 151, 0)"/>
<rect x="613" y="123" width="14" height="1" fill="rgb(255, 154, 0)"/>
<rect x="613" y="124" width="14" height="1" fill="rgb(255, 157, 0)"/>
<rect x="613" y="125" width="14" height="1" fill="rgb(255, 160, 0)"/>
<rect x="613" y="126" width="14" height="1" fill="rgb(255, 164, 0)"/>
<rect x="613" y="127" width="14" height="1" fill="rgb(255, 167, 0)"/>
<rect x="613" y="128" width="14" height="1" fill="rgb(255, 170, 0)"/>
<rect x="613" y="129" width="14" height="1" fill="rgb(255, 173, 0)"/>
<rect x="613" y="130" width="14" height="1" fill="rgb(255, 175, 0)"/>
<rect x="613" y="131" width="14" height="1" fill="rgb(255, 178, 0)"/>
<rect x="613" y="132" width="14" height="1" fill="rgb(255, 180, 0)"/>
<rect x="613" y="133" width="14" height="1" fill="rgb(255, 183, 0)"/>
<rect x="613" y="134" width="14" height="1" fill="rgb(255, 185, 0)"/>
<rect x="613" y="135" width="14" height="1" fill="rgb(255, 188, 0)"/>
<rect x="613" y="136" width="14" height="1" fill="rgb(255, 191, 0)"/>
<rect x="613" y="137" width="14" height="1" fill="rgb(255, 193, 0)"/>
<rect x="613" y="138" width="14" height="1" fill="rgb(255, 196, 0)"/>
<rect x="613" y="139" width="14" height="1" fill="rgb(255, 198, 0)"/>
<rect x="613" y="140" width="14" height="1" fill="rgb(255, 201, 0)"/>
<rect x="613" y="141" width="14" height="1" fill="rgb(255, 204, 0)"/>
<rect x="613" y="142" width="14" height="1" fill="rgb(255, 206, 0)"/>
<rect x="613" y="143" width="14" height="1" fill="rgb(255, 209, 0)"/>
<rect x="613" y="144" width="14" height="1" fill="rgb(255, 211, 0)"/>
<rect x="613" y="145" width="14" height="1" fill="rgb(255, 213, 0)"/>
<rect x="613" y="146" width="14" height="1" fill="rgb(255, 215, 0)"/>
<rect x="613" y="147" width="14" height="1" fill="rgb(255, 217, 0)"/>
<rect x="613" y="148" width="14" height="1" fill="rgb(255, 218, 0)"/>
<rect x="613" y="149" width="14" height="1" fill="rgb(255, 220, 0)"/>
<rect x="613" y="150" width="14" height="1" fill="rgb(255, 222, 0)"/>
<rect x="613" y="151" width="14" height="1" fill="rgb(255, 224, 0)"/>
<rect x="613" y="152" width="14" height="1" fill="rgb(255, 226, 0)"/>
<rect x="613" y="153" width="14" height="1" fill="rgb(255, 228, 0)"/>
<rect x="613" y="154" width="14" height="1" fill="rgb(255, 230, 0)"/>
<rect x="613" y="155" width="14" height="1" fill="rgb(255, 232, 0)"/>
<rect x="613" y="156" width="14" height="1" fill="rgb(255, 233, 0)"/>
<rect x="613" y="157" width="14" height="1" fill="rgb(255, 235, 0)"/>
<rect x="613" y="158" width="14" height="1" fill="rgb(255, 237, 0)"/>
<rect x="613" y="159" width="14" height="1" fill="rgb(255, 239, 0)"/>
<rect x="613" y="160" width="14" height="1" fill="rgb(255, 241, 0)"/>
<rect x="613" y="161" width="14" height="1" fill="rgb(255, 244, 0)"/>
<rect x="613" y="162" width="14" height="1" fill="rgb(255, 246, 0)"/>
<rect x="613" y="163" width="14" height="1" fill="rgb(255, 249, 0)"/>
<rect x="613" y="164" width="14" height="1" fill="rgb(255, 251, 0)"/>
<rect x="613" y="165" width="14" height="1" fill="rgb(255, 254, 0)"/>
<rect x="613" y="166" width="14" height="1" fill="rgb(251, 255, 0)"/>
<rect x="613" y="167" width="14" height="1" fill="rgb(243, 255, 0)"/>
<rect x="613" y="168" width="14" height="1" fill="rgb(235, 255, 0)"/>
<rect x="613" y="169" width="14" height="1" fill="rgb(228, 255, 0)"/>
<rect x="613" y="170" width="14" height="1" fill="rgb(220, 255, 0)"/>
<rect x="613" y="171" width="14" height="1" fill="rgb(212, 255, 0)"/>
<rect x="613" y="172" width="14" height="1" fill="rgb(204, 255, 0)"/>
<rect x="613" y="173" width="14" height="1" fill="rgb(196, 255, 0)"/>
<rect x="613" y="174" width="14" height="1" fill="rgb(189, 255, 0)"/>
<rect x="613" y="175" width="14" height="1" fill="rgb(181, 255, 0)"/>
<rect x="613" y="176" width="14" height="1" fill="rgb(173, 255, 0)"/>
<rect x="613" y="177" width="14" height="1" fill="rgb(166, 255, 0)"/>
<rect x="613" y="178" width="14" height="1" fill="rgb(159, 255, 0)"/>
<rect x="613" y="179" width="14" height="1" fill="rgb(152, 255, 0)"/>
<rect x="613" y="180" width="14" height="1" fill="rgb(144, 255, 0)"/>
<rect x="613" y="181" width="14" height="1" fill="rgb(137, 255, 0)"/>
<rect x="613" y="182" width="14" height="1" fill="rgb(130, 255, 0)"/>
<rect x="613" y="183" width="14" height="1" fill="rgb(123, 255, 0)"/>
<rect x="613" y="184" width="14" height="1" fill="rgb(115, 255, 0)"/>
<rect x="613" y="185" width="14" height="1" fill="rgb(108, 255, 0)"/>
<rect x="613" y="186" width="14" height="1" fill="rgb(101, 255, 0)"/>
<rect x="613" y="187" width="14" height="1" fill="rgb(95, 255, 0)"/>
<rect x="613" y="188" width="14" height="1" fill="rgb(89, 255, 0)"/>
<rect x="613" y="189" width="14" height="1" fill="rgb(84, 255, 0)"/>
<rect x="613" y="190" width="14" height="1" fill="rgb(78, 255, 0)"/>
<rect x="613" y="191" width="14" height="1" fill="rgb(72, 255, 0)"/>
<rect x="613" y="192" width="14" height="1" fill="rgb(67, 255, 0)"/>
<rect x="613" y="193" width="14" height="1" fill="rgb(61, 255, 0)"/>
<rect x="613" y="194" width="14" height="1" fill="rgb(55, 255, 0)"/>
<rect x="613" y="195" width="14" height="1" fill="rgb(50, 255, 0)"/>
<rect x="613" y="196" width="14" height="1" fill="rgb(44, 255, 0)"/>
<rect x="613" y="197" width="14" height="1" fill="rgb(38, 255, 0)"/>
<rect x="613" y="198" width="14" height="1" fill="rgb(33, 255, 0)"/>
<rect x="613" y="199" width="14" height="1" fill="rgb(28, 254, 2)"/>
<rect x="613" y="200" width="14" height="1" fill="rgb(25, 253, 7)"/>
<rect x="613" y="201" width="14" height="1" fill="rgb(22, 252, 11)"/>
<rect x="613" y="202" width="14" height="1" fill="rgb(18, 251, 16)"/>
<rect x="613" y="203" width="14" height="1" fill="rgb(15, 250, 20)"/>
<rect x="613" y="204" width="14" height="1" fill="rgb(12, 249, 24)"/>
<rect x="613" y="205" width="14" height="1" fill="rgb(8, 248, 29)"/>
<rect x="613" y="206" width="14" height="1" fill="rgb(5, 247, 33)"/>
<rect x="613" y="207" width="14" height="1" fill="rgb(2, 246, 38)"/>
<rect x="613" y="208" width="14" height="1" fill="rgb(0, 245, 42)"/>
<rect x="613" y="209" width="14" height="1" fill="rgb(0, 245, 45)"/>
<rect x="613" y="210" width="14" height="1" fill="rgb(0, 244, 49)"/>
<rect x="613" y="211" width="14" height="1" fill="rgb(0, 244, 52)"/>
<rect x="613" y="212" width="14" height="1" fill="rgb(0, 244, 56)"/>
<rect x="613" y="213" width="14" height="1" fill="rgb(0, 244, 59)"/>
<rect x="613" y="214" width="14" height="1" fill="rgb(0, 244, 63)"/>
<rect x="613" y="215" width="14" height="1" fill="rgb(0, 243, 66)"/>
<rect x="613" y="216" width="14" height="1" fill="rgb(0, 243, 70)"/>
<rect x="613" y="217" width="14" height="1" fill="rgb(0, 243, 73)"/>
<rect x="613" y="218" width="14" height="1" fill="rgb(0, 243, 77)"/>
<rect x="613" y="219" width="14" height="1" fill="rgb(0, 242, 80)"/>
<rect x="613" y="220" width="14" height="1" fill="rgb(0, 242, 83)"/>
<rect x="613" y="221" width="14" height="1" fill="rgb(0, 242, 87)"/>
<rect x="613" y="222" width="14" height="1" fill="rgb(0, 242, 90)"/>
<rect x="613" y="223" width="14" height="1" fill="rgb(0, 242, 94)"/>
<rect x="613" y="224" width="14" height="1" fill="rgb(0, 241, 97)"/>
<rect x="613" y="225" width="14" height="1" fill="rgb(0, 241, 101)"/>
<rect x="613" y="226" width="14" height="1" fill="rgb(0, 241, 104)"/>
<rect x="613" y="227" width="14" height="1" fill="rgb(0, 241, 108)"/>
<rect x="613" y="228" width="14" height="1" fill="rgb(0, 241, 111)"/>
<rect x="613" y="229" width="14" height="1" fill="rgb(0, 240, 115)"/>
<rect x="613" y="230" width="14" height="1" fill="rgb(0, 240, 118)"/>
<rect x="613" y="231" width="14" height="1" fill="rgb(0, 240, 121)"/>
<rect x="613" y="232" width="14" height="1" fill="rgb(0, 240, 123)"/>
<rect x="613" y="233" width="14" height="1" fill="rgb(0, 240, 125)"/>
<rect x="613" y="234" width="14" height="1" fill="rgb(0, 240, 127)"/>
<rect x="613" y="235" width="14" height="1" fill="rgb(0, 240, 129)"/>
<rect x="613" y="236" width="14" height="1" fill="rgb(0, 240, 131)"/>
<rect x="613" y="237" width="14" height="1" fill="rgb(0, 241, 134)"/>
<rect x="613" y="238" width="14" height="1" fill="rgb(0, 241, 136)"/>
<rect x="613" y="239" width="14" height="1" fill="rgb(0, 241, 138)"/>
<rect x="613" y="240" width="14" height="1" fill="rgb(0, 241, 140)"/>
<rect x="613" y="241" width="14" height="1" fill="rgb(0, 241, 142)"/>
<rect x="613" y="242" width="14" height="1" fill="rgb(0, 241, 144)"/>
<rect x="613" y="243" width="14" height="1" fill="rgb(0, 241, 146)"/>
<rect x="613" y="244" width="14" height="1" fill="rgb(0, 241, 148)"/>
<rect x="613" y="245" width="14" height="1" fill="rgb(0, 241, 150)"/>
<rect x="613" y="246" width="14" height="1" fill="rgb(0, 241, 152)"/>
<rect x="613" y="247" width="14" height="1" fill="rgb(0, 241, 154)"/>
<rect x="613" y="248" width="14" height="1" fill="rgb(0, 241, 156)"/>
<rect x="613" y="249" width="14" height="1" fill="rgb(0, 242, 159)"/>
<rect x="613" y="250" width="14" height="1" fill="rgb(0, 242, 161)"/>
<rect x="613" y="251" width="14" height="1" fill="rgb(0, 242, 163)"/>
<rect x="613" y="252" width="14" height="1" fill="rgb(0, 242, 165)"/>
<rect x="613" y="253" width="14" height="1" fill="rgb(0, 242, 167)"/>
<rect x="613" y="254" width="14" height="1" fill="rgb(0, 242, 169)"/>
<rect x="613" y="255" width="14" height="1" fill="rgb(0, 242, 172)"/>
<rect x="613" y="256" width="14" height="1" fill="rgb(0, 243, 175)"/>
<rect x="613" y="257" width="14" height="1" fill="rgb(0, 243, 178)"/>
<rect x="613" y="258" width="14" height="1" fill="rgb(0, 244, 181)"/>
<rect x="613" y="259" width="14" height="1" fill="rgb(0, 244, 184)"/>
<rect x="613" y="260" width="14" height="1" fill="rgb(0, 245, 188)"/>
<rect x="613" y="261" width="14" height="1" fill="rgb(0, 245, 191)"/>
<rect x="613" y="262" width="14" height="1" fill="rgb(0, 246, 194)"/>
<rect x="613" y="263" width="14" height="1" fill="rgb(0, 246, 197)"/>
<rect x="613" y="264" width="14" height="1" fill="rgb(0, 247, 200)"/>
<rect x="613" y="265" width="14" height="1" fill="rgb(0, 247, 204)"/>
<rect x="613" y="266" width="14" height="1" fill="rgb(0, 248, 207)"/>
<rect x="613" y="267" width="14" height="1" fill="rgb(0, 248, 210)"/>
<rect x="613" y="268" width="14" height="1" fill="rgb(0, 249, 213)"/>
<rect x="613" y="269" width="14" height="1" fill="rgb(0, 249, 216)"/>
<rect x="613" y="270" width="14" height="1" fill="rgb(0, 250, 220)"/>
<rect x="613" y="271" width="14" height="1" fill="rgb(0, 250, 223)"/>
<rect x="613" y="272" width="14" height="1" fill="rgb(0, 251, 226)"/>
<rect x="613" y="273" width="14" height="1" fill="rgb(0, 251, 229)"/>
<rect x="613" y="274" width="14" height="1" fill="rgb(0, 252, 232)"/>
<rect x="613" y="275" width="14" height="1" fill="rgb(0, 252, 236)"/>
<rect x="613" y="276" width="14" height="1" fill="rgb(0, 253, 239)"/>
<rect x="613" y="277" width="14" height="1" fill="rgb(0, 253, 242)"/>
<rect x="613" y="278" width="14" height="1" fill="rgb(0, 254, 245)"/>
<rect x="613" y="279" width="14" height="1" fill="rgb(0, 254, 248)"/>
<rect x="613" y="280" width="14" height="1" fill="rgb(0, 254, 251)"/>
<rect x="613" y="281" width="14" height="1" fill="rgb(0, 255, 255)"/>
<rect x="613" y="282" width="14" height="1" fill="rgb(0, 249, 255)"/>
<rect x="613" y="283" width="14" height="1" fill="rgb(0, 242, 255)"/>
<rect x="613" y="284" width="14" height="1" fill="rgb(0, 235, 255)"/>
<rect x="613" y="285" width="14" height="1" fill="rgb(0, 228, 255)"/>
<rect x="613" y="286" width="14" height="1" fill="rgb(0, 221, 255)"/>
<rect x="613" y="287" width="14" height="1" fill="rgb(0, 214, 255)"/>
<rect x="613" y="288" width="14" height="1" fill="rgb(0, 207, 255)"/>
<rect x="613" y="289" width="14" height="1" fill="rgb(0, 200, 255)"/>
<rect x="613" y="290" width="14" height="1" fill="rgb(0, 193, 255)"/>
<rect x="613" y="291" width="14" height="1" fill="rgb(0, 186, 255)"/>
<rect x="613" y="292" width="14" height="1" fill="rgb(0, 179, 255)"/>
<rect x="613" y="293" width="14" height="1" fill="rgb(0, 172, 255)"/>
<rect x="613" y="294" width="14" height="1" fill="rgb(0, 165, 255)"/>
<rect x="613" y="295" width="14" height="1" fill="rgb(0, 157, 255)"/>
<rect x="613" y="296" width="14" height="1" fill="rgb(0, 150, 255)"/>
<rect x="613" y="297" width="14" height="1" fill="rgb(0, 143, 255)"/>
<rect x="613" y="298" width="14" height="1" fill="rgb(0, 135, 255)"/>
<rect x="613" y="299" width="14" height="1" fill="rgb(0, 128, 255)"/>
<rect x="613" y="300" width="14" height="1" fill="rgb(0, 121, 255)"/>
<rect x="613" y="301" width="14" height="1" fill="rgb(0, 114, 255)"/>
<rect x="613" y="302" width="14" height="1" fill="rgb(0, 107, 255)"/>
<rect x="613" y="303" width="14" height="1" fill="rgb(0, 100, 255)"/>
<rect x="613" y="304" width="14" height="1" fill="rgb(0, 94, 255)"/>
<rect x="613" y="305" width="14" height="1" fill="rgb(0, 88, 255)"/>
<rect x="613" y="306" width="14" height="1" fill="rgb(0, 81, 255)"/>
<rect x="613" y="307" width="14" height="1" fill="rgb(0, 75, 255)"/>
<rect x="613" y="308" width="14" height="1" fill="rgb(0, 69, 255)"/>
<rect x="613" y="309" width="14" height="1" fill="rgb(0, 62, 255)"/>
<rect x="613" y="310" width="14" height="1" fill="rgb(0, 56, 255)"/>
<rect x="613" y="311" width="14" height="1" fill="rgb(0, 50, 255)"/>
<rect x="613" y="312" width="14" height="1" fill="rgb(0, 43, 255)"/>
<rect x="613" y="313" width="14" height="1" fill="rgb(0, 38, 254)"/>
<rect x="613" y="314" width="14" height="1" fill="rgb(0, 32, 252)"/>
<rect x="613" y="315" width="14" height="1" fill="rgb(0, 28, 250)"/>
<rect x="613" y="316" width="14" height="1" fill="rgb(0, 22, 248)"/>
<rect x="613" y="317" width="14" height="1" fill="rgb(0, 18, 247)"/>
<rect x="613" y="318" width="14" height="1" fill="rgb(0, 12, 245)"/>
<rect x="613" y="319" width="14" height="1" fill="rgb(0, 8, 243)"/>
<rect x="613" y="320" width="14" height="1" fill="rgb(0, 2, 241)"/>
<rect x="613" y="321" width="14" height="1" fill="rgb(0, 0, 238)"/>
<rect x="613" y="322" width="14" height="1" fill="rgb(0, 0, 232)"/>
<rect x="613" y="323" width="14" height="1" fill="rgb(0, 0, 228)"/>
<rect x="613" y="324" width="14" height="1" fill="rgb(0, 0, 222)"/>
<rect x="613" y="325" width="14" height="1" fill="rgb(0, 0, 218)"/>
<rect x="613" y="326" width="14" height="1" fill="rgb(0, 0, 212)"/>
<rect x="613" y="327" width="14" height="1" fill="rgb(0, 0, 208)"/>
<rect x="613" y="328" width="14" height="1" fill="rgb(0, 0, 202)"/>
<rect x="613" y="329" width="14" height="1" fill="rgb(0, 0, 198)"/>
<rect x="613" y="330" width="14" height="1" fill="rgb(0, 0, 192)"/>
<rect x="613" y="331" width="14" height="1" fill="rgb(0, 0, 188)"/>
<rect x="613" y="332" width="14" height="1" fill="rgb(0, 0, 182)"/>
<rect x="613" y="333" width="14" height="1" fill="rgb(0, 0, 179)"/>
<rect x="613" y="334" width="14" height="1" fill="rgb(0, 0, 176)"/>
<rect x="613" y="335" width="14" height="1" fill="rgb(0, 0, 174)"/>
<rect x="613" y="336" width="14" height="1" fill="rgb(0, 0, 171)"/>
<rect x="613" y="337" width="14" height="1" fill="rgb(0, 0, 169)"/>
<rect x="613" y="338" width="14" height="1" fill="rgb(0, 0, 166)"/>
<rect x="613" y="339" width="14" height="1" fill="rgb(0, 0, 164)"/>
<rect x="613" y="340" width="14" height="1" fill="rgb(0, 0, 161)"/>
<rect x="613" y="341" width="14" height="1" fill="rgb(0, 0, 159)"/>
<rect x="613" y="342" width="14" height="1" fill="rgb(0, 0, 156)"/>
<rect x="613" y="343" width="14" height="1" fill="rgb(0, 0, 154)"/>
<rect x="613" y="344" width="14" height="1" fill="rgb(0, 0, 151)"/>
<rect x="613" y="345" width="14" height="1" fill="rgb(0, 0, 148)"/>
<rect x="613" y="346" width="14" height="1" fill="rgb(0, 0, 145)"/>
<rect x="613" y="347" width="14" height="1" fill="rgb(0, 0, 142)"/>
<rect x="613" y="348" width="14" height="1" fill="rgb(0, 0, 138)"/>
<rect x="613" y="349" width="14" height="1" fill="rgb(0, 0, 135)"/>
<rect x="613" y="350" width="14" height="1" fill="rgb(0, 0, 132)"/>
<rect x="613" y="351" width="14" height="1" fill="rgb(0, 0, 128)"/>
<rect x="613" y="352" width="14" height="1" fill="rgb(0, 0, 125)"/>
<rect x="613" y="353" width="14" height="1" fill="rgb(0, 0, 122)"/>
<rect x="613" y="354" width="14" height="1" fill="rgb(0, 0, 118)"/>
<rect x="613" y="355" width="14" height="1" fill="rgb(0, 0, 115)"/>
<rect x="613" y="356" width="14" height="1" fill="rgb(0, 0, 112)"/>
<line x1="627.5" y1="56" x2="627.5" y2="357" stroke="#000" stroke-width="1"/>
<line x1="627.5" y1="357.5" x2="632.5" y2="357.5" stroke="#000" stroke-width="1"/>
<line x1="627.5" y1="322.5" x2="637.5" y2="322.5" stroke="#000" stroke-width="1"/>
<line x1="627.5" y1="287.5" x2="632.5" y2="287.5" stroke="#000" stroke-width="1"/>
<line x1="627.5" y1="252.5" x2="637.5" y2="252.5" stroke="#000" stroke-width="1"/>
<line x1="627.5" y1="217.5" x2="632.5" y2="217.5" stroke="#000" stroke-width="1"/>
<line x1="627.5" y1="182.5" x2="637.5" y2="182.5" stroke="#000" stroke-width="1"/>
<line x1="627.5" y1="147.5" x2="632.5" y2="147.5" stroke="#000" stroke-width="1"/>
<line x1="627.5" y1="112.5" x2="637.5" y2="112.5" stroke="#000" stroke-width="1"/>
<line x1="627.5" y1="77.5" x2="632.5" y2="77.5" stroke="#000" stroke-width="1"/>
<line x1="627.5" y1="357.5" x2="633" y2="357.5" stroke="#000" stroke-width="1"/>
<rect x="111.5" y="407.5" width="488" height="107" fill="none" stroke="#000" stroke-width="1"/>
<line x1="112.5" y1="515" x2="112.5" y2="525" stroke="#000" stroke-width="1"/>
<line x1="132.5" y1="515" x2="132.5" y2="520" stroke="#000" stroke-width="1"/>
<line x1="152.5" y1="515" x2="152.5" y2="520" stroke="#000" stroke-width="1"/>
<line x1="172.5" y1="515" x2="172.5" y2="520" stroke="#000" stroke-width="1"/>
<line x1="193.5" y1="515" x2="193.5" y2="520" stroke="#000" stroke-width="1"/>
<line x1="213.5" y1="515" x2="213.5" y2="520" stroke="#000" stroke-width="1"/>
<line x1="233.5" y1="515" x2="233.5" y2="525" stroke="#000" stroke-width="1"/>
<line x1="254.5" y1="515" x2="254.5" y2="520" stroke="#000" stroke-width="1"/>
<line x1="274.5" y1="515" x2="274.5" y2="520" stroke="#000" stroke-width="1"/>
<line x1="294.5" y1="515" x2="294.5" y2="520" stroke="#000" stroke-width="1"/>
<line x1="314.5" y1="515" x2="314.5" y2="520" stroke="#000" stroke-width="1"/>
<line x1="335.5" y1="515" x2="335.5" y2="520" stroke="#000" stroke-width="1"/>
<line x1="355.5" y1="515" x2="355.5" y2="525" stroke="#000" stroke-width="1"/>
<line x1="375.5" y1="515" x2="375.5" y2="520" stroke="#000" stroke-width="1"/>
<line x1="396.5" y1="515" x2="396.5" y2="520" stroke="#000" stroke-width="1"/>
<line x1="416.5" y1="515" x2="416.5" y2="520" stroke="#000" stroke-width="1"/>
<line x1="436.5" y1="515" x2="436.5" y2="520" stroke="#000" stroke-width="1"/>
<line x1="456.5" y1="515" x2="456.5" y2="520" stroke="#000" stroke-width="1"/>
<line x1="477.5" y1="515" x2="477.5" y2="525" stroke="#000" stroke-width="1"/>
<line x1="497.5" y1="515" x2="497.5" y2="520" stroke="#000" stroke-width="1"/>
<line x1="517.5" y1="515" x2="517.5" y2="520" stroke="#000" stroke-width="1"/>
<line x1="538.5" y1="515" x2="538.5" y2="520" stroke="#000" stroke-width="1"/>
<line x1="558.5" y1="515" x2="558.5" y2="520" stroke="#000" stroke-width="1"/>
<line x1="578.5" y1="515" x2="578.5" y2="520" stroke="#000" stroke-width="1"/>
<line x1="599.5" y1="515" x2="599.5" y2="525" stroke="#000" stroke-width="1"/>
<line x1="106" y1="513.5" x2="111" y2="513.5" stroke="#000" stroke-width="1"/>
<line x1="106" y1="510.5" x2="111" y2="510.5" stroke="#000" stroke-width="1"/>
<line x1="106" y1="507.5" x2="111" y2="507.5" stroke="#000" stroke-width="1"/>
<line x1="106" y1="505.5" x2="111" y2="505.5" stroke="#000" stroke-width="1"/>
<line x1="106" y1="503.5" x2="111" y2="503.5" stroke="#000" stroke-width="1"/>
<line x1="106" y1="502.5" x2="111" y2="502.5" stroke="#000" stroke-width="1"/>
<line x1="106" y1="500.5" x2="111" y2="500.5" stroke="#000" stroke-width="1"/>
<line x1="101" y1="499.5" x2="111" y2="499.5" stroke="#000" stroke-width="1"/>
<line x1="106" y1="491.5" x2="111" y2="491.5" stroke="#000" stroke-width="1"/>
<line x1="106" y1="486.5" x2="111" y2="486.5" stroke="#000" stroke-width="1"/>
<line x1="106" y1="483.5" x2="111" y2="483.5" stroke="#000" stroke-width="1"/>
<line x1="106" y1="481.5" x2="111" y2="481.5" stroke="#000" stroke-width="1"/>
<line x1="106" y1="478.5" x2="111" y2="478.5" stroke="#000" stroke-width="1"/>
<line x1="106" y1="477.5" x2="111" y2="477.5" stroke="#000" stroke-width="1"/>
<line x1="106" y1="475.5" x2="111" y2="475.5" stroke="#000" stroke-width="1"/>
<line x1="106" y1="474.5" x2="111" y2="474.5" stroke="#000" stroke-width="1"/>
<line x1="101" y1="473.5" x2="111" y2="473.5" stroke="#000" stroke-width="1"/>
<line x1="106" y1="465.5" x2="111" y2="465.5" stroke="#000" stroke-width="1"/>
<line x1="106" y1="460.5" x2="111" y2="460.5" stroke="#000" stroke-width="1"/>
<line x1="106" y1="456.5" x2="111" y2="456.5" stroke="#000" stroke-width="1"/>
<line x1="106" y1="454.5" x2="111" y2="454.5" stroke="#000" stroke-width="1"/>
<line x1="106" y1="452.5" x2="111" y2="452.5" stroke="#000" stroke-width="1"/>
<line x1="106" y1="450.5" x2="111" y2="450.5" stroke="#000" stroke-width="1"/>
<line x1="106" y1="448.5" x2="111" y2="448.5" stroke="#000" stroke-width="1"/>
<line x1="106" y1="447.5" x2="111" y2="447.5" stroke="#000" stroke-width="1"/>
<line x1="101" y1="446.5" x2="111" y2="446.5" stroke="#000" stroke-width="1"/>
<line x1="106" y1="438.5" x2="111" y2="438.5" stroke="#000" stroke-width="1"/>
<line x1="106" y1="433.5" x2="111" y2="433.5" stroke="#000" stroke-width="1"/>
<line x1="106" y1="430.5" x2="111" y2="430.5" stroke="#000" stroke-width="1"/>
<line x1="106" y1="427.5" x2="111" y2="427.5" stroke="#000" stroke-width="1"/>
<line x1="106" y1="425.5" x2="111" y2="425.5" stroke="#000" stroke-width="1"/>
<line x1="106" y1="423.5" x2="111" y2="423.5" stroke="#000" stroke-width="1"/>
<line x1="106" y1="422.5" x2="111" y2="422.5" stroke="#000" stroke-width="1"/>
<line x1="106" y1="420.5" x2="111" y2="420.5" stroke="#000" stroke-width="1"/>
<line x1="101" y1="419.5" x2="111" y2="419.5" stroke="#000" stroke-width="1"/>
<line x1="106" y1="411.5" x2="111" y2="411.5" stroke="#000" stroke-width="1"/>
<line x1="101" y1="670.5" x2="111" y2="670.5" stroke="#000" stroke-width="1"/>
<line x1="106" y1="667.5" x2="111" y2="667.5" stroke="#000" stroke-width="1"/>
<line x1="106" y1="665.5" x2="111" y2="665.5" stroke="#000" stroke-width="1"/>
<line x1="106" y1="662.5" x2="111" y2="662.5" stroke="#000" stroke-width="1"/>
<line x1="106" y1="660.5" x2="111" y2="660.5" stroke="#000" stroke-width="1"/>
<line x1="101" y1="657.5" x2="111" y2="657.5" stroke="#000" stroke-width="1"/>
<line x1="106" y1="655.5" x2="111" y2="655.5" stroke="#000" stroke-width="1"/>
<line x1="106" y1="652.5" x2="111" y2="652.5" stroke="#000" stroke-width="1"/>
<line x1="106" y1="650.5" x2="111" y2="650.5" stroke="#000" stroke-width="1"/>
<line x1="106" y1="647.5" x2="111" y2="647.5" stroke="#000" stroke-width="1"/>
<line x1="101" y1="645.5" x2="111" y2="645.5" stroke="#000" stroke-width="1"/>
<line x1="106" y1="642.5" x2="111" y2="642.5" stroke="#000" stroke-width="1"/>
<line x1="106" y1="640.5" x2="111" y2="640.5" stroke="#000" stroke-width="1"/>
<line x1="106" y1="637.5" x2="111" y2="637.5" stroke="#000" stroke-width="1"/>
<line x1="106" y1="635.5" x2="111" y2="635.5" stroke="#000" stroke-width="1"/>
<line x1="101" y1="632.5" x2="111" y2="632.5" stroke="#000" stroke-width="1"/>
<line x1="106" y1="630.5" x2="111" y2="630.5" stroke="#000" stroke-width="1"/>
<line x1="106" y1="627.5" x2="111" y2="627.5" stroke="#000" stroke-width="1"/>
<line x1="106" y1="625.5" x2="111" y2="625.5" stroke="#000" stroke-width="1"/>
<line x1="106" y1="622.5" x2="111" y2="622.5" stroke="#000" stroke-width="1"/>
<line x1="101" y1="620.5" x2="111" y2="620.5" stroke="#000" stroke-width="1"/>
<line x1="106" y1="617.5" x2="111" y2="617.5" stroke="#000" stroke-width="1"/>
<line x1="106" y1="615.5" x2="111" y2="615.5" stroke="#000" stroke-width="1"/>
<line x1="106" y1="612.5" x2="111" y2="612.5" stroke="#000" stroke-width="1"/>
<line x1="106" y1="610.5" x2="111" y2="610.5" stroke="#000" stroke-width="1"/>
<line x1="101" y1="607.5" x2="111" y2="607.5" stroke="#000" stroke-width="1"/>
<line x1="106" y1="605.5" x2="111" y2="605.5" stroke="#000" stroke-width="1"/>
<line x1="106" y1="602.5" x2="111" y2="602.5" stroke="#000" stroke-width="1"/>
<line x1="106" y1="600.5" x2="111" y2="600.5" stroke="#000" stroke-width="1"/>
<line x1="106" y1="597.5" x2="111" y2="597.5" stroke="#000" stroke-width="1"/>
<line x1="101" y1="595.5" x2="111" y2="595.5" stroke="#000" stroke-width="1"/>
<line x1="106" y1="592.5" x2="111" y2="592.5" stroke="#000" stroke-width="1"/>
<line x1="106" y1="590.5" x2="111" y2="590.5" stroke="#000" stroke-width="1"/>
<line x1="106" y1="587.5" x2="111" y2="587.5" stroke="#000" stroke-width="1"/>
<line x1="106" y1="585.5" x2="111" y2="585.5" stroke="#000" stroke-width="1"/>
<line x1="101" y1="582.5" x2="111" y2="582.5" stroke="#000" stroke-width="1"/>
<line x1="106" y1="580.5" x2="111" y2="580.5" stroke="#000" stroke-width="1"/>
<line x1="106" y1="577.5" x2="111" y2="577.5" stroke="#000" stroke-width="1"/>
<line x1="106" y1="575.5" x2="111" y2="575.5" stroke="#000" stroke-width="1"/>
<line x1="106" y1="572.5" x2="111" y2="572.5" stroke="#000" stroke-width="1"/>
<line x1="101" y1="570.5" x2="111" y2="570.5" stroke="#000" stroke-width="1"/>
<line x1="106" y1="567.5" x2="111" y2="567.5" stroke="#000" stroke-width="1"/>
<line x1="106" y1="860.5" x2="111" y2="860.5" stroke="#000" stroke-width="1"/>
<line x1="106" y1="858.5" x2="111" y2="858.5" stroke="#000" stroke-width="1"/>
<line x1="101" y1="855.5" x2="111" y2="855.5" stroke="#000" stroke-width="1"/>
<line x1="106" y1="853.5" x2="111" y2="853.5" stroke="#000" stroke-width="1"/>
<line x1="106" y1="850.5" x2="111" y2="850.5" stroke="#000" stroke-width="1"/>
<line x1="106" y1="848.5" x2="111" y2="848.5" stroke="#000" stroke-width="1"/>
<line x1="106" y1="846.5" x2="111" y2="846.5" stroke="#000" stroke-width="1"/>
<line x1="106" y1="843.5" x2="111" y2="843.5" stroke="#000" stroke-width="1"/>
<line x1="106" y1="841.5" x2="111" y2="841.5" stroke="#000" stroke-width="1"/>
<line x1="106" y1="838.5" x2="111" y2="838.5" stroke="#000" stroke-width="1"/>
<line x1="106" y1="836.5" x2="111" y2="836.5" stroke="#000" stroke-width="1"/>
<line x1="106" y1="834.5" x2="111" y2="834.5" stroke="#000" stroke-width="1"/>
<line x1="101" y1="831.5" x2="111" y2="831.5" stroke="#000" stroke-width="1"/>
<line x1="106" y1="829.5" x2="111" y2="829.5" stroke="#000" stroke-width="1"/>
<line x1="106" y1="826.5" x2="111" y2="826.5" stroke="#000" stroke-width="1"/>
<line x1="106" y1="824.5" x2="111" y2="824.5" stroke="#000" stroke-width="1"/>
<line x1="106" y1="821.5" x2="111" y2="821.5" stroke="#000" stroke-width="1"/>
<line x1="106" y1="819.5" x2="111" y2="819.5" stroke="#000" stroke-width="1"/>
<line x1="106" y1="817.5" x2="111" y2="817.5" stroke="#000" stroke-width="1"/>
<line x1="106" y1="814.5" x2="111" y2="814.5" stroke="#000" stroke-width="1"/>
<line x1="106" y1="812.5" x2="111" y2="812.5" stroke="#000" stroke-width="1"/>
<line x1="106" y1="809.5" x2="111" y2="809.5" stroke="#000" stroke-width="1"/>
<line x1="101" y1="807.5" x2="111" y2="807.5" stroke="#000" stroke-width="1"/>
<line x1="106" y1="804.5" x2="111" y2="804.5" stroke="#000" stroke-width="1"/>
<line x1="106" y1="802.5" x2="111" y2="802.5" stroke="#000" stroke-width="1"/>
<line x1="106" y1="800.5" x2="111" y2="800.5" stroke="#000" stroke-width="1"/>
<line x1="106" y1="797.5" x2="111" y2="797.5" stroke="#000" stroke-width="1"/>
<line x1="106" y1="795.5" x2="111" y2="795.5" stroke="#000" stroke-width="1"/>
<line x1="106" y1="792.5" x2="111" y2="792.5" stroke="#000" stroke-width="1"/>
<line x1="106" y1="790.5" x2="111" y2="790.5" stroke="#000" stroke-width="1"/>
<line x1="106" y1="788.5" x2="111" y2="788.5" stroke="#000" stroke-width="1"/>
<line x1="106" y1="785.5" x2="111" y2="785.5" stroke="#000" stroke-width="1"/>
<line x1="101" y1="783.5" x2="111" y2="783.5" stroke="#000" stroke-width="1"/>
<line x1="106" y1="780.5" x2="111" y2="780.5" stroke="#000" stroke-width="1"/>
<line x1="106" y1="778.5" x2="111" y2="778.5" stroke="#000" stroke-width="1"/>
<line x1="106" y1="775.5" x2="111" y2="775.5" stroke="#000" stroke-width="1"/>
<line x1="106" y1="773.5" x2="111" y2="773.5" stroke="#000" stroke-width="1"/>
<line x1="106" y1="771.5" x2="111" y2="771.5" stroke="#000" stroke-width="1"/>
<line x1="106" y1="768.5" x2="111" y2="768.5" stroke="#000" stroke-width="1"/>
<line x1="106" y1="766.5" x2="111" y2="766.5" stroke="#000" stroke-width="1"/>
<line x1="106" y1="763.5" x2="111" y2="763.5" stroke="#000" stroke-width="1"/>
<line x1="106" y1="761.5" x2="111" y2="761.5" stroke="#000" stroke-width="1"/>
<line x1="101" y1="759.5" x2="111" y2="759.5" stroke="#000" stroke-width="1"/>
<line x1="106" y1="756.5" x2="111" y2="756.5" stroke="#000" stroke-width="1"/>
<line x1="106" y1="754.5" x2="111" y2="754.5" stroke="#000" stroke-width="1"/>
<line x1="106" y1="751.5" x2="111" y2="751.5" stroke="#000" stroke-width="1"/>
<line x1="106" y1="749.5" x2="111" y2="749.5" stroke="#000" stroke-width="1"/>
<line x1="106" y1="746.5" x2="111" y2="746.5" stroke="#000" stroke-width="1"/>
<line x1="106" y1="744.5" x2="111" y2="744.5" stroke="#000" stroke-width="1"/>
<line x1="106" y1="742.5" x2="111" y2="742.5" stroke="#000" stroke-width="1"/>
<line x1="106" y1="739.5" x2="111" y2="739.5" stroke="#000" stroke-width="1"/>
<line x1="106" y1="737.5" x2="111" y2="737.5" stroke="#000" stroke-width="1"/>
<line x1="101" y1="734.5" x2="111" y2="734.5" stroke="#000" stroke-width="1"/>
<line x1="106" y1="732.5" x2="111" y2="732.5" stroke="#000" stroke-width="1"/>
<line x1="106" y1="729.5" x2="111" y2="729.5" stroke="#000" stroke-width="1"/>
<line x1="106" y1="727.5" x2="111" y2="727.5" stroke="#000" stroke-width="1"/>
<line x1="106" y1="725.5" x2="111" y2="725.5" stroke="#000" stroke-width="1"/>
<line x1="106" y1="722.5" x2="111" y2="722.5" stroke="#000" stroke-width="1"/>
<rect x="111.5" y="565.5" width="488" height="107" fill="none" stroke="#000" stroke-width="1"/>
<line x1="112.5" y1="673" x2="112.5" y2="683" stroke="#000" stroke-width="1"/>
<line x1="132.5" y1="673" x2="132.5" y2="678" stroke="#000" stroke-width="1"/>
<line x1="152.5" y1="673" x2="152.5" y2="678" stroke="#000" stroke-width="1"/>
<line x1="172.5" y1="673" x2="172.5" y2="678" stroke="#000" stroke-width="1"/>
<line x1="193.5" y1="673" x2="193.5" y2="678" stroke="#000" stroke-width="1"/>
<line x1="213.5" y1="673" x2="213.5" y2="678" stroke="#000" stroke-width="1"/>
<line x1="233.5" y1="673" x2="233.5" y2="683" stroke="#000" stroke-width="1"/>
<line x1="254.5" y1="673" x2="254.5" y2="678" stroke="#000" stroke-width="1"/>
<line x1="274.5" y1="673" x2="274.5" y2="678" stroke="#000" stroke-width="1"/>
<line x1="294.5" y1="673" x2="294.5" y2="678" stroke="#000" stroke-width="1"/>
<line x1="314.5" y1="673" x2="314.5" y2="678" stroke="#000" stroke-width="1"/>
<line x1="335.5" y1="673" x2="335.5" y2="678" stroke="#000" stroke-width="1"/>
<line x1="355.5" y1="673" x2="355.5" y2="683" stroke="#000" stroke-width="1"/>
<line x1="375.5" y1="673" x2="375.5" y2="678" stroke="#000" stroke-width="1"/>
<line x1="396.5" y1="673" x2="396.5" y2="678" stroke="#000" stroke-width="1"/>
<line x1="416.5" y1="673" x2="416.5" y2="678" stroke="#000" stroke-width="1"/>
<line x1="436.5" y1="673" x2="436.5" y2="678" stroke="#000" stroke-width="1"/>
<line x1="456.5" y1="673" x2="456.5" y2="678" stroke="#000" stroke-width="1"/>
<line x1="477.5" y1="673" x2="477.5" y2="683" stroke="#000" stroke-width="1"/>
<line x1="497.5" y1="673" x2="497.5" y2="678" stroke="#000" stroke-width="1"/>
<line x1="517.5" y1="673" x2="517.5" y2="678" stroke="#000" stroke-width="1"/>
<line x1="538.5" y1="673" x2="538.5" y2="678" stroke="#000" stroke-width="1"/>
<line x1="558.5" y1="673" x2="558.5" y2="678" stroke="#000" stroke-width="1"/>
<line x1="578.5" y1="673" x2="578.5" y2="678" stroke="#000" stroke-width="1"/>
<line x1="599.5" y1="673" x2="599.5" y2="683" stroke="#000" stroke-width="1"/>
<rect x="111.5" y="722.5" width="488" height="140" fill="none" stroke="#000" stroke-width="1"/>
<line x1="112.5" y1="863" x2="112.5" y2="873" stroke="#000" stroke-width="1"/>
<line x1="132.5" y1="863" x2="132.5" y2="868" stroke="#000" stroke-width="1"/>
<line x1="152.5" y1="863" x2="152.5" y2="868" stroke="#000" stroke-width="1"/>
<line x1="172.5" y1="863" x2="172.5" y2="868" stroke="#000" stroke-width="1"/>
<line x1="193.5" y1="863" x2="193.5" y2="868" stroke="#000" stroke-width="1"/>
<line x1="213.5" y1="863" x2="213.5" y2="868" stroke="#000" stroke-width="1"/>
<line x1="233.5" y1="863" x2="233.5" y2="873" stroke="#000" stroke-width="1"/>
<line x1="254.5" y1="863" x2="254.5" y2="868" stroke="#000" stroke-width="1"/>
<line x1="274.5" y1="863" x2="274.5" y2="868" stroke="#000" stroke-width="1"/>
<line x1="294.5" y1="863" x2="294.5" y2="868" stroke="#000" stroke-width="1"/>
<line x1="314.5" y1="863" x2="314.5" y2="868" stroke="#000" stroke-width="1"/>
<line x1="335.5" y1="863" x2="335.5" y2="868" stroke="#000" stroke-width="1"/>
<line x1="355.5" y1="863" x2="355.5" y2="873" stroke="#000" stroke-width="1"/>
<line x1="375.5" y1="863" x2="375.5" y2="868" stroke="#000" stroke-width="1"/>
<line x1="396.5" y1="863" x2="396.5" y2="868" stroke="#000" stroke-width="1"/>
<line x1="416.5" y1="863" x2="416.5" y2="868" stroke="#000" stroke-width="1"/>
<line x1="436.5" y1="863" x2="436.5" y2="868" stroke="#000" stroke-width="1"/>
<line x1="456.5" y1="863" x2="456.5" y2="868" stroke="#000" stroke-width="1"/>
<line x1="477.5" y1="863" x2="477.5" y2="873" stroke="#000" stroke-width="1"/>
<line x1="497.5" y1="863" x2="497.5" y2="868" stroke="#000" stroke-width="1"/>
<line x1="517.5" y1="863" x2="517.5" y2="868" stroke="#000" stroke-width="1"/>
<line x1="538.5" y1="863" x2="538.5" y2="868" stroke="#000" stroke-width="1"/>
<line x1="558.5" y1="863" x2="558.5" y2="868" stroke="#000" stroke-width="1"/>
<line x1="578.5" y1="863" x2="578.5" y2="868" stroke="#000" stroke-width="1"/>
<line x1="599.5" y1="863" x2="599.5" y2="873" stroke="#000" stroke-width="1"/>
<path d="M111.60 779.75 L111.85 779.20 L112.10 778.65 L112.35 778.10 L112.60 777.55 L112.85 777.00 L113.10 776.45 L113.35 775.90 L113.60 775.36 L113.85 774.81 L114.10 774.27 L114.35 773.73 L114.60 773.20 L114.85 772.67 L115.10 772.14 L115.35 771.61 L115.60 771.09 L115.85 770.57 L116.10 770.06 L116.35 769.55 L116.60 769.04 L116.85 768.55 L117.10 768.05 L117.35 767.56 L117.60 767.08 L117.85 766.61 L118.10 766.14 L118.35 765.68 L118.60 765.22 L118.85 764.77 L119.10 764.33 L119.35 763.90 L119.60 763.47 L119.85 763.05 L120.10 762.64 L120.35 762.24 L120.60 761.84 L120.85 761.44 L121.10 761.05 L121.35 760.67 L121.60 760.29 L121.85 759.92 L122.10 759.55 L122.35 759.18 L122.60 758.82 L122.85 758.47 L123.10 758.11 L123.35 757.76 L123.60 757.41 L123.85 757.06 L124.10 756.72 L124.35 756.38 L124.60 756.03 L124.85 755.69 L125.10 755.36 L125.35 755.02 L125.60 754.68 L125.85 754.35 L126.10 754.01 L126.35 753.68 L126.60 753.35 L126.85 753.02 L127.10 752.69 L127.35 752.37 L127.60 752.04 L127.85 751.72 L128.10 751.40 L128.35 751.08 L128.60 750.76 L128.85 750.45 L129.10 750.14 L129.35 749.82 L129.60 749.52 L129.85 749.21 L130.10 748.91 L130.35 748.60 L130.60 748.30 L130.85 748.01 L131.10 747.71 L131.35 747.42 L131.60 747.13 L131.85 746.84 L132.10 746.55 L132.35 746.27 L132.60 745.99 L132.85 745.71 L133.10 745.44 L133.35 745.16 L133.60 744.89 L133.85 744.62 L134.10 744.36 L134.35 744.10 L134.60 743.84 L134.85 743.58 L135.10 743.32 L135.35 743.07 L135.60 742.82 L135.85 742.58 L136.10 742.33 L136.35 742.09 L136.60 741.85 L136.85 741.62 L137.10 741.38 L137.35 741.15 L137.60 740.92 L137.85 740.69 L138.10 740.47 L138.35 740.24 L138.60 740.02 L138.85 739.80 L139.10 739.58 L139.35 739.36 L139.60 739.14 L139.85 738.93 L140.10 738.71 L140.35 738.50 L140.60 738.29 L140.85 738.08 L141.10 737.86 L141.35 737.65 L141.60 737.44 L141.85 737.24 L142.10 737.03 L142.35 736.82 L142.60 736.61 L142.85 736.41 L143.10 736.21 L143.35 736.00 L143.60 735.80 L143.85 735.60 L144.10 735.40 L144.35 735.21 L144.60 735.01 L144.85 734.82 L145.10 734.63 L145.35 734.44 L145.60 734.25 L145.85 734.07 L146.10 733.89 L146.35 733.71 L146.60 733.53 L146.85 733.35 L147.10 733.18 L147.35 733.01 L147.60 732.84 L147.85 732.67 L148.10 732.51 L148.35 732.35 L148.60 732.19 L148.85 732.03 L149.10 731.88 L149.35 731.72 L149.60 731.57 L149.85 731.42 L150.10 731.27 L150.35 731.13 L150.60 730.98 L150.85 730.84 L151.10 730.70 L151.35 730.56 L151.60 730.42 L151.85 730.28 L152.10 730.15 L152.35 730.01 L152.60 729.88 L152.85 729.75 L153.10 729.61 L153.35 729.48 L153.60 729.35 L153.85 729.23 L154.10 729.10 L154.35 728.97 L154.60 728.85 L154.85 728.73 L155.10 728.60 L155.35 728.48 L155.60 728.36 L155.85 728.24 L156.10 728.13 L156.35 728.01 L156.60 727.89 L156.85 727.78 L157.10 727.66 L157.35 727.55 L157.60 727.44 L157.85 727.33 L158.10 727.22 L158.35 727.11 L158.60 727.00 L158.85 726.89 L159.10 726.78 L159.35 726.68 L159.60 726.57 L159.85 726.47 L160.10 726.37 L160.35 726.27 L160.60 726.17 L160.85 726.07 L161.10 725.97 L161.35 725.87 L161.60 725.78 L161.85 725.68 L162.10 725.59 L162.35 725.50 L162.60 725.41 L162.85 725.32 L163.10 725.23 L163.35 725.15 L163.60 725.06 L163.85 724.98 L164.10 724.90 L164.35 724.82 L164.60 724.74 L164.85 724.66 L165.10 724.59 L165.35 724.51 L165.60 724.44 L165.85 724.37 L166.10 724.30 L166.35 724.24 L166.60 724.17 L166.85 724.11 L167.10 724.05 L167.35 723.99 L167.60 723.93 L167.85 723.88 L168.10 723.83 L168.35 723.77 L168.60 723.73 L168.85 723.68 L169.10 723.64 L169.35 723.59 L169.60 723.55 L169.85 723.52 L170.10 723.48 L170.35 723.45 L170.60 723.41 L170.85 723.39 L171.10 723.36 L171.35 723.33 L171.60 723.31 L171.85 723.29 L172.10 723.27 L172.35 723.25 L172.60 723.24 L172.85 723.23 L173.10 723.22 L173.35 723.21 L173.60 723.20 L173.85 723.20 L174.10 723.20 L174.35 723.20 L174.60 723.20 L174.85 723.21 L175.10 723.21 L175.35 723.22 L175.60 723.23 L175.85 723.25 L176.10 723.26 L176.35 723.28 L176.60 723.30 L176.85 723.32 L177.10 723.34 L177.35 723.37 L177.60 723.40 L177.85 723.43 L178.10 723.46 L178.35 723.49 L178.60 723.53 L178.85 723.57 L179.10 723.61 L179.35 723.65 L179.60 723.70 L179.85 723.75 L180.10 723.80 L180.35 723.85 L180.60 723.90 L180.85 723.96 L181.10 724.01 L181.35 724.07 L181.60 724.13 L181.85 724.20 L182.10 724.26 L182.35 724.33 L182.60 724.39 L182.85 724.46 L183.10 724.53 L183.35 724.60 L183.60 724.67 L183.85 724.74 L184.10 724.81 L184.35 724.88 L184.60 724.96 L184.85 725.03 L185.10 725.10 L185.35 725.18 L185.60 725.25 L185.85 725.33 L186.10 725.40 L186.35 725.48 L186.60 725.56 L186.85 725.63 L187.10 725.71 L187.35 725.79 L187.60 725.87 L187.85 725.95 L188.10 726.03 L188.35 726.12 L188.60 726.20 L188.85 726.29 L189.10 726.38 L189.35 726.47 L189.60 726.56 L189.85 726.66 L190.10 726.75 L190.35 726.85 L190.60 726.95 L190.85 727.06 L191.10 727.16 L191.35 727.27 L191.60 727.38 L191.85 727.49 L192.10 727.61 L192.35 727.73 L192.60 727.85 L192.85 727.97 L193.10 728.09 L193.35 728.22 L193.60 728.35 L193.85 728.48 L194.10 728.61 L194.35 728.75 L194.60 728.89 L194.85 729.03 L195.10 729.18 L195.35 729.32 L195.60 729.47 L195.85 729.63 L196.10 729.78 L196.35 729.94 L196.60 730.10 L196.85 730.26 L197.10 730.43 L197.35 730.59 L197.60 730.76 L197.85 730.94 L198.10 731.11 L198.35 731.29 L198.60 731.47 L198.85 731.65 L199.10 731.83 L199.35 732.01 L199.60 732.20 L199.85 732.39 L200.10 732.58 L200.35 732.77 L200.60 732.97 L200.85 733.16 L201.10 733.36 L201.35 733.56 L201.60 733.76 L201.85 733.96 L202.10 734.17 L202.35 734.37 L202.60 734.58 L202.85 734.79 L203.10 735.00 L203.35 735.22 L203.60 735.44 L203.85 735.65 L204.10 735.88 L204.35 736.10 L204.60 736.33 L204.85 736.56 L205.10 736.79 L205.35 737.02 L205.60 737.26 L205.85 737.50 L206.10 737.74 L206.35 737.99 L206.60 738.23 L206.85 738.48 L207.10 738.74 L207.35 739.00 L207.60 739.26 L207.85 739.52 L208.10 739.78 L208.35 740.05 L208.60 740.32 L208.85 740.59 L209.10 740.86 L209.35 741.14 L209.60 741.42 L209.85 741.69 L210.10 741.97 L210.35 742.26 L210.60 742.54 L210.85 742.82 L211.10 743.11 L211.35 743.39 L211.60 743.68 L211.85 743.97 L212.10 744.26 L212.35 744.55 L212.60 744.84 L212.85 745.13 L213.10 745.42 L213.35 745.71 L213.60 746.00 L213.85 746.30 L214.10 746.60 L214.35 746.89 L214.60 747.19 L214.85 747.49 L215.10 747.79 L215.35 748.10 L215.60 748.40 L215.85 748.71 L216.10 749.02 L216.35 749.33 L216.60 749.64 L216.85 749.96 L217.10 750.28 L217.35 750.60 L217.60 750.93 L217.85 751.25 L218.10 751.58 L218.35 751.92 L218.60 752.25 L218.85 752.59 L219.10 752.93 L219.35 753.27 L219.60 753.62 L219.85 753.97 L220.10 754.32 L220.35 754.67 L220.60 755.03 L220.85 755.39 L221.10 755.75 L221.35 756.11 L221.60 756.47 L221.85 756.84 L222.10 757.21 L222.35 757.58 L222.60 757.96 L222.85 758.34 L223.10 758.72 L223.35 759.10 L223.60 759.48 L223.85 759.86 L224.10 760.25 L224.35 760.64 L224.60 761.03 L224.85 761.42 L225.10 761.82 L225.35 762.21 L225.60 762.61 L225.85 763.00 L226.10 763.40 L226.35 763.80 L226.60 764.20 L226.85 764.60 L227.10 765.00 L227.35 765.40 L227.60 765.80 L227.85 766.20 L228.10 766.60 L228.35 767.00 L228.60 767.40 L228.85 767.80 L229.10 768.20 L229.35 768.60 L229.60 769.00 L229.85 769.41 L230.10 769.81 L230.35 770.22 L230.60 770.63 L230.85 771.04 L231.10 771.46 L231.35 771.88 L231.60 772.30 L231.85 772.73 L232.10 773.16 L232.35 773.60 L232.60 774.05 L232.85 774.50 L233.10 774.96 L233.35 775.42 L233.60 775.90 L233.85 776.38 L234.10 776.87 L234.35 777.37 L234.60 777.87 L234.85 778.39 L235.10 778.91 L235.35 779.44 L235.60 779.98 L235.85 780.52 L236.10 781.07 L236.35 781.62 L236.60 782.18 L236.85 782.75 L237.10 783.32 L237.35 783.89 L237.60 784.47 L237.85 785.04 L238.10 785.62 L238.35 786.21 L238.60 786.79 L238.85 787.38 L239.10 787.96 L239.35 788.55 L239.60 789.13 L239.85 789.72 L240.10 790.30 L240.35 790.88 L240.60 791.46 L240.85 792.04 L241.10 792.62 L241.35 793.19 L241.60 793.77 L241.85 794.35 L242.10 794.92 L242.35 795.50 L242.60 796.08 L242.85 796.67 L243.10 797.26 L243.35 797.85 L243.60 798.45 L243.85 799.05 L244.10 799.66 L244.35 800.28 L244.60 800.90 L244.85 801.53 L245.10 802.16 L245.35 802.80 L245.60 803.45 L245.85 804.09 L246.10 804.75 L246.35 805.41 L246.60 806.07 L246.85 806.74 L247.10 807.41 L247.35 808.09 L247.60 808.77 L247.85 809.45 L248.10 810.13 L248.35 810.82 L248.60 811.51 L248.85 812.20 L249.10 812.90 L249.35 813.60 L249.60 814.29 L249.85 814.99 L250.10 815.70 L250.35 816.40 L250.60 817.10 L250.85 817.81 L251.10 818.51 L251.35 819.22 L251.60 819.93 L251.85 820.63 L252.10 821.34 L252.35 822.05 L252.60 822.75 L252.85 823.46 L253.10 824.17 L253.35 824.88 L253.60 825.59 L253.85 826.30 L254.10 827.02 L254.35 827.73 L254.60 828.45 L254.85 829.18 L255.10 829.90 L255.35 830.64 L255.60 831.37 L255.85 832.12 L256.10 832.86 L256.35 833.62 L256.60 834.38 L256.85 835.14 L257.10 835.91 L257.35 836.69 L257.60 837.46 L257.85 838.24 L258.10 839.00 L258.35 839.77 L258.60 840.53 L258.85 841.27 L259.10 842.01 L259.35 842.73 L259.60 843.43 L259.85 844.12 L260.10 844.79 L260.35 845.43 L260.60 846.05 L260.85 846.63 L261.10 847.17 L261.35 847.68 L261.60 848.13 L261.85 848.54 L262.10 848.89 L262.35 849.19 L262.60 849.44 L262.85 849.64 L263.10 849.79 L263.35 849.90 L263.60 849.97 L263.85 850.01 L264.10 850.01 L264.35 849.97 L264.60 849.91 L264.85 849.83 L265.10 849.72 L265.35 849.58 L265.60 849.43 L265.85 849.25 L266.10 849.05 L266.35 848.83 L266.60 848.59 L266.85 848.33 L267.10 848.04 L267.35 847.74 L267.60 847.42 L267.85 847.08 L268.10 846.73 L268.35 846.35 L268.60 845.97 L268.85 845.57 L269.10 845.15 L269.35 844.72 L269.60 844.29 L269.85 843.84 L270.10 843.38 L270.35 842.91 L270.60 842.43 L270.85 841.95 L271.10 841.45 L271.35 840.95 L271.60 840.44 L271.85 839.92 L272.10 839.40 L272.35 838.87 L272.60 838.33 L272.85 837.79 L273.10 837.23 L273.35 836.68 L273.60 836.11 L273.85 835.55 L274.10 834.97 L274.35 834.39 L274.60 833.81 L274.85 833.22 L275.10 832.62 L275.35 832.03 L275.60 831.42 L275.85 830.81 L276.10 830.20 L276.35 829.58 L276.60 828.96 L276.85 828.33 L277.10 827.70 L277.35 827.06 L277.60 826.43 L277.85 825.78 L278.10 825.14 L278.35 824.49 L278.60 823.85 L278.85 823.20 L279.10 822.55 L279.35 821.90 L279.60 821.26 L279.85 820.62 L280.10 819.98 L280.35 819.34 L280.60 818.71 L280.85 818.08 L281.10 817.46 L281.35 816.84 L281.60 816.24 L281.85 815.63 L282.10 815.04 L282.35 814.45 L282.60 813.86 L282.85 813.29 L283.10 812.71 L283.35 812.14 L283.60 811.57 L283.85 811.01 L284.10 810.44 L284.35 809.88 L284.60 809.32 L284.85 808.77 L285.10 808.21 L285.35 807.65 L285.60 807.09 L285.85 806.54 L286.10 805.98 L286.35 805.42 L286.60 804.86 L286.85 804.29 L287.10 803.73 L287.35 803.17 L287.60 802.60 L287.85 802.04 L288.10 801.47 L288.35 800.90 L288.60 800.33 L288.85 799.76 L289.10 799.19 L289.35 798.62 L289.60 798.04 L289.85 797.46 L290.10 796.89 L290.35 796.31 L290.60 795.73 L290.85 795.15 L291.10 794.56 L291.35 793.98 L291.60 793.40 L291.85 792.82 L292.10 792.24 L292.35 791.67 L292.60 791.09 L292.85 790.52 L293.10 789.95 L293.35 789.38 L293.60 788.82 L293.85 788.26 L294.10 787.70 L294.35 787.15 L294.60 786.60 L294.85 786.06 L295.10 785.53 L295.35 785.00 L295.60 784.48 L295.85 783.96 L296.10 783.45 L296.35 782.95 L296.60 782.46 L296.85 781.97 L297.10 781.48 L297.35 781.01 L297.60 780.54 L297.85 780.07 L298.10 779.61 L298.35 779.16 L298.60 778.71 L298.85 778.27 L299.10 777.84 L299.35 777.41 L299.60 776.99 L299.85 776.57 L300.10 776.16 L300.35 775.75 L300.60 775.35 L300.85 774.96 L301.10 774.57 L301.35 774.18 L301.60 773.80 L301.85 773.42 L302.10 773.05 L302.35 772.69 L302.60 772.32 L302.85 771.97 L303.10 771.61 L303.35 771.26 L303.60 770.92 L303.85 770.57 L304.10 770.23 L304.35 769.89 L304.60 769.56 L304.85 769.23 L305.10 768.90 L305.35 768.57 L305.60 768.25 L305.85 767.93 L306.10 767.61 L306.35 767.29 L306.60 766.97 L306.85 766.65 L307.10 766.34 L307.35 766.02 L307.60 765.71 L307.85 765.40 L308.10 765.09 L308.35 764.78 L308.60 764.47 L308.85 764.17 L309.10 763.86 L309.35 763.56 L309.60 763.25 L309.85 762.95 L310.10 762.65 L310.35 762.35 L310.60 762.05 L310.85 761.76 L311.10 761.46 L311.35 761.16 L311.60 760.87 L311.85 760.57 L312.10 760.28 L312.35 759.99 L312.60 759.70 L312.85 759.41 L313.10 759.12 L313.35 758.83 L313.60 758.55 L313.85 758.26 L314.10 757.98 L314.35 757.70 L314.60 757.42 L314.85 757.14 L315.10 756.86 L315.35 756.59 L315.60 756.32 L315.85 756.05 L316.10 755.78 L316.35 755.51 L316.60 755.25 L316.85 754.99 L317.10 754.73 L317.35 754.47 L317.60 754.22 L317.85 753.97 L318.10 753.72 L318.35 753.48 L318.60 753.24 L318.85 753.00 L319.10 752.76 L319.35 752.53 L319.60 752.29 L319.85 752.06 L320.10 751.84 L320.35 751.61 L320.60 751.39 L320.85 751.17 L321.10 750.96 L321.35 750.74 L321.60 750.53 L321.85 750.32 L322.10 750.11 L322.35 749.91 L322.60 749.70 L322.85 749.50 L323.10 749.30 L323.35 749.11 L323.60 748.91 L323.85 748.72 L324.10 748.53 L324.35 748.34 L324.60 748.15 L324.85 747.97 L325.10 747.78 L325.35 747.60 L325.60 747.42 L325.85 747.25 L326.10 747.07 L326.35 746.90 L326.60 746.72 L326.85 746.55 L327.10 746.38 L327.35 746.22 L327.60 746.05 L327.85 745.88 L328.10 745.72 L328.35 745.56 L328.60 745.40 L328.85 745.24 L329.10 745.08 L329.35 744.92 L329.60 744.77 L329.85 744.61 L330.10 744.46 L330.35 744.31 L330.60 744.16 L330.85 744.01 L331.10 743.86 L331.35 743.71 L331.60 743.56 L331.85 743.41 L332.10 743.27 L332.35 743.12 L332.60 742.98 L332.85 742.84 L333.10 742.70 L333.35 742.56 L333.60 742.42 L333.85 742.28 L334.10 742.14 L334.35 742.00 L334.60 741.86 L334.85 741.73 L335.10 741.59 L335.35 741.45 L335.60 741.32 L335.85 741.19 L336.10 741.06 L336.35 740.93 L336.60 740.80 L336.85 740.67 L337.10 740.54 L337.35 740.42 L337.60 740.29 L337.85 740.17 L338.10 740.05 L338.35 739.93 L338.60 739.82 L338.85 739.70 L339.10 739.59 L339.35 739.48 L339.60 739.37 L339.85 739.26 L340.10 739.16 L340.35 739.05 L340.60 738.95 L340.85 738.85 L341.10 738.76 L341.35 738.66 L341.60 738.57 L341.85 738.48 L342.10 738.39 L342.35 738.30 L342.60 738.21 L342.85 738.12 L343.10 738.04 L343.35 737.96 L343.60 737.87 L343.85 737.79 L344.10 737.71 L344.35 737.64 L344.60 737.56 L344.85 737.48 L345.10 737.41 L345.35 737.33 L345.60 737.26 L345.85 737.18 L346.10 737.11 L346.35 737.04 L346.60 736.97 L346.85 736.90 L347.10 736.83 L347.35 736.77 L347.60 736.70 L347.85 736.64 L348.10 736.57 L348.35 736.51 L348.60 736.45 L348.85 736.40 L349.10 736.34 L349.35 736.29 L349.60 736.23 L349.85 736.18 L350.10 736.13 L350.35 736.09 L350.60 736.04 L350.85 736.00 L351.10 735.96 L351.35 735.92 L351.60 735.88 L351.85 735.85 L352.10 735.81 L352.35 735.78 L352.60 735.75 L352.85 735.72 L353.10 735.70 L353.35 735.67 L353.60 735.65 L353.85 735.63 L354.10 735.61 L354.35 735.59 L354.60 735.57 L354.85 735.55 L355.10 735.54 L355.35 735.52 L355.60 735.51 L355.85 735.50 L356.10 735.49 L356.35 735.48 L356.60 735.47 L356.85 735.46 L357.10 735.45 L357.35 735.44 L357.60 735.43 L357.85 735.43 L358.10 735.42 L358.35 735.42 L358.60 735.42 L358.85 735.42 L359.10 735.42 L359.35 735.42 L359.60 735.42 L359.85 735.42 L360.10 735.43 L360.35 735.43 L360.60 735.44 L360.85 735.45 L361.10 735.46 L361.35 735.47 L361.60 735.48 L361.85 735.50 L362.10 735.51 L362.35 735.53 L362.60 735.55 L362.85 735.57 L363.10 735.59 L363.35 735.62 L363.60 735.65 L363.85 735.67 L364.10 735.71 L364.35 735.74 L364.60 735.78 L364.85 735.81 L365.10 735.86 L365.35 735.90 L365.60 735.95 L365.85 735.99 L366.10 736.05 L366.35 736.10 L366.60 736.16 L366.85 736.22 L367.10 736.29 L367.35 736.36 L367.60 736.43 L367.85 736.50 L368.10 736.58 L368.35 736.66 L368.60 736.75 L368.85 736.83 L369.10 736.92 L369.35 737.01 L369.60 737.11 L369.85 737.21 L370.10 737.30 L370.35 737.41 L370.60 737.51 L370.85 737.61 L371.10 737.72 L371.35 737.83 L371.60 737.93 L371.85 738.04 L372.10 738.16 L372.35 738.27 L372.60 738.38 L372.85 738.50 L373.10 738.62 L373.35 738.74 L373.60 738.86 L373.85 738.98 L374.10 739.10 L374.35 739.23 L374.60 739.36 L374.85 739.48 L375.10 739.61 L375.35 739.74 L375.60 739.88 L375.85 740.01 L376.10 740.14 L376.35 740.28 L376.60 740.42 L376.85 740.56 L377.10 740.70 L377.35 740.84 L377.60 740.98 L377.85 741.13 L378.10 741.28 L378.35 741.42 L378.60 741.57 L378.85 741.72 L379.10 741.87 L379.35 742.03 L379.60 742.18 L379.85 742.34 L380.10 742.49 L380.35 742.65 L380.60 742.81 L380.85 742.97 L381.10 743.13 L381.35 743.30 L381.60 743.46 L381.85 743.63 L382.10 743.80 L382.35 743.97 L382.60 744.14 L382.85 744.31 L383.10 744.48 L383.35 744.65 L383.60 744.83 L383.85 745.01 L384.10 745.19 L384.35 745.36 L384.60 745.55 L384.85 745.73 L385.10 745.91 L385.35 746.10 L385.60 746.28 L385.85 746.47 L386.10 746.66 L386.35 746.85 L386.60 747.05 L386.85 747.24 L387.10 747.43 L387.35 747.63 L387.60 747.83 L387.85 748.03 L388.10 748.23 L388.35 748.44 L388.60 748.64 L388.85 748.85 L389.10 749.05 L389.35 749.26 L389.60 749.47 L389.85 749.69 L390.10 749.90 L390.35 750.12 L390.60 750.34 L390.85 750.55 L391.10 750.78 L391.35 751.00 L391.60 751.22 L391.85 751.45 L392.10 751.68 L392.35 751.91 L392.60 752.14 L392.85 752.37 L393.10 752.60 L393.35 752.84 L393.60 753.08 L393.85 753.32 L394.10 753.56 L394.35 753.80 L394.60 754.05 L394.85 754.29 L395.10 754.54 L395.35 754.79 L395.60 755.05 L395.85 755.30 L396.10 755.55 L396.35 755.81 L396.60 756.07 L396.85 756.33 L397.10 756.59 L397.35 756.85 L397.60 757.12 L397.85 757.39 L398.10 757.65 L398.35 757.92 L398.60 758.20 L398.85 758.47 L399.10 758.74 L399.35 759.02 L399.60 759.30 L399.85 759.58 L400.10 759.86 L400.35 760.14 L400.60 760.42 L400.85 760.71 L401.10 760.99 L401.35 761.28 L401.60 761.57 L401.85 761.86 L402.10 762.16 L402.35 762.45 L402.60 762.75 L402.85 763.04 L403.10 763.34 L403.35 763.64 L403.60 763.94 L403.85 764.25 L404.10 764.55 L404.35 764.86 L404.60 765.16 L404.85 765.47 L405.10 765.78 L405.35 766.09 L405.60 766.41 L405.85 766.72 L406.10 767.04 L406.35 767.36 L406.60 767.69 L406.85 768.01 L407.10 768.34 L407.35 768.68 L407.60 769.01 L407.85 769.35 L408.10 769.69 L408.35 770.04 L408.60 770.39 L408.85 770.74 L409.10 771.10 L409.35 771.46 L409.60 771.82 L409.85 772.19 L410.10 772.57 L410.35 772.95 L410.60 773.33 L410.85 773.72 L411.10 774.11 L411.35 774.51 L411.60 774.92 L411.85 775.33 L412.10 775.74 L412.35 776.16 L412.60 776.59 L412.85 777.02 L413.10 777.46 L413.35 777.91 L413.60 778.36 L413.85 778.82 L414.10 779.29 L414.35 779.76 L414.60 780.24 L414.85 780.72 L415.10 781.22 L415.35 781.72 L415.60 782.23 L415.85 782.74 L416.10 783.26 L416.35 783.79 L416.60 784.32 L416.85 784.86 L417.10 785.40 L417.35 785.95 L417.60 786.50 L417.85 787.05 L418.10 787.60 L418.35 788.16 L418.60 788.72 L418.85 789.28 L419.10 789.84 L419.35 790.39 L419.60 790.95 L419.85 791.51 L420.10 792.07 L420.35 792.63 L420.60 793.18 L420.85 793.73 L421.10 794.28 L421.35 794.83 L421.60 795.38 L421.85 795.93 L422.10 796.47 L422.35 797.02 L422.60 797.57 L422.85 798.12 L423.10 798.67 L423.35 799.22 L423.60 799.78 L423.85 800.34 L424.10 800.90 L424.35 801.46 L424.60 802.03 L424.85 802.60 L425.10 803.17 L425.35 803.74 L425.60 804.32 L425.85 804.90 L426.10 805.49 L426.35 806.07 L426.60 806.66 L426.85 807.25 L427.10 807.84 L427.35 808.43 L427.60 809.03 L427.85 809.62 L428.10 810.22 L428.35 810.82 L428.60 811.42 L428.85 812.02 L429.10 812.62 L429.35 813.22 L429.60 813.83 L429.85 814.43 L430.10 815.03 L430.35 815.64 L430.60 816.24 L430.85 816.85 L431.10 817.45 L431.35 818.05 L431.60 818.66 L431.85 819.26 L432.10 819.86 L432.35 820.46 L432.60 821.06 L432.85 821.66 L433.10 822.26 L433.35 822.86 L433.60 823.45 L433.85 824.05 L434.10 824.64 L434.35 825.23 L434.60 825.83 L434.85 826.42 L435.10 827.00 L435.35 827.59 L435.60 828.18 L435.85 828.76 L436.10 829.35 L436.35 829.93 L436.60 830.51 L436.85 831.09 L437.10 831.67 L437.35 832.25 L437.60 832.82 L437.85 833.40 L438.10 833.98 L438.35 834.56 L438.60 835.14 L438.85 835.73 L439.10 836.31 L439.35 836.90 L439.60 837.49 L439.85 838.09 L440.10 838.69 L440.35 839.29 L440.60 839.90 L440.85 840.52 L441.10 841.14 L441.35 841.76 L441.60 842.38 L441.85 843.00 L442.10 843.62 L442.35 844.24 L442.60 844.84 L442.85 845.44 L443.10 846.03 L443.35 846.61 L443.60 847.17 L443.85 847.71 L444.10 848.24 L444.35 848.74 L444.60 849.23 L444.85 849.69 L445.10 850.12 L445.35 850.53 L445.60 850.90 L445.85 851.25 L446.10 851.56 L446.35 851.84 L446.60 852.08 L446.85 852.28 L447.10 852.44 L447.35 852.55 L447.60 852.63 L447.85 852.65 L448.10 852.63 L448.35 852.57 L448.60 852.46 L448.85 852.31 L449.10 852.12 L449.35 851.89 L449.60 851.63 L449.85 851.33 L450.10 850.99 L450.35 850.62 L450.60 850.23 L450.85 849.80 L451.10 849.35 L451.35 848.87 L451.60 848.37 L451.85 847.85 L452.10 847.31 L452.35 846.76 L452.60 846.20 L452.85 845.62 L453.10 845.04 L453.35 844.46 L453.60 843.87 L453.85 843.28 L454.10 842.68 L454.35 842.07 L454.60 841.47 L454.85 840.86 L455.10 840.24 L455.35 839.62 L455.60 839.00 L455.85 838.38 L456.10 837.75 L456.35 837.11 L456.60 836.48 L456.85 835.84 L457.10 835.20 L457.35 834.56 L457.60 833.91 L457.85 833.27 L458.10 832.62 L458.35 831.96 L458.60 831.31 L458.85 830.66 L459.10 830.00 L459.35 829.34 L459.60 828.68 L459.85 828.03 L460.10 827.37 L460.35 826.71 L460.60 826.05 L460.85 825.39 L461.10 824.73 L461.35 824.07 L461.60 823.42 L461.85 822.76 L462.10 822.10 L462.35 821.45 L462.60 820.79 L462.85 820.14 L463.10 819.49 L463.35 818.83 L463.60 818.18 L463.85 817.53 L464.10 816.88 L464.35 816.23 L464.60 815.58 L464.85 814.93 L465.10 814.29 L465.35 813.64 L465.60 812.99 L465.85 812.35 L466.10 811.70 L466.35 811.05 L466.60 810.41 L466.85 809.76 L467.10 809.11 L467.35 808.46 L467.60 807.81 L467.85 807.16 L468.10 806.51 L468.35 805.85 L468.60 805.19 L468.85 804.53 L469.10 803.86 L469.35 803.19 L469.60 802.52 L469.85 801.84 L470.10 801.16 L470.35 800.48 L470.60 799.79 L470.85 799.10 L471.10 798.41 L471.35 797.72 L471.60 797.03 L471.85 796.33 L472.10 795.64 L472.35 794.95 L472.60 794.26 L472.85 793.57 L473.10 792.88 L473.35 792.19 L473.60 791.51 L473.85 790.84 L474.10 790.16 L474.35 789.49 L474.60 788.83 L474.85 788.17 L475.10 787.52 L475.35 786.88 L475.60 786.24 L475.85 785.61 L476.10 784.99 L476.35 784.37 L476.60 783.77 L476.85 783.17 L477.10 782.57 L477.35 781.99 L477.60 781.41 L477.85 780.85 L478.10 780.28 L478.35 779.73 L478.60 779.19 L478.85 778.65 L479.10 778.12 L479.35 777.60 L479.60 777.08 L479.85 776.58 L480.10 776.08 L480.35 775.59 L480.60 775.11 L480.85 774.63 L481.10 774.17 L481.35 773.71 L481.60 773.26 L481.85 772.81 L482.10 772.38 L482.35 771.95 L482.60 771.52 L482.85 771.11 L483.10 770.70 L483.35 770.29 L483.60 769.89 L483.85 769.50 L484.10 769.11 L484.35 768.73 L484.60 768.35 L484.85 767.98 L485.10 767.61 L485.35 767.24 L485.60 766.88 L485.85 766.52 L486.10 766.17 L486.35 765.82 L486.60 765.47 L486.85 765.12 L487.10 764.77 L487.35 764.43 L487.60 764.09 L487.85 763.76 L488.10 763.42 L488.35 763.09 L488.60 762.75 L488.85 762.43 L489.10 762.10 L489.35 761.77 L489.60 761.45 L489.85 761.13 L490.10 760.80 L490.35 760.49 L490.60 760.17 L490.85 759.85 L491.10 759.54 L491.35 759.22 L491.60 758.91 L491.85 758.60 L492.10 758.29 L492.35 757.98 L492.60 757.67 L492.85 757.36 L493.10 757.05 L493.35 756.75 L493.60 756.44 L493.85 756.14 L494.10 755.84 L494.35 755.54 L494.60 755.23 L494.85 754.93 L495.10 754.64 L495.35 754.34 L495.60 754.04 L495.85 753.74 L496.10 753.45 L496.35 753.16 L496.60 752.86 L496.85 752.57 L497.10 752.28 L497.35 751.99 L497.60 751.70 L497.85 751.41 L498.10 751.12 L498.35 750.84 L498.60 750.55 L498.85 750.27 L499.10 749.98 L499.35 749.70 L499.60 749.42 L499.85 749.14 L500.10 748.86 L500.35 748.58 L500.60 748.30 L500.85 748.03 L501.10 747.75 L501.35 747.48 L501.60 747.20 L501.85 746.93 L502.10 746.66 L502.35 746.39 L502.60 746.12 L502.85 745.85 L503.10 745.59 L503.35 745.32 L503.60 745.06 L503.85 744.79 L504.10 744.53 L504.35 744.27 L504.60 744.01 L504.85 743.75 L505.10 743.50 L505.35 743.24 L505.60 742.99 L505.85 742.74 L506.10 742.49 L506.35 742.25 L506.60 742.00 L506.85 741.76 L507.10 741.52 L507.35 741.28 L507.60 741.05 L507.85 740.82 L508.10 740.59 L508.35 740.36 L508.60 740.14 L508.85 739.91 L509.10 739.70 L509.35 739.48 L509.60 739.27 L509.85 739.06 L510.10 738.85 L510.35 738.64 L510.60 738.44 L510.85 738.24 L511.10 738.04 L511.35 737.84 L511.60 737.64 L511.85 737.44 L512.10 737.25 L512.35 737.06 L512.60 736.87 L512.85 736.68 L513.10 736.49 L513.35 736.30 L513.60 736.11 L513.85 735.93 L514.10 735.74 L514.35 735.56 L514.60 735.37 L514.85 735.19 L515.10 735.00 L515.35 734.82 L515.60 734.64 L515.85 734.46 L516.10 734.28 L516.35 734.10 L516.60 733.92 L516.85 733.74 L517.10 733.57 L517.35 733.39 L517.60 733.22 L517.85 733.04 L518.10 732.87 L518.35 732.70 L518.60 732.54 L518.85 732.37 L519.10 732.20 L519.35 732.04 L519.60 731.88 L519.85 731.72 L520.10 731.56 L520.35 731.40 L520.60 731.25 L520.85 731.10 L521.10 730.95 L521.35 730.80 L521.60 730.65 L521.85 730.50 L522.10 730.36 L522.35 730.22 L522.60 730.08 L522.85 729.94 L523.10 729.80 L523.35 729.67 L523.60 729.53 L523.85 729.40 L524.10 729.27 L524.35 729.14 L524.60 729.01 L524.85 728.89 L525.10 728.76 L525.35 728.64 L525.60 728.52 L525.85 728.40 L526.10 728.28 L526.35 728.16 L526.60 728.05 L526.85 727.93 L527.10 727.82 L527.35 727.71 L527.60 727.60 L527.85 727.48 L528.10 727.37 L528.35 727.26 L528.60 727.15 L528.85 727.05 L529.10 726.94 L529.35 726.83 L529.60 726.72 L529.85 726.61 L530.10 726.51 L530.35 726.40 L530.60 726.29 L530.85 726.18 L531.10 726.07 L531.35 725.97 L531.60 725.86 L531.85 725.75 L532.10 725.64 L532.35 725.54 L532.60 725.43 L532.85 725.33 L533.10 725.23 L533.35 725.13 L533.60 725.03 L533.85 724.93 L534.10 724.84 L534.35 724.74 L534.60 724.65 L534.85 724.57 L535.10 724.48 L535.35 724.40 L535.60 724.33 L535.85 724.25 L536.10 724.18 L536.35 724.11 L536.60 724.05 L536.85 723.99 L537.10 723.93 L537.35 723.87 L537.60 723.82 L537.85 723.77 L538.10 723.72 L538.35 723.67 L538.60 723.63 L538.85 723.59 L539.10 723.55 L539.35 723.51 L539.60 723.48 L539.85 723.44 L540.10 723.41 L540.35 723.39 L540.60 723.36 L540.85 723.33 L541.10 723.31 L541.35 723.29 L541.60 723.27 L541.85 723.25 L542.10 723.24 L542.35 723.22 L542.60 723.21 L542.85 723.20 L543.10 723.19 L543.35 723.18 L543.60 723.18 L543.85 723.17 L544.10 723.17 L544.35 723.17 L544.60 723.17 L544.85 723.17 L545.10 723.18 L545.35 723.18 L545.60 723.19 L545.85 723.20 L546.10 723.21 L546.35 723.22 L546.60 723.23 L546.85 723.25 L547.10 723.26 L547.35 723.28 L547.60 723.30 L547.85 723.32 L548.10 723.35 L548.35 723.37 L548.60 723.40 L548.85 723.43 L549.10 723.46 L549.35 723.49 L549.60 723.53 L549.85 723.57 L550.10 723.61 L550.35 723.65 L550.60 723.70 L550.85 723.75 L551.10 723.80 L551.35 723.85 L551.60 723.91 L551.85 723.97 L552.10 724.03 L552.35 724.09 L552.60 724.16 L552.85 724.22 L553.10 724.29 L553.35 724.36 L553.60 724.44 L553.85 724.51 L554.10 724.59 L554.35 724.67 L554.60 724.75 L554.85 724.83 L555.10 724.92 L555.35 725.00 L555.60 725.09 L555.85 725.18 L556.10 725.27 L556.35 725.36 L556.60 725.45 L556.85 725.55 L557.10 725.64 L557.35 725.74 L557.60 725.84 L557.85 725.94 L558.10 726.04 L558.35 726.14 L558.60 726.24 L558.85 726.35 L559.10 726.45 L559.35 726.56 L559.60 726.67 L559.85 726.77 L560.10 726.88 L560.35 726.99 L560.60 727.11 L560.85 727.22 L561.10 727.33 L561.35 727.45 L561.60 727.56 L561.85 727.68 L562.10 727.79 L562.35 727.91 L562.60 728.03 L562.85 728.15 L563.10 728.27 L563.35 728.39 L563.60 728.52 L563.85 728.64 L564.10 728.77 L564.35 728.90 L564.60 729.03 L564.85 729.16 L565.10 729.29 L565.35 729.42 L565.60 729.56 L565.85 729.69 L566.10 729.83 L566.35 729.97 L566.60 730.12 L566.85 730.26 L567.10 730.41 L567.35 730.55 L567.60 730.70 L567.85 730.86 L568.10 731.01 L568.35 731.17 L568.60 731.33 L568.85 731.49 L569.10 731.66 L569.35 731.83 L569.60 732.00 L569.85 732.18 L570.10 732.35 L570.35 732.54 L570.60 732.72 L570.85 732.91 L571.10 733.10 L571.35 733.30 L571.60 733.50 L571.85 733.70 L572.10 733.91 L572.35 734.12 L572.60 734.34 L572.85 734.55 L573.10 734.78 L573.35 735.00 L573.60 735.23 L573.85 735.46 L574.10 735.69 L574.35 735.93 L574.60 736.17 L574.85 736.41 L575.10 736.65 L575.35 736.90 L575.60 737.15 L575.85 737.40 L576.10 737.65 L576.35 737.91 L576.60 738.17 L576.85 738.42 L577.10 738.69 L577.35 738.95 L577.60 739.21 L577.85 739.48 L578.10 739.75 L578.35 740.02 L578.60 740.30 L578.85 740.57 L579.10 740.85 L579.35 741.13 L579.60 741.42 L579.85 741.70 L580.10 741.99 L580.35 742.29 L580.60 742.58 L580.85 742.88 L581.10 743.19 L581.35 743.49 L581.60 743.80 L581.85 744.11 L582.10 744.43 L582.35 744.75 L582.60 745.07 L582.85 745.40 L583.10 745.73 L583.35 746.06 L583.60 746.39 L583.85 746.73 L584.10 747.07 L584.35 747.42 L584.60 747.77 L584.85 748.12 L585.10 748.47 L585.35 748.82 L585.60 749.18 L585.85 749.55 L586.10 749.91 L586.35 750.28 L586.60 750.65 L586.85 751.02 L587.10 751.39 L587.35 751.77 L587.60 752.15 L587.85 752.53 L588.10 752.92 L588.35 753.30 L588.60 753.69 L588.85 754.08 L589.10 754.48 L589.35 754.87 L589.60 755.27 L589.85 755.67 L590.10 756.08 L590.35 756.48 L590.60 756.89 L590.85 757.30 L591.10 757.71 L591.35 758.13 L591.60 758.54 L591.85 758.96 L592.10 759.39 L592.35 759.81 L592.60 760.24 L592.85 760.66 L593.10 761.10 L593.35 761.53 L593.60 761.96 L593.85 762.40 L594.10 762.84 L594.35 763.29 L594.60 763.74 L594.85 764.19 L595.10 764.64 L595.35 765.09 L595.60 765.55 L595.85 766.01 L596.10 766.48 L596.35 766.95 L596.60 767.42 L596.85 767.89 L597.10 768.37 L597.35 768.85 L597.60 769.33 L597.85 769.81 L598.10 770.30 L598.35 770.78 L598.60 771.27 L598.85 771.76 L599.10 772.25" fill="none" stroke="#000" stroke-width="1.5" stroke-linejoin="round" shape-rendering="geometricPrecision"/>
<path d="M111.90 632.00 L112.10 632.35 L112.30 632.70 L112.50 633.04 L112.70 633.37 L112.90 633.70 L113.10 634.03 L113.30 634.34 L113.50 634.66 L113.70 634.96 L113.90 635.25 L114.10 635.54 L114.30 635.82 L114.50 636.09 L114.70 636.35 L114.90 636.60 L115.10 636.84 L115.30 637.08 L115.50 637.31 L115.70 637.53 L115.90 637.76 L116.10 637.97 L116.30 638.18 L116.50 638.39 L116.70 638.59 L116.90 638.79 L117.10 638.99 L117.30 639.18 L117.50 639.37 L117.70 639.55 L117.90 639.74 L118.10 639.92 L118.30 640.09 L118.50 640.27 L118.70 640.44 L118.90 640.61 L119.10 640.79 L119.30 640.95 L119.50 641.12 L119.70 641.29 L119.90 641.45 L120.10 641.61 L120.30 641.77 L120.50 641.93 L120.70 642.09 L120.90 642.24 L121.10 642.40 L121.30 642.55 L121.50 642.70 L121.70 642.85 L121.90 642.99 L122.10 643.14 L122.30 643.28 L122.50 643.42 L122.70 643.56 L122.90 643.70 L123.10 643.84 L123.30 643.97 L123.50 644.10 L123.70 644.23 L123.90 644.36 L124.10 644.49 L124.30 644.62 L124.50 644.74 L124.70 644.86 L124.90 644.98 L125.10 645.10 L125.30 645.22 L125.50 645.34 L125.70 645.45 L125.90 645.57 L126.10 645.68 L126.30 645.79 L126.50 645.90 L126.70 646.01 L126.90 646.12 L127.10 646.23 L127.30 646.34 L127.50 646.44 L127.70 646.55 L127.90 646.65 L128.10 646.75 L128.30 646.86 L128.50 646.96 L128.70 647.06 L128.90 647.15 L129.10 647.25 L129.30 647.35 L129.50 647.44 L129.70 647.54 L129.90 647.63 L130.10 647.72 L130.30 647.82 L130.50 647.91 L130.70 648.00 L130.90 648.08 L131.10 648.17 L131.30 648.26 L131.50 648.34 L131.70 648.43 L131.90 648.51 L132.10 648.59 L132.30 648.68 L132.50 648.76 L132.70 648.84 L132.90 648.92 L133.10 649.00 L133.30 649.08 L133.50 649.16 L133.70 649.24 L133.90 649.31 L134.10 649.39 L134.30 649.47 L134.50 649.54 L134.70 649.62 L134.90 649.69 L135.10 649.77 L135.30 649.84 L135.50 649.91 L135.70 649.98 L135.90 650.05 L136.10 650.13 L136.30 650.20 L136.50 650.26 L136.70 650.33 L136.90 650.40 L137.10 650.47 L137.30 650.54 L137.50 650.60 L137.70 650.67 L137.90 650.73 L138.10 650.80 L138.30 650.86 L138.50 650.93 L138.70 650.99 L138.90 651.05 L139.10 651.12 L139.30 651.18 L139.50 651.24 L139.70 651.30 L139.90 651.36 L140.10 651.42 L140.30 651.48 L140.50 651.54 L140.70 651.59 L140.90 651.65 L141.10 651.71 L141.30 651.76 L141.50 651.82 L141.70 651.87 L141.90 651.93 L142.10 651.98 L142.30 652.03 L142.50 652.09 L142.70 652.14 L142.90 652.19 L143.10 652.24 L143.30 652.30 L143.50 652.35 L143.70 652.40 L143.90 652.45 L144.10 652.50 L144.30 652.55 L144.50 652.60 L144.70 652.65 L144.90 652.70 L145.10 652.75 L145.30 652.80 L145.50 652.84 L145.70 652.89 L145.90 652.94 L146.10 652.99 L146.30 653.04 L146.50 653.09 L146.70 653.14 L146.90 653.18 L147.10 653.23 L147.30 653.28 L147.50 653.33 L147.70 653.38 L147.90 653.43 L148.10 653.48 L148.30 653.53 L148.50 653.58 L148.70 653.62 L148.90 653.67 L149.10 653.72 L149.30 653.77 L149.50 653.83 L149.70 653.88 L149.90 653.93 L150.10 653.98 L150.30 654.03 L150.50 654.08 L150.70 654.13 L150.90 654.18 L151.10 654.23 L151.30 654.28 L151.50 654.33 L151.70 654.37 L151.90 654.42 L152.10 654.47 L152.30 654.52 L152.50 654.57 L152.70 654.62 L152.90 654.67 L153.10 654.72 L153.30 654.77 L153.50 654.82 L153.70 654.87 L153.90 654.92 L154.10 654.97 L154.30 655.02 L154.50 655.06 L154.70 655.11 L154.90 655.16 L155.10 655.21 L155.30 655.26 L155.50 655.31 L155.70 655.36 L155.90 655.41 L156.10 655.46 L156.30 655.50 L156.50 655.55 L156.70 655.60 L156.90 655.65 L157.10 655.70 L157.30 655.75 L157.50 655.80 L157.70 655.85 L157.90 655.89 L158.10 655.94 L158.30 655.99 L158.50 656.04 L158.70 656.09 L158.90 656.14 L159.10 656.19 L159.30 656.24 L159.50 656.29 L159.70 656.33 L159.90 656.38 L160.10 656.43 L160.30 656.48 L160.50 656.53 L160.70 656.58 L160.90 656.63 L161.10 656.68 L161.30 656.73 L161.50 656.78 L161.70 656.83 L161.90 656.88 L162.10 656.93 L162.30 656.98 L162.50 657.03 L162.70 657.08 L162.90 657.13 L163.10 657.18 L163.30 657.23 L163.50 657.28 L163.70 657.33 L163.90 657.38 L164.10 657.43 L164.30 657.48 L164.50 657.53 L164.70 657.58 L164.90 657.63 L165.10 657.68 L165.30 657.73 L165.50 657.78 L165.70 657.84 L165.90 657.89 L166.10 657.94 L166.30 657.99 L166.50 658.04 L166.70 658.09 L166.90 658.15 L167.10 658.20 L167.30 658.25 L167.50 658.30 L167.70 658.35 L167.90 658.41 L168.10 658.46 L168.30 658.51 L168.50 658.56 L168.70 658.61 L168.90 658.67 L169.10 658.72 L169.30 658.77 L169.50 658.82 L169.70 658.87 L169.90 658.93 L170.10 658.98 L170.30 659.03 L170.50 659.08 L170.70 659.13 L170.90 659.18 L171.10 659.24 L171.30 659.29 L171.50 659.34 L171.70 659.39 L171.90 659.44 L172.10 659.49 L172.30 659.54 L172.50 659.59 L172.70 659.65 L172.90 659.70 L173.10 659.75 L173.30 659.80 L173.50 659.85 L173.70 659.90 L173.90 659.95 L174.10 660.00 L174.30 660.05 L174.50 660.10 L174.70 660.15 L174.90 660.20 L175.10 660.24 L175.30 660.29 L175.50 660.34 L175.70 660.39 L175.90 660.44 L176.10 660.49 L176.30 660.53 L176.50 660.58 L176.70 660.63 L176.90 660.68 L177.10 660.72 L177.30 660.77 L177.50 660.82 L177.70 660.86 L177.90 660.91 L178.10 660.96 L178.30 661.00 L178.50 661.05 L178.70 661.10 L178.90 661.14 L179.10 661.19 L179.30 661.24 L179.50 661.28 L179.70 661.33 L179.90 661.38 L180.10 661.42 L180.30 661.47 L180.50 661.52 L180.70 661.56 L180.90 661.61 L181.10 661.66 L181.30 661.70 L181.50 661.75 L181.70 661.79 L181.90 661.84 L182.10 661.89 L182.30 661.93 L182.50 661.98 L182.70 662.02 L182.90 662.07 L183.10 662.11 L183.30 662.16 L183.50 662.20 L183.70 662.25 L183.90 662.29 L184.10 662.34 L184.30 662.38 L184.50 662.42 L184.70 662.47 L184.90 662.51 L185.10 662.56 L185.30 662.60 L185.50 662.64 L185.70 662.68 L185.90 662.73 L186.10 662.77 L186.30 662.81 L186.50 662.85 L186.70 662.90 L186.90 662.94 L187.10 662.98 L187.30 663.02 L187.50 663.06 L187.70 663.10 L187.90 663.14 L188.10 663.18 L188.30 663.22 L188.50 663.26 L188.70 663.30 L188.90 663.34 L189.10 663.38 L189.30 663.42 L189.50 663.46 L189.70 663.50 L189.90 663.53 L190.10 663.57 L190.30 663.61 L190.50 663.65 L190.70 663.68 L190.90 663.72 L191.10 663.75 L191.30 663.79 L191.50 663.83 L191.70 663.86 L191.90 663.90 L192.10 663.94 L192.30 663.97 L192.50 664.01 L192.70 664.04 L192.90 664.08 L193.10 664.12 L193.30 664.15 L193.50 664.19 L193.70 664.23 L193.90 664.26 L194.10 664.30 L194.30 664.33 L194.50 664.37 L194.70 664.40 L194.90 664.44 L195.10 664.47 L195.30 664.51 L195.50 664.54 L195.70 664.58 L195.90 664.61 L196.10 664.65 L196.30 664.68 L196.50 664.72 L196.70 664.75 L196.90 664.79 L197.10 664.82 L197.30 664.85 L197.50 664.89 L197.70 664.92 L197.90 664.95 L198.10 664.98 L198.30 665.02 L198.50 665.05 L198.70 665.08 L198.90 665.11 L199.10 665.14 L199.30 665.17 L199.50 665.20 L199.70 665.23 L199.90 665.26 L200.10 665.29 L200.30 665.32 L200.50 665.35 L200.70 665.38 L200.90 665.41 L201.10 665.44 L201.30 665.47 L201.50 665.49 L201.70 665.52 L201.90 665.55 L202.10 665.57 L202.30 665.60 L202.50 665.62 L202.70 665.65 L202.90 665.67 L203.10 665.70 L203.30 665.72 L203.50 665.74 L203.70 665.77 L203.90 665.79 L204.10 665.81 L204.30 665.83 L204.50 665.85 L204.70 665.87 L204.90 665.89 L205.10 665.91 L205.30 665.93 L205.50 665.95 L205.70 665.97 L205.90 665.99 L206.10 666.01 L206.30 666.03 L206.50 666.05 L206.70 666.07 L206.90 666.09 L207.10 666.11 L207.30 666.13 L207.50 666.15 L207.70 666.17 L207.90 666.19 L208.10 666.20 L208.30 666.22 L208.50 666.24 L208.70 666.26 L208.90 666.28 L209.10 666.29 L209.30 666.31 L209.50 666.33 L209.70 666.34 L209.90 666.36 L210.10 666.37 L210.30 666.39 L210.50 666.40 L210.70 666.41 L210.90 666.43 L211.10 666.44 L211.30 666.45 L211.50 666.46 L211.70 666.47 L211.90 666.47 L212.10 666.48 L212.30 666.49 L212.50 666.49 L212.70 666.49 L212.90 666.50 L213.10 666.50 L213.30 666.50 L213.50 666.50 L213.70 666.50 L213.90 666.49 L214.10 666.49 L214.30 666.48 L214.50 666.47 L214.70 666.46 L214.90 666.44 L215.10 666.43 L215.30 666.41 L215.50 666.39 L215.70 666.38 L215.90 666.36 L216.10 666.33 L216.30 666.31 L216.50 666.29 L216.70 666.26 L216.90 666.24 L217.10 666.21 L217.30 666.19 L217.50 666.16 L217.70 666.13 L217.90 666.10 L218.10 666.07 L218.30 666.04 L218.50 666.01 L218.70 665.98 L218.90 665.94 L219.10 665.91 L219.30 665.88 L219.50 665.85 L219.70 665.81 L219.90 665.78 L220.10 665.75 L220.30 665.71 L220.50 665.68 L220.70 665.65 L220.90 665.61 L221.10 665.58 L221.30 665.55 L221.50 665.52 L221.70 665.48 L221.90 665.45 L222.10 665.42 L222.30 665.38 L222.50 665.34 L222.70 665.31 L222.90 665.27 L223.10 665.23 L223.30 665.18 L223.50 665.14 L223.70 665.10 L223.90 665.05 L224.10 665.01 L224.30 664.96 L224.50 664.92 L224.70 664.87 L224.90 664.82 L225.10 664.77 L225.30 664.72 L225.50 664.67 L225.70 664.62 L225.90 664.57 L226.10 664.52 L226.30 664.46 L226.50 664.41 L226.70 664.36 L226.90 664.30 L227.10 664.25 L227.30 664.19 L227.50 664.14 L227.70 664.09 L227.90 664.03 L228.10 663.98 L228.30 663.92 L228.50 663.87 L228.70 663.81 L228.90 663.76 L229.10 663.70 L229.30 663.65 L229.50 663.59 L229.70 663.54 L229.90 663.48 L230.10 663.43 L230.30 663.38 L230.50 663.32 L230.70 663.27 L230.90 663.22 L231.10 663.17 L231.30 663.12 L231.50 663.07 L231.70 663.02 L231.90 662.97 L232.10 662.92 L232.30 662.87 L232.50 662.82 L232.70 662.78 L232.90 662.73 L233.10 662.69 L233.30 662.64 L233.50 662.60 L233.70 662.55 L233.90 662.51 L234.10 662.47 L234.30 662.42 L234.50 662.38 L234.70 662.34 L234.90 662.30 L235.10 662.25 L235.30 662.21 L235.50 662.17 L235.70 662.13 L235.90 662.09 L236.10 662.05 L236.30 662.00 L236.50 661.96 L236.70 661.92 L236.90 661.88 L237.10 661.84 L237.30 661.80 L237.50 661.76 L237.70 661.72 L237.90 661.67 L238.10 661.63 L238.30 661.59 L238.50 661.55 L238.70 661.51 L238.90 661.46 L239.10 661.42 L239.30 661.38 L239.50 661.33 L239.70 661.29 L239.90 661.25 L240.10 661.20 L240.30 661.16 L240.50 661.11 L240.70 661.06 L240.90 661.02 L241.10 660.97 L241.30 660.92 L241.50 660.87 L241.70 660.83 L241.90 660.78 L242.10 660.73 L242.30 660.67 L242.50 660.62 L242.70 660.58 L242.90 660.53 L243.10 660.48 L243.30 660.43 L243.50 660.38 L243.70 660.33 L243.90 660.29 L244.10 660.24 L244.30 660.19 L244.50 660.14 L244.70 660.10 L244.90 660.05 L245.10 660.00 L245.30 659.95 L245.50 659.90 L245.70 659.85 L245.90 659.80 L246.10 659.75 L246.30 659.69 L246.50 659.64 L246.70 659.58 L246.90 659.53 L247.10 659.47 L247.30 659.41 L247.50 659.35 L247.70 659.29 L247.90 659.22 L248.10 659.16 L248.30 659.09 L248.50 659.02 L248.70 658.95 L248.90 658.88 L249.10 658.80 L249.30 658.72 L249.50 658.64 L249.70 658.56 L249.90 658.47 L250.10 658.38 L250.30 658.29 L250.50 658.20 L250.70 658.10 L250.90 658.00 L251.10 657.89 L251.30 657.77 L251.50 657.64 L251.70 657.51 L251.90 657.37 L252.10 657.21 L252.30 657.05 L252.50 656.88 L252.70 656.70 L252.90 656.50 L253.10 656.29 L253.30 656.07 L253.50 655.84 L253.70 655.60 L253.90 655.34 L254.10 655.06 L254.30 654.74 L254.50 654.37 L254.70 653.95 L254.90 653.49 L255.10 652.98 L255.30 652.41 L255.50 651.79 L255.70 651.12 L255.90 650.39 L256.10 649.61 L256.30 648.76 L256.50 647.86 L256.70 646.90 L256.90 645.71 L257.10 644.16 L257.30 642.32 L257.50 640.23 L257.70 637.96 L257.90 635.56 L258.10 633.10 L258.30 630.52 L258.50 627.70 L258.70 624.59 L258.90 621.13 L259.10 617.29 L259.30 612.81 L259.50 606.93 L259.70 600.48 L259.90 594.50 L260.10 588.32 L260.30 582.03 L260.50 577.83 L260.70 577.51 L260.90 579.71 L261.10 583.34 L261.30 587.60 L261.50 594.03 L261.70 602.94 L261.90 611.70 L262.10 618.17 L262.30 623.64 L262.50 628.59 L262.70 633.08 L262.90 637.20 L263.10 641.23 L263.30 645.19 L263.50 648.79 L263.70 651.76 L263.90 653.80 L264.10 655.25 L264.30 656.57 L264.50 657.67 L264.70 658.49 L264.90 658.94 L265.10 658.91 L265.30 658.24 L265.50 657.09 L265.70 655.64 L265.90 654.09 L266.10 652.63 L266.30 651.43 L266.50 650.64 L266.70 649.97 L266.90 649.35 L267.10 648.79 L267.30 648.28 L267.50 647.82 L267.70 647.40 L267.90 647.01 L268.10 646.66 L268.30 646.34 L268.50 646.05 L268.70 645.77 L268.90 645.51 L269.10 645.26 L269.30 645.02 L269.50 644.77 L269.70 644.53 L269.90 644.27 L270.10 644.00 L270.30 643.71 L270.50 643.40 L270.70 643.07 L270.90 642.73 L271.10 642.39 L271.30 642.03 L271.50 641.67 L271.70 641.30 L271.90 640.93 L272.10 640.54 L272.30 640.15 L272.50 639.75 L272.70 639.35 L272.90 638.94 L273.10 638.53 L273.30 638.11 L273.50 637.68 L273.70 637.25 L273.90 636.82 L274.10 636.38 L274.30 635.92 L274.50 635.45 L274.70 634.95 L274.90 634.45 L275.10 633.93 L275.30 633.40 L275.50 632.87 L275.70 632.33 L275.90 631.78 L276.10 631.23 L276.30 630.68 L276.50 630.12 L276.70 629.57 L276.90 629.03 L277.10 628.49 L277.30 627.96 L277.50 627.44 L277.70 626.92 L277.90 626.43 L278.10 625.94 L278.30 625.48 L278.50 625.03 L278.70 624.60 L278.90 624.19 L279.10 623.78 L279.30 623.38 L279.50 622.99 L279.70 622.61 L279.90 622.24 L280.10 621.87 L280.30 621.50 L280.50 621.15 L280.70 620.79 L280.90 620.45 L281.10 620.11 L281.30 619.77 L281.50 619.44 L281.70 619.11 L281.90 618.79 L282.10 618.47 L282.30 618.16 L282.50 617.84 L282.70 617.54 L282.90 617.23 L283.10 616.93 L283.30 616.64 L283.50 616.34 L283.70 616.05 L283.90 615.77 L284.10 615.49 L284.30 615.21 L284.50 614.93 L284.70 614.66 L284.90 614.39 L285.10 614.12 L285.30 613.86 L285.50 613.59 L285.70 613.34 L285.90 613.08 L286.10 612.83 L286.30 612.57 L286.50 612.32 L286.70 612.08 L286.90 611.83 L287.10 611.59 L287.30 611.35 L287.50 611.11 L287.70 610.87 L287.90 610.64 L288.10 610.41 L288.30 610.18 L288.50 609.95 L288.70 609.72 L288.90 609.50 L289.10 609.28 L289.30 609.06 L289.50 608.84 L289.70 608.63 L289.90 608.42 L290.10 608.21 L290.30 608.01 L290.50 607.80 L290.70 607.60 L290.90 607.40 L291.10 607.20 L291.30 607.01 L291.50 606.82 L291.70 606.63 L291.90 606.44 L292.10 606.26 L292.30 606.07 L292.50 605.89 L292.70 605.71 L292.90 605.53 L293.10 605.36 L293.30 605.18 L293.50 605.01 L293.70 604.83 L293.90 604.66 L294.10 604.49 L294.30 604.32 L294.50 604.15 L294.70 603.98 L294.90 603.82 L295.10 603.65 L295.30 603.48 L295.50 603.32 L295.70 603.16 L295.90 602.99 L296.10 602.83 L296.30 602.67 L296.50 602.51 L296.70 602.36 L296.90 602.20 L297.10 602.04 L297.30 601.89 L297.50 601.73 L297.70 601.58 L297.90 601.43 L298.10 601.28 L298.30 601.12 L298.50 600.97 L298.70 600.82 L298.90 600.67 L299.10 600.53 L299.30 600.38 L299.50 600.23 L299.70 600.08 L299.90 599.93 L300.10 599.79 L300.30 599.64 L300.50 599.50 L300.70 599.35 L300.90 599.21 L301.10 599.06 L301.30 598.92 L301.50 598.78 L301.70 598.64 L301.90 598.50 L302.10 598.37 L302.30 598.23 L302.50 598.10 L302.70 597.96 L302.90 597.83 L303.10 597.70 L303.30 597.57 L303.50 597.44 L303.70 597.32 L303.90 597.19 L304.10 597.07 L304.30 596.94 L304.50 596.82 L304.70 596.70 L304.90 596.58 L305.10 596.46 L305.30 596.34 L305.50 596.22 L305.70 596.11 L305.90 595.99 L306.10 595.87 L306.30 595.76 L306.50 595.65 L306.70 595.53 L306.90 595.42 L307.10 595.31 L307.30 595.20 L307.50 595.09 L307.70 594.98 L307.90 594.88 L308.10 594.77 L308.30 594.66 L308.50 594.56 L308.70 594.46 L308.90 594.35 L309.10 594.25 L309.30 594.15 L309.50 594.05 L309.70 593.95 L309.90 593.85 L310.10 593.75 L310.30 593.65 L310.50 593.55 L310.70 593.45 L310.90 593.35 L311.10 593.25 L311.30 593.15 L311.50 593.05 L311.70 592.95 L311.90 592.85 L312.10 592.75 L312.30 592.66 L312.50 592.56 L312.70 592.46 L312.90 592.36 L313.10 592.27 L313.30 592.17 L313.50 592.07 L313.70 591.98 L313.90 591.88 L314.10 591.78 L314.30 591.69 L314.50 591.59 L314.70 591.49 L314.90 591.39 L315.10 591.30 L315.30 591.20 L315.50 591.10 L315.70 591.00 L315.90 590.90 L316.10 590.80 L316.30 590.70 L316.50 590.60 L316.70 590.50 L316.90 590.39 L317.10 590.29 L317.30 590.19 L317.50 590.09 L317.70 589.99 L317.90 589.88 L318.10 589.78 L318.30 589.68 L318.50 589.58 L318.70 589.48 L318.90 589.38 L319.10 589.29 L319.30 589.19 L319.50 589.09 L319.70 589.00 L319.90 588.91 L320.10 588.81 L320.30 588.72 L320.50 588.63 L320.70 588.54 L320.90 588.45 L321.10 588.36 L321.30 588.27 L321.50 588.18 L321.70 588.09 L321.90 588.00 L322.10 587.91 L322.30 587.82 L322.50 587.74 L322.70 587.65 L322.90 587.57 L323.10 587.49 L323.30 587.40 L323.50 587.32 L323.70 587.24 L323.90 587.16 L324.10 587.08 L324.30 587.00 L324.50 586.93 L324.70 586.85 L324.90 586.78 L325.10 586.71 L325.30 586.63 L325.50 586.56 L325.70 586.49 L325.90 586.42 L326.10 586.35 L326.30 586.28 L326.50 586.21 L326.70 586.14 L326.90 586.06 L327.10 585.99 L327.30 585.92 L327.50 585.85 L327.70 585.77 L327.90 585.70 L328.10 585.62 L328.30 585.55 L328.50 585.47 L328.70 585.39 L328.90 585.31 L329.10 585.23 L329.30 585.16 L329.50 585.08 L329.70 585.01 L329.90 584.93 L330.10 584.87 L330.30 584.80 L330.50 584.73 L330.70 584.66 L330.90 584.60 L331.10 584.53 L331.30 584.47 L331.50 584.40 L331.70 584.34 L331.90 584.27 L332.10 584.21 L332.30 584.15 L332.50 584.09 L332.70 584.03 L332.90 583.96 L333.10 583.90 L333.30 583.84 L333.50 583.78 L333.70 583.72 L333.90 583.67 L334.10 583.61 L334.30 583.55 L334.50 583.49 L334.70 583.43 L334.90 583.37 L335.10 583.32 L335.30 583.26 L335.50 583.20 L335.70 583.14 L335.90 583.09 L336.10 583.03 L336.30 582.97 L336.50 582.91 L336.70 582.86 L336.90 582.80 L337.10 582.74 L337.30 582.69 L337.50 582.63 L337.70 582.57 L337.90 582.51 L338.10 582.46 L338.30 582.40 L338.50 582.34 L338.70 582.28 L338.90 582.23 L339.10 582.17 L339.30 582.11 L339.50 582.05 L339.70 581.99 L339.90 581.93 L340.10 581.87 L340.30 581.81 L340.50 581.75 L340.70 581.69 L340.90 581.63 L341.10 581.57 L341.30 581.51 L341.50 581.45 L341.70 581.39 L341.90 581.33 L342.10 581.27 L342.30 581.21 L342.50 581.15 L342.70 581.09 L342.90 581.03 L343.10 580.97 L343.30 580.91 L343.50 580.85 L343.70 580.79 L343.90 580.73 L344.10 580.67 L344.30 580.61 L344.50 580.55 L344.70 580.49 L344.90 580.43 L345.10 580.37 L345.30 580.31 L345.50 580.25 L345.70 580.19 L345.90 580.13 L346.10 580.07 L346.30 580.01 L346.50 579.95 L346.70 579.89 L346.90 579.83 L347.10 579.77 L347.30 579.71 L347.50 579.65 L347.70 579.59 L347.90 579.53 L348.10 579.47 L348.30 579.41 L348.50 579.35 L348.70 579.29 L348.90 579.23 L349.10 579.17 L349.30 579.11 L349.50 579.05 L349.70 578.99 L349.90 578.93 L350.10 578.87 L350.30 578.81 L350.50 578.75 L350.70 578.69 L350.90 578.63 L351.10 578.57 L351.30 578.51 L351.50 578.45 L351.70 578.39 L351.90 578.33 L352.10 578.27 L352.30 578.21 L352.50 578.15 L352.70 578.09 L352.90 578.03 L353.10 577.97 L353.30 577.91 L353.50 577.85 L353.70 577.79 L353.90 577.73 L354.10 577.67 L354.30 577.61 L354.50 577.55 L354.70 577.49 L354.90 577.43 L355.10 577.37 L355.30 577.31 L355.50 577.25 L355.70 577.19 L355.90 577.13 L356.10 577.07 L356.30 577.01 L356.50 576.95 L356.70 576.89 L356.90 576.83 L357.10 576.77 L357.30 576.71 L357.50 576.65 L357.70 576.59 L357.90 576.53 L358.10 576.47 L358.30 576.41 L358.50 576.35 L358.70 576.29 L358.90 576.23 L359.10 576.17 L359.30 576.11 L359.50 576.05 L359.70 575.99 L359.90 575.93 L360.10 575.87 L360.30 575.81 L360.50 575.75 L360.70 575.69 L360.90 575.63 L361.10 575.57 L361.30 575.51 L361.50 575.45 L361.70 575.39 L361.90 575.33 L362.10 575.27 L362.30 575.21 L362.50 575.15 L362.70 575.09 L362.90 575.02 L363.10 574.96 L363.30 574.90 L363.50 574.84 L363.70 574.78 L363.90 574.72 L364.10 574.66 L364.30 574.60 L364.50 574.54 L364.70 574.48 L364.90 574.42 L365.10 574.36 L365.30 574.30 L365.50 574.24 L365.70 574.18 L365.90 574.12 L366.10 574.06 L366.30 574.00 L366.50 573.94 L366.70 573.88 L366.90 573.82 L367.10 573.76 L367.30 573.70 L367.50 573.64 L367.70 573.58 L367.90 573.52 L368.10 573.46 L368.30 573.40 L368.50 573.34 L368.70 573.28 L368.90 573.22 L369.10 573.16 L369.30 573.10 L369.50 573.05 L369.70 572.99 L369.90 572.93 L370.10 572.87 L370.30 572.81 L370.50 572.76 L370.70 572.70 L370.90 572.64 L371.10 572.58 L371.30 572.53 L371.50 572.47 L371.70 572.42 L371.90 572.36 L372.10 572.30 L372.30 572.25 L372.50 572.19 L372.70 572.14 L372.90 572.08 L373.10 572.03 L373.30 571.97 L373.50 571.91 L373.70 571.86 L373.90 571.80 L374.10 571.75 L374.30 571.69 L374.50 571.63 L374.70 571.58 L374.90 571.52 L375.10 571.46 L375.30 571.40 L375.50 571.35 L375.70 571.29 L375.90 571.23 L376.10 571.17 L376.30 571.10 L376.50 571.02 L376.70 570.95 L376.90 570.86 L377.10 570.78 L377.30 570.71 L377.50 570.64 L377.70 570.58 L377.90 570.54 L378.10 570.51 L378.30 570.50 L378.50 570.51 L378.70 570.52 L378.90 570.55 L379.10 570.59 L379.30 570.64 L379.50 570.70 L379.70 570.76 L379.90 570.83 L380.10 570.91 L380.30 570.99 L380.50 571.08 L380.70 571.17 L380.90 571.26 L381.10 571.35 L381.30 571.45 L381.50 571.55 L381.70 571.64 L381.90 571.74 L382.10 571.83 L382.30 571.92 L382.50 572.01 L382.70 572.09 L382.90 572.17 L383.10 572.24 L383.30 572.30 L383.50 572.36 L383.70 572.42 L383.90 572.48 L384.10 572.54 L384.30 572.59 L384.50 572.65 L384.70 572.71 L384.90 572.77 L385.10 572.82 L385.30 572.88 L385.50 572.93 L385.70 572.99 L385.90 573.04 L386.10 573.09 L386.30 573.15 L386.50 573.20 L386.70 573.25 L386.90 573.30 L387.10 573.35 L387.30 573.40 L387.50 573.46 L387.70 573.51 L387.90 573.55 L388.10 573.60 L388.30 573.65 L388.50 573.70 L388.70 573.75 L388.90 573.80 L389.10 573.84 L389.30 573.89 L389.50 573.94 L389.70 573.98 L389.90 574.03 L390.10 574.07 L390.30 574.12 L390.50 574.16 L390.70 574.21 L390.90 574.25 L391.10 574.29 L391.30 574.34 L391.50 574.38 L391.70 574.42 L391.90 574.46 L392.10 574.51 L392.30 574.55 L392.50 574.59 L392.70 574.63 L392.90 574.67 L393.10 574.72 L393.30 574.76 L393.50 574.80 L393.70 574.84 L393.90 574.88 L394.10 574.92 L394.30 574.96 L394.50 575.00 L394.70 575.04 L394.90 575.08 L395.10 575.12 L395.30 575.16 L395.50 575.20 L395.70 575.24 L395.90 575.28 L396.10 575.31 L396.30 575.35 L396.50 575.39 L396.70 575.42 L396.90 575.46 L397.10 575.49 L397.30 575.53 L397.50 575.56 L397.70 575.59 L397.90 575.63 L398.10 575.66 L398.30 575.69 L398.50 575.72 L398.70 575.75 L398.90 575.78 L399.10 575.81 L399.30 575.83 L399.50 575.86 L399.70 575.89 L399.90 575.91 L400.10 575.94 L400.30 575.96 L400.50 575.99 L400.70 576.02 L400.90 576.04 L401.10 576.07 L401.30 576.10 L401.50 576.12 L401.70 576.15 L401.90 576.18 L402.10 576.20 L402.30 576.23 L402.50 576.25 L402.70 576.28 L402.90 576.31 L403.10 576.33 L403.30 576.35 L403.50 576.38 L403.70 576.40 L403.90 576.43 L404.10 576.45 L404.30 576.47 L404.50 576.49 L404.70 576.51 L404.90 576.53 L405.10 576.55 L405.30 576.57 L405.50 576.58 L405.70 576.60 L405.90 576.62 L406.10 576.63 L406.30 576.64 L406.50 576.65 L406.70 576.66 L406.90 576.67 L407.10 576.68 L407.30 576.69 L407.50 576.69 L407.70 576.70 L407.90 576.70 L408.10 576.70 L408.30 576.70 L408.50 576.70 L408.70 576.69 L408.90 576.69 L409.10 576.68 L409.30 576.68 L409.50 576.67 L409.70 576.66 L409.90 576.65 L410.10 576.64 L410.30 576.63 L410.50 576.61 L410.70 576.60 L410.90 576.59 L411.10 576.57 L411.30 576.55 L411.50 576.54 L411.70 576.52 L411.90 576.50 L412.10 576.48 L412.30 576.46 L412.50 576.44 L412.70 576.42 L412.90 576.40 L413.10 576.38 L413.30 576.36 L413.50 576.34 L413.70 576.31 L413.90 576.29 L414.10 576.27 L414.30 576.25 L414.50 576.22 L414.70 576.20 L414.90 576.18 L415.10 576.15 L415.30 576.12 L415.50 576.09 L415.70 576.06 L415.90 576.02 L416.10 575.98 L416.30 575.95 L416.50 575.90 L416.70 575.86 L416.90 575.82 L417.10 575.77 L417.30 575.73 L417.50 575.68 L417.70 575.63 L417.90 575.57 L418.10 575.52 L418.30 575.47 L418.50 575.41 L418.70 575.36 L418.90 575.30 L419.10 575.24 L419.30 575.18 L419.50 575.12 L419.70 575.06 L419.90 574.99 L420.10 574.93 L420.30 574.86 L420.50 574.80 L420.70 574.73 L420.90 574.66 L421.10 574.59 L421.30 574.51 L421.50 574.42 L421.70 574.34 L421.90 574.25 L422.10 574.16 L422.30 574.06 L422.50 573.97 L422.70 573.87 L422.90 573.77 L423.10 573.66 L423.30 573.56 L423.50 573.45 L423.70 573.34 L423.90 573.24 L424.10 573.13 L424.30 573.02 L424.50 572.91 L424.70 572.80 L424.90 572.68 L425.10 572.55 L425.30 572.41 L425.50 572.25 L425.70 572.09 L425.90 571.92 L426.10 571.75 L426.30 571.58 L426.50 571.41 L426.70 571.24 L426.90 571.08 L427.10 570.93 L427.30 570.79 L427.50 570.66 L427.70 570.55 L427.90 570.46 L428.10 570.38 L428.30 570.33 L428.50 570.30 L428.70 570.30 L428.90 570.34 L429.10 570.41 L429.30 570.51 L429.50 570.64 L429.70 570.79 L429.90 570.97 L430.10 571.18 L430.30 571.40 L430.50 571.64 L430.70 571.90 L430.90 572.17 L431.10 572.46 L431.30 572.75 L431.50 573.05 L431.70 573.36 L431.90 573.67 L432.10 573.98 L432.30 574.29 L432.50 574.60 L432.70 574.90 L432.90 575.20 L433.10 575.50 L433.30 575.80 L433.50 576.12 L433.70 576.45 L433.90 576.79 L434.10 577.14 L434.30 577.50 L434.50 577.88 L434.70 578.26 L434.90 578.66 L435.10 579.08 L435.30 579.50 L435.50 579.94 L435.70 580.40 L435.90 580.87 L436.10 581.35 L436.30 581.85 L436.50 582.36 L436.70 582.92 L436.90 583.52 L437.10 584.16 L437.30 584.83 L437.50 585.53 L437.70 586.26 L437.90 587.01 L438.10 587.78 L438.30 588.56 L438.50 589.36 L438.70 590.16 L438.90 590.96 L439.10 591.76 L439.30 592.56 L439.50 593.34 L439.70 594.12 L439.90 594.88 L440.10 595.68 L440.30 596.50 L440.50 597.34 L440.70 598.19 L440.90 599.05 L441.10 599.90 L441.30 600.75 L441.50 601.58 L441.70 602.38 L441.90 603.15 L442.10 603.89 L442.30 604.57 L442.50 605.21 L442.70 605.79 L442.90 606.39 L443.10 607.02 L443.30 607.63 L443.50 608.23 L443.70 608.78 L443.90 609.28 L444.10 609.70 L444.30 610.02 L444.50 610.23 L444.70 610.30 L444.90 610.23 L445.10 610.02 L445.30 609.70 L445.50 609.28 L445.70 608.78 L445.90 608.20 L446.10 607.57 L446.30 606.90 L446.50 606.20 L446.70 605.50 L446.90 604.73 L447.10 603.82 L447.30 602.78 L447.50 601.63 L447.70 600.36 L447.90 598.98 L448.10 597.51 L448.30 595.94 L448.50 594.30 L448.70 592.58 L448.90 590.71 L449.10 588.28 L449.30 585.49 L449.50 582.63 L449.70 580.00 L449.90 577.90 L450.10 576.06 L450.30 574.35 L450.50 573.26 L450.70 573.32 L450.90 574.85 L451.10 577.31 L451.30 580.07 L451.50 582.50 L451.70 584.16 L451.90 585.68 L452.10 587.13 L452.30 588.46 L452.50 589.60 L452.70 590.47 L452.90 591.00 L453.10 591.33 L453.30 591.63 L453.50 591.89 L453.70 592.10 L453.90 592.26 L454.10 592.36 L454.30 592.40 L454.50 592.35 L454.70 592.21 L454.90 592.01 L455.10 591.75 L455.30 591.46 L455.50 591.16 L455.70 590.86 L455.90 590.58 L456.10 590.34 L456.30 590.16 L456.50 590.05 L456.70 589.95 L456.90 589.85 L457.10 589.75 L457.30 589.66 L457.50 589.57 L457.70 589.49 L457.90 589.42 L458.10 589.36 L458.30 589.30 L458.50 589.26 L458.70 589.23 L458.90 589.21 L459.10 589.20 L459.30 589.21 L459.50 589.25 L459.70 589.30 L459.90 589.38 L460.10 589.47 L460.30 589.58 L460.50 589.71 L460.70 589.84 L460.90 589.99 L461.10 590.15 L461.30 590.31 L461.50 590.47 L461.70 590.64 L461.90 590.82 L462.10 590.99 L462.30 591.16 L462.50 591.32 L462.70 591.48 L462.90 591.65 L463.10 591.82 L463.30 592.00 L463.50 592.20 L463.70 592.39 L463.90 592.60 L464.10 592.81 L464.30 593.02 L464.50 593.25 L464.70 593.47 L464.90 593.71 L465.10 593.94 L465.30 594.19 L465.50 594.43 L465.70 594.68 L465.90 594.94 L466.10 595.19 L466.30 595.45 L466.50 595.71 L466.70 595.98 L466.90 596.24 L467.10 596.51 L467.30 596.78 L467.50 597.05 L467.70 597.31 L467.90 597.58 L468.10 597.85 L468.30 598.12 L468.50 598.39 L468.70 598.65 L468.90 598.92 L469.10 599.18 L469.30 599.44 L469.50 599.70 L469.70 599.95 L469.90 600.20 L470.10 600.45 L470.30 600.70 L470.50 600.94 L470.70 601.17 L470.90 601.40 L471.10 601.63 L471.30 601.85 L471.50 602.08 L471.70 602.31 L471.90 602.53 L472.10 602.76 L472.30 602.98 L472.50 603.21 L472.70 603.43 L472.90 603.65 L473.10 603.88 L473.30 604.10 L473.50 604.32 L473.70 604.54 L473.90 604.77 L474.10 604.99 L474.30 605.21 L474.50 605.43 L474.70 605.64 L474.90 605.86 L475.10 606.08 L475.30 606.30 L475.50 606.51 L475.70 606.73 L475.90 606.95 L476.10 607.16 L476.30 607.37 L476.50 607.59 L476.70 607.80 L476.90 608.01 L477.10 608.22 L477.30 608.44 L477.50 608.65 L477.70 608.85 L477.90 609.06 L478.10 609.27 L478.30 609.48 L478.50 609.68 L478.70 609.89 L478.90 610.09 L479.10 610.30 L479.30 610.50 L479.50 610.70 L479.70 610.90 L479.90 611.10 L480.10 611.30 L480.30 611.50 L480.50 611.70 L480.70 611.90 L480.90 612.09 L481.10 612.29 L481.30 612.48 L481.50 612.67 L481.70 612.87 L481.90 613.06 L482.10 613.25 L482.30 613.44 L482.50 613.62 L482.70 613.81 L482.90 614.00 L483.10 614.19 L483.30 614.37 L483.50 614.56 L483.70 614.74 L483.90 614.92 L484.10 615.11 L484.30 615.29 L484.50 615.47 L484.70 615.65 L484.90 615.83 L485.10 616.01 L485.30 616.19 L485.50 616.37 L485.70 616.55 L485.90 616.73 L486.10 616.91 L486.30 617.09 L486.50 617.27 L486.70 617.44 L486.90 617.62 L487.10 617.80 L487.30 617.98 L487.50 618.15 L487.70 618.33 L487.90 618.51 L488.10 618.68 L488.30 618.86 L488.50 619.04 L488.70 619.21 L488.90 619.39 L489.10 619.57 L489.30 619.74 L489.50 619.92 L489.70 620.10 L489.90 620.28 L490.10 620.46 L490.30 620.64 L490.50 620.81 L490.70 620.99 L490.90 621.17 L491.10 621.35 L491.30 621.53 L491.50 621.70 L491.70 621.88 L491.90 622.05 L492.10 622.23 L492.30 622.40 L492.50 622.57 L492.70 622.74 L492.90 622.91 L493.10 623.08 L493.30 623.25 L493.50 623.42 L493.70 623.58 L493.90 623.74 L494.10 623.90 L494.30 624.06 L494.50 624.22 L494.70 624.37 L494.90 624.52 L495.10 624.67 L495.30 624.82 L495.50 624.97 L495.70 625.12 L495.90 625.27 L496.10 625.41 L496.30 625.55 L496.50 625.70 L496.70 625.84 L496.90 625.98 L497.10 626.12 L497.30 626.26 L497.50 626.40 L497.70 626.54 L497.90 626.68 L498.10 626.82 L498.30 626.95 L498.50 627.09 L498.70 627.22 L498.90 627.36 L499.10 627.49 L499.30 627.62 L499.50 627.76 L499.70 627.89 L499.90 628.02 L500.10 628.15 L500.30 628.28 L500.50 628.41 L500.70 628.54 L500.90 628.67 L501.10 628.79 L501.30 628.92 L501.50 629.05 L501.70 629.18 L501.90 629.30 L502.10 629.43 L502.30 629.55 L502.50 629.68 L502.70 629.80 L502.90 629.93 L503.10 630.05 L503.30 630.18 L503.50 630.30 L503.70 630.42 L503.90 630.55 L504.10 630.67 L504.30 630.79 L504.50 630.91 L504.70 631.04 L504.90 631.16 L505.10 631.28 L505.30 631.40 L505.50 631.52 L505.70 631.65 L505.90 631.77 L506.10 631.89 L506.30 632.01 L506.50 632.13 L506.70 632.25 L506.90 632.38 L507.10 632.50 L507.30 632.62 L507.50 632.74 L507.70 632.86 L507.90 632.98 L508.10 633.11 L508.30 633.23 L508.50 633.35 L508.70 633.47 L508.90 633.60 L509.10 633.72 L509.30 633.84 L509.50 633.97 L509.70 634.09 L509.90 634.21 L510.10 634.34 L510.30 634.46 L510.50 634.59 L510.70 634.71 L510.90 634.83 L511.10 634.96 L511.30 635.08 L511.50 635.21 L511.70 635.33 L511.90 635.45 L512.10 635.57 L512.30 635.70 L512.50 635.82 L512.70 635.94 L512.90 636.06 L513.10 636.19 L513.30 636.31 L513.50 636.43 L513.70 636.55 L513.90 636.67 L514.10 636.80 L514.30 636.92 L514.50 637.04 L514.70 637.16 L514.90 637.28 L515.10 637.40 L515.30 637.52 L515.50 637.64 L515.70 637.76 L515.90 637.88 L516.10 638.00 L516.30 638.12 L516.50 638.24 L516.70 638.36 L516.90 638.48 L517.10 638.60 L517.30 638.72 L517.50 638.84 L517.70 638.96 L517.90 639.08 L518.10 639.20 L518.30 639.32 L518.50 639.44 L518.70 639.56 L518.90 639.68 L519.10 639.80 L519.30 639.92 L519.50 640.04 L519.70 640.16 L519.90 640.28 L520.10 640.39 L520.30 640.51 L520.50 640.63 L520.70 640.75 L520.90 640.87 L521.10 640.99 L521.30 641.11 L521.50 641.23 L521.70 641.35 L521.90 641.47 L522.10 641.59 L522.30 641.71 L522.50 641.82 L522.70 641.94 L522.90 642.06 L523.10 642.18 L523.30 642.30 L523.50 642.42 L523.70 642.54 L523.90 642.66 L524.10 642.78 L524.30 642.90 L524.50 643.02 L524.70 643.14 L524.90 643.26 L525.10 643.38 L525.30 643.50 L525.50 643.62 L525.70 643.74 L525.90 643.86 L526.10 643.98 L526.30 644.10 L526.50 644.22 L526.70 644.34 L526.90 644.46 L527.10 644.59 L527.30 644.71 L527.50 644.83 L527.70 644.95 L527.90 645.07 L528.10 645.19 L528.30 645.31 L528.50 645.43 L528.70 645.56 L528.90 645.68 L529.10 645.80 L529.30 645.92 L529.50 646.04 L529.70 646.16 L529.90 646.29 L530.10 646.41 L530.30 646.53 L530.50 646.65 L530.70 646.77 L530.90 646.89 L531.10 647.01 L531.30 647.14 L531.50 647.26 L531.70 647.38 L531.90 647.50 L532.10 647.62 L532.30 647.74 L532.50 647.86 L532.70 647.99 L532.90 648.11 L533.10 648.23 L533.30 648.35 L533.50 648.47 L533.70 648.59 L533.90 648.71 L534.10 648.83 L534.30 648.95 L534.50 649.07 L534.70 649.19 L534.90 649.31 L535.10 649.43 L535.30 649.55 L535.50 649.67 L535.70 649.79 L535.90 649.91 L536.10 650.03 L536.30 650.15 L536.50 650.27 L536.70 650.39 L536.90 650.50 L537.10 650.62 L537.30 650.74 L537.50 650.86 L537.70 650.98 L537.90 651.09 L538.10 651.21 L538.30 651.33 L538.50 651.44 L538.70 651.56 L538.90 651.68 L539.10 651.79 L539.30 651.91 L539.50 652.03 L539.70 652.14 L539.90 652.26 L540.10 652.37 L540.30 652.49 L540.50 652.60 L540.70 652.71 L540.90 652.83 L541.10 652.94 L541.30 653.06 L541.50 653.17 L541.70 653.29 L541.90 653.41 L542.10 653.52 L542.30 653.64 L542.50 653.75 L542.70 653.87 L542.90 653.99 L543.10 654.10 L543.30 654.22 L543.50 654.33 L543.70 654.45 L543.90 654.57 L544.10 654.68 L544.30 654.80 L544.50 654.92 L544.70 655.03 L544.90 655.15 L545.10 655.27 L545.30 655.38 L545.50 655.50 L545.70 655.61 L545.90 655.73 L546.10 655.85 L546.30 655.96 L546.50 656.08 L546.70 656.19 L546.90 656.31 L547.10 656.42 L547.30 656.53 L547.50 656.65 L547.70 656.76 L547.90 656.88 L548.10 656.99 L548.30 657.10 L548.50 657.21 L548.70 657.33 L548.90 657.44 L549.10 657.55 L549.30 657.66 L549.50 657.77 L549.70 657.88 L549.90 657.99 L550.10 658.10 L550.30 658.21 L550.50 658.32 L550.70 658.42 L550.90 658.53 L551.10 658.64 L551.30 658.74 L551.50 658.85 L551.70 658.95 L551.90 659.06 L552.10 659.16 L552.30 659.26 L552.50 659.37 L552.70 659.47 L552.90 659.57 L553.10 659.67 L553.30 659.77 L553.50 659.87 L553.70 659.97 L553.90 660.06 L554.10 660.16 L554.30 660.25 L554.50 660.35 L554.70 660.44 L554.90 660.54 L555.10 660.63 L555.30 660.72 L555.50 660.81 L555.70 660.90 L555.90 660.99 L556.10 661.08 L556.30 661.17 L556.50 661.26 L556.70 661.35 L556.90 661.44 L557.10 661.53 L557.30 661.62 L557.50 661.71 L557.70 661.80 L557.90 661.89 L558.10 661.98 L558.30 662.07 L558.50 662.16 L558.70 662.25 L558.90 662.34 L559.10 662.43 L559.30 662.52 L559.50 662.61 L559.70 662.69 L559.90 662.78 L560.10 662.87 L560.30 662.96 L560.50 663.04 L560.70 663.13 L560.90 663.21 L561.10 663.30 L561.30 663.38 L561.50 663.46 L561.70 663.55 L561.90 663.63 L562.10 663.71 L562.30 663.79 L562.50 663.87 L562.70 663.94 L562.90 664.02 L563.10 664.10 L563.30 664.17 L563.50 664.25 L563.70 664.32 L563.90 664.39 L564.10 664.46 L564.30 664.53 L564.50 664.60 L564.70 664.66 L564.90 664.73 L565.10 664.79 L565.30 664.86 L565.50 664.92 L565.70 664.98 L565.90 665.03 L566.10 665.09 L566.30 665.14 L566.50 665.20 L566.70 665.25 L566.90 665.30 L567.10 665.35 L567.30 665.39 L567.50 665.44 L567.70 665.48 L567.90 665.52 L568.10 665.56 L568.30 665.60 L568.50 665.64 L568.70 665.68 L568.90 665.72 L569.10 665.76 L569.30 665.81 L569.50 665.85 L569.70 665.89 L569.90 665.93 L570.10 665.97 L570.30 666.01 L570.50 666.04 L570.70 666.08 L570.90 666.12 L571.10 666.16 L571.30 666.20 L571.50 666.24 L571.70 666.27 L571.90 666.31 L572.10 666.34 L572.30 666.38 L572.50 666.41 L572.70 666.45 L572.90 666.48 L573.10 666.51 L573.30 666.55 L573.50 666.58 L573.70 666.61 L573.90 666.64 L574.10 666.66 L574.30 666.69 L574.50 666.72 L574.70 666.74 L574.90 666.77 L575.10 666.79 L575.30 666.81 L575.50 666.84 L575.70 666.86 L575.90 666.87 L576.10 666.89 L576.30 666.91 L576.50 666.92 L576.70 666.94 L576.90 666.95 L577.10 666.96 L577.30 666.97 L577.50 666.98 L577.70 666.99 L577.90 666.99 L578.10 667.00 L578.30 667.00 L578.50 667.00 L578.70 667.00 L578.90 667.00 L579.10 666.99 L579.30 666.98 L579.50 666.97 L579.70 666.96 L579.90 666.94 L580.10 666.93 L580.30 666.91 L580.50 666.89 L580.70 666.87 L580.90 666.84 L581.10 666.81 L581.30 666.79 L581.50 666.76 L581.70 666.72 L581.90 666.69 L582.10 666.66 L582.30 666.62 L582.50 666.58 L582.70 666.54 L582.90 666.50 L583.10 666.46 L583.30 666.41 L583.50 666.37 L583.70 666.32 L583.90 666.27 L584.10 666.22 L584.30 666.17 L584.50 666.12 L584.70 666.07 L584.90 666.01 L585.10 665.96 L585.30 665.90 L585.50 665.84 L585.70 665.79 L585.90 665.73 L586.10 665.67 L586.30 665.61 L586.50 665.55 L586.70 665.48 L586.90 665.42 L587.10 665.36 L587.30 665.29 L587.50 665.23 L587.70 665.16 L587.90 665.10 L588.10 665.03 L588.30 664.97 L588.50 664.90 L588.70 664.83 L588.90 664.77 L589.10 664.70 L589.30 664.63 L589.50 664.56 L589.70 664.48 L589.90 664.40 L590.10 664.31 L590.30 664.22 L590.50 664.13 L590.70 664.03 L590.90 663.93 L591.10 663.83 L591.30 663.72 L591.50 663.61 L591.70 663.49 L591.90 663.37 L592.10 663.25 L592.30 663.13 L592.50 663.00 L592.70 662.87 L592.90 662.73 L593.10 662.59 L593.30 662.45 L593.50 662.31 L593.70 662.16 L593.90 662.01 L594.10 661.86 L594.30 661.71 L594.50 661.55 L594.70 661.39 L594.90 661.23 L595.10 661.07 L595.30 660.90 L595.50 660.73 L595.70 660.56 L595.90 660.39 L596.10 660.21 L596.30 660.04 L596.50 659.86 L596.70 659.68 L596.90 659.50 L597.10 659.31 L597.30 659.13 L597.50 658.94 L597.70 658.75 L597.90 658.56 L598.10 658.37 L598.30 658.18 L598.50 657.99 L598.70 657.79 L598.90 657.59 L599.10 657.40 L599.30 657.20" fill="none" stroke="#000" stroke-width="1.5" stroke-linejoin="round" shape-rendering="geometricPrecision"/>
<path d="M112.00 502.28 L112.34 497.72 L112.68 499.20 L113.02 497.45 L113.36 497.76 L113.70 495.62 L114.04 497.18 L114.38 495.62 L114.72 496.87 L115.06 493.31 L115.40 495.80 L115.74 492.96 L116.08 495.03 L116.42 491.32 L116.76 494.38 L117.10 492.81 L117.44 494.55 L117.78 491.33 L118.12 493.07 L118.46 491.11 L118.80 492.07 L119.14 489.41 L119.48 490.50 L119.82 486.62 L120.16 489.26 L120.50 486.56 L120.84 488.42 L121.18 485.93 L121.52 487.01 L121.86 484.85 L122.20 485.73 L122.54 485.14 L122.88 485.43 L123.22 483.83 L123.56 485.05 L123.90 483.60 L124.24 485.77 L124.58 483.21 L124.92 485.30 L125.26 483.20 L125.60 485.07 L125.94 482.27 L126.28 484.03 L126.62 482.65 L126.96 484.13 L127.30 482.13 L127.64 483.13 L127.98 482.04 L128.32 482.60 L128.66 480.62 L129.00 484.83 L129.34 480.22 L129.68 481.94 L130.02 480.05 L130.36 482.88 L130.70 479.35 L131.04 481.25 L131.38 479.71 L131.72 481.92 L132.06 480.54 L132.40 480.85 L132.74 479.49 L133.08 481.07 L133.42 479.66 L133.76 481.47 L134.10 480.21 L134.44 480.64 L134.78 479.29 L135.12 480.77 L135.46 479.92 L135.80 481.19 L136.14 479.66 L136.48 480.34 L136.82 479.25 L137.16 480.91 L137.50 479.44 L137.84 480.26 L138.18 479.45 L138.52 480.70 L138.86 479.74 L139.20 482.49 L139.54 479.37 L139.88 480.81 L140.22 480.09 L140.56 481.75 L140.90 479.50 L141.24 482.31 L141.58 480.27 L141.92 481.41 L142.26 479.86 L142.60 481.84 L142.94 480.45 L143.28 481.71 L143.62 480.70 L143.96 481.84 L144.30 481.18 L144.64 481.99 L144.98 480.96 L145.32 482.61 L145.66 480.40 L146.00 482.80 L146.34 481.99 L146.68 482.36 L147.02 481.57 L147.36 483.02 L147.70 481.56 L148.04 483.13 L148.38 481.96 L148.72 482.95 L149.06 478.71 L149.40 484.06 L149.74 482.59 L150.08 483.56 L150.42 482.01 L150.76 483.21 L151.10 482.45 L151.44 483.21 L151.78 482.11 L152.12 483.60 L152.46 482.85 L152.80 484.12 L153.14 483.05 L153.48 485.25 L153.82 482.68 L154.16 484.17 L154.50 483.10 L154.84 484.36 L155.18 483.51 L155.52 484.31 L155.86 483.49 L156.20 484.75 L156.54 482.74 L156.88 484.92 L157.22 482.80 L157.56 484.63 L157.90 482.69 L158.24 484.62 L158.58 482.51 L158.92 484.88 L159.26 482.98 L159.60 485.25 L159.94 484.15 L160.28 485.48 L160.62 483.79 L160.96 485.08 L161.30 484.49 L161.64 485.48 L161.98 484.18 L162.32 485.39 L162.66 484.93 L163.00 486.01 L163.34 485.05 L163.68 486.40 L164.02 484.18 L164.36 486.13 L164.70 485.43 L165.04 486.68 L165.38 484.63 L165.72 486.51 L166.06 485.17 L166.40 485.85 L166.74 485.67 L167.08 486.91 L167.42 483.77 L167.76 486.37 L168.10 485.16 L168.44 487.34 L168.78 485.32 L169.12 486.59 L169.46 485.87 L169.80 487.77 L170.14 485.53 L170.48 487.13 L170.82 485.66 L171.16 486.74 L171.50 485.48 L171.84 487.01 L172.18 485.43 L172.52 487.34 L172.86 485.21 L173.20 487.15 L173.54 486.23 L173.88 486.83 L174.22 486.36 L174.56 487.22 L174.90 485.37 L175.24 487.45 L175.58 484.78 L175.92 486.95 L176.26 485.70 L176.60 486.80 L176.94 485.21 L177.28 487.26 L177.62 485.86 L177.96 487.17 L178.30 485.05 L178.64 486.49 L178.98 484.56 L179.32 486.34 L179.66 485.22 L180.00 486.73 L180.34 484.34 L180.68 486.91 L181.02 484.39 L181.36 486.40 L181.70 484.50 L182.04 486.99 L182.38 483.78 L182.72 486.50 L183.06 484.87 L183.40 486.42 L183.74 484.87 L184.08 486.46 L184.42 484.45 L184.76 485.94 L185.10 484.91 L185.44 485.79 L185.78 484.57 L186.12 485.86 L186.46 484.46 L186.80 485.90 L187.14 483.76 L187.48 484.73 L187.82 484.11 L188.16 485.02 L188.50 483.80 L188.84 485.64 L189.18 483.88 L189.52 485.56 L189.86 481.54 L190.20 485.26 L190.54 482.94 L190.88 484.33 L191.22 483.26 L191.56 485.81 L191.90 483.01 L192.24 484.42 L192.58 483.34 L192.92 483.48 L193.26 482.51 L193.60 484.29 L193.94 483.03 L194.28 483.92 L194.62 482.70 L194.96 483.32 L195.30 481.44 L195.64 484.01 L195.98 481.27 L196.32 483.56 L196.66 482.00 L197.00 482.72 L197.34 481.14 L197.68 482.66 L198.02 480.92 L198.36 482.49 L198.70 480.79 L199.04 482.34 L199.38 480.96 L199.72 482.01 L200.06 481.25 L200.40 481.99 L200.74 480.59 L201.08 485.63 L201.42 480.31 L201.76 482.05 L202.10 480.54 L202.44 485.15 L202.78 479.73 L203.12 481.53 L203.46 480.09 L203.80 480.93 L204.14 480.39 L204.48 481.57 L204.82 480.17 L205.16 481.04 L205.50 480.29 L205.84 482.09 L206.18 480.03 L206.52 480.93 L206.86 479.14 L207.20 481.11 L207.54 479.73 L207.88 481.94 L208.22 480.12 L208.56 480.98 L208.90 479.64 L209.24 481.65 L209.58 479.82 L209.92 482.15 L210.26 480.49 L210.60 481.34 L210.94 479.66 L211.28 481.22 L211.62 479.62 L211.96 482.23 L212.30 479.94 L212.64 482.16 L212.98 480.91 L213.32 481.86 L213.66 479.89 L214.00 481.60 L214.34 480.76 L214.68 481.65 L215.02 478.87 L215.36 482.28 L215.70 481.33 L216.04 483.11 L216.38 480.72 L216.72 483.07 L217.06 481.17 L217.40 482.61 L217.74 481.03 L218.08 483.04 L218.42 478.36 L218.76 483.53 L219.10 482.19 L219.44 483.73 L219.78 481.62 L220.12 484.48 L220.46 482.54 L220.80 483.94 L221.14 483.06 L221.48 484.54 L221.82 484.27 L222.16 485.10 L222.50 484.34 L222.84 485.54 L223.18 483.61 L223.52 486.71 L223.86 485.20 L224.20 486.45 L224.54 485.80 L224.88 488.02 L225.22 486.55 L225.56 487.46 L225.90 486.86 L226.24 489.85 L226.58 486.39 L226.92 489.19 L227.26 487.52 L227.60 490.33 L227.94 489.60 L228.28 491.52 L228.62 491.53 L228.96 493.26 L229.30 491.91 L229.64 494.92 L229.98 493.34 L230.32 494.99 L230.66 494.62 L231.00 497.25 L231.34 496.26 L231.68 497.83 L232.02 497.46 L232.36 498.91 L232.70 497.58 L233.04 500.09 L233.38 498.10 L233.72 499.32 L234.06 498.66 L234.40 498.90 L234.74 498.14 L235.08 500.11 L235.42 498.67 L235.76 499.57 L236.10 497.96 L236.44 499.59 L236.78 498.68 L237.12 499.82 L237.46 498.60 L237.80 500.41 L238.14 498.59 L238.48 503.46 L238.82 498.85 L239.16 509.55 L239.50 493.89 L239.84 502.53 L240.18 496.73 L240.52 499.30 L240.86 493.21 L241.20 500.03 L241.54 496.90 L241.88 499.07 L242.22 496.91 L242.56 501.23 L242.90 497.98 L243.24 500.14 L243.58 496.12 L243.92 503.47 L244.26 499.59 L244.60 504.62 L244.94 497.60 L245.28 503.96 L245.62 499.13 L245.96 503.54 L246.30 500.12 L246.64 502.04 L246.98 498.11 L247.32 507.78 L247.66 494.76 L248.00 501.39 L248.34 492.11 L248.68 493.76 L249.02 489.98 L249.36 488.18 L249.70 483.34 L250.04 484.34 L250.38 479.65 L250.72 478.69 L251.06 474.15 L251.40 473.50 L251.74 469.15 L252.08 466.44 L252.42 463.52 L252.76 460.96 L253.10 457.97 L253.44 455.52 L253.78 452.02 L254.12 449.42 L254.46 446.51 L254.80 443.81 L255.14 440.89 L255.48 438.47 L255.82 435.61 L256.16 433.43 L256.50 430.64 L256.84 428.24 L257.18 424.87 L257.52 422.86 L257.86 419.76 L258.20 417.93 L258.54 415.63 L258.88 414.47 L259.22 413.29 L259.56 413.39 L259.90 414.11 L260.24 416.43 L260.58 419.39 L260.92 423.63 L261.26 427.53 L261.60 431.81 L261.94 436.09 L262.28 441.96 L262.62 447.92 L262.96 455.01 L263.30 461.96 L263.60 514.50 L265.40 514.50 L265.70 462.45 L266.04 453.68 L266.38 446.37 L266.72 439.77 L267.06 435.14 L267.40 430.91 L267.74 427.90 L268.08 424.20 L268.42 421.86 L268.76 419.62 L269.10 418.57 L269.44 417.72 L269.78 418.39 L270.12 418.70 L270.46 419.74 L270.80 420.51 L271.14 422.10 L271.48 423.06 L271.82 424.64 L272.16 425.82 L272.50 427.57 L272.84 428.31 L273.18 429.88 L273.52 431.12 L273.86 432.65 L274.20 433.74 L274.54 435.69 L274.88 437.15 L275.22 439.09 L275.56 440.16 L275.90 442.31 L276.24 443.57 L276.58 445.83 L276.92 446.97 L277.26 449.17 L277.60 450.34 L277.94 452.69 L278.28 453.94 L278.62 456.20 L278.96 457.75 L279.30 459.97 L279.64 461.87 L279.98 464.07 L280.32 465.70 L280.66 467.97 L281.00 469.64 L281.34 473.15 L281.68 473.41 L282.02 478.53 L282.36 475.39 L282.70 483.05 L283.04 481.42 L283.38 484.96 L283.72 485.42 L284.06 489.83 L284.40 489.39 L284.74 493.55 L285.08 493.91 L285.42 497.61 L285.76 494.77 L286.10 500.85 L286.44 497.80 L286.78 500.64 L287.12 498.29 L287.46 501.83 L287.80 497.28 L288.14 501.18 L288.48 498.18 L288.82 502.62 L289.16 499.73 L289.50 501.72 L289.84 500.15 L290.18 502.39 L290.52 497.42 L290.86 503.90 L291.20 497.31 L291.54 502.10 L291.88 498.94 L292.22 503.44 L292.56 499.89 L292.90 502.75 L293.24 496.50 L293.58 501.92 L293.92 497.97 L294.26 502.72 L294.60 500.43 L294.94 501.60 L295.28 497.78 L295.62 505.82 L295.96 497.66 L296.30 502.64 L296.64 497.76 L296.98 502.15 L297.32 498.69 L297.66 502.32 L298.00 498.09 L298.34 499.25 L298.68 497.78 L299.02 499.12 L299.36 497.15 L299.70 498.54 L300.04 497.27 L300.38 497.60 L300.72 495.76 L301.06 497.54 L301.40 494.91 L301.74 496.84 L302.08 495.25 L302.42 495.60 L302.76 494.22 L303.10 495.51 L303.44 493.23 L303.78 495.15 L304.12 493.31 L304.46 498.00 L304.80 493.27 L305.14 493.60 L305.48 491.53 L305.82 492.62 L306.16 491.33 L306.50 493.22 L306.84 490.33 L307.18 492.57 L307.52 490.90 L307.86 491.22 L308.20 490.36 L308.54 491.33 L308.88 488.57 L309.22 489.76 L309.56 488.99 L309.90 489.49 L310.24 487.97 L310.58 489.27 L310.92 487.47 L311.26 489.10 L311.60 486.68 L311.94 488.60 L312.28 486.61 L312.62 487.02 L312.96 485.15 L313.30 486.87 L313.64 484.76 L313.98 485.64 L314.32 484.45 L314.66 485.16 L315.00 484.69 L315.34 485.45 L315.68 484.37 L316.02 485.98 L316.36 482.72 L316.70 484.92 L317.04 483.56 L317.38 484.60 L317.72 482.01 L318.06 484.32 L318.40 482.88 L318.74 483.80 L319.08 482.64 L319.42 482.58 L319.76 482.24 L320.10 483.19 L320.44 480.82 L320.78 482.50 L321.12 480.62 L321.46 482.80 L321.80 481.08 L322.14 485.07 L322.48 480.01 L322.82 482.09 L323.16 481.10 L323.50 481.47 L323.84 479.88 L324.18 482.26 L324.52 478.43 L324.86 481.64 L325.20 479.79 L325.54 482.00 L325.88 480.66 L326.22 482.14 L326.56 480.23 L326.90 481.42 L327.24 480.29 L327.58 480.95 L327.92 480.03 L328.26 481.87 L328.60 480.35 L328.94 481.26 L329.28 480.66 L329.62 481.30 L329.96 479.65 L330.30 482.44 L330.64 480.22 L330.98 482.17 L331.32 479.99 L331.66 481.72 L332.00 479.98 L332.34 481.48 L332.68 480.39 L333.02 481.07 L333.36 478.96 L333.70 481.98 L334.04 478.36 L334.38 482.23 L334.72 479.81 L335.06 481.39 L335.40 479.77 L335.74 481.44 L336.08 480.40 L336.42 481.33 L336.76 480.38 L337.10 481.18 L337.44 478.68 L337.78 481.97 L338.12 479.94 L338.46 481.75 L338.80 480.69 L339.14 481.66 L339.48 480.59 L339.82 482.49 L340.16 481.06 L340.50 482.06 L340.84 480.43 L341.18 482.00 L341.52 481.17 L341.86 481.66 L342.20 480.00 L342.54 481.90 L342.88 480.78 L343.22 482.47 L343.56 480.71 L343.90 482.58 L344.24 480.04 L344.58 482.70 L344.92 481.54 L345.26 481.93 L345.60 480.32 L345.94 481.85 L346.28 480.26 L346.62 481.65 L346.96 480.95 L347.30 482.77 L347.64 480.28 L347.98 482.56 L348.32 481.37 L348.66 482.60 L349.00 480.48 L349.34 482.84 L349.68 480.83 L350.02 482.72 L350.36 480.77 L350.70 482.28 L351.04 479.60 L351.38 482.26 L351.72 481.21 L352.06 482.25 L352.40 481.35 L352.74 482.70 L353.08 480.53 L353.42 482.49 L353.76 480.58 L354.10 482.23 L354.44 481.54 L354.78 482.57 L355.12 480.91 L355.46 482.38 L355.80 481.00 L356.14 482.44 L356.48 481.06 L356.82 482.70 L357.16 480.78 L357.50 482.25 L357.84 480.41 L358.18 482.70 L358.52 481.26 L358.86 482.10 L359.20 481.19 L359.54 482.22 L359.88 481.27 L360.22 482.35 L360.56 480.75 L360.90 482.08 L361.24 480.36 L361.58 482.22 L361.92 480.76 L362.26 484.54 L362.60 477.00 L362.94 482.06 L363.28 479.74 L363.62 481.26 L363.96 480.36 L364.30 481.83 L364.64 480.65 L364.98 481.24 L365.32 480.17 L365.66 482.05 L366.00 480.51 L366.34 482.35 L366.68 479.96 L367.02 484.69 L367.36 480.16 L367.70 481.02 L368.04 479.66 L368.38 481.42 L368.72 479.67 L369.06 480.71 L369.40 479.65 L369.74 480.73 L370.08 479.50 L370.42 480.88 L370.76 480.35 L371.10 481.09 L371.44 479.58 L371.78 480.98 L372.12 479.49 L372.46 480.51 L372.80 480.28 L373.14 481.19 L373.48 479.59 L373.82 483.51 L374.16 479.99 L374.50 481.10 L374.84 479.41 L375.18 480.46 L375.52 479.73 L375.86 480.46 L376.20 480.05 L376.54 481.02 L376.88 479.84 L377.22 480.53 L377.56 479.38 L377.90 481.27 L378.24 479.34 L378.58 483.78 L378.92 479.65 L379.26 480.68 L379.60 479.58 L379.94 481.45 L380.28 480.02 L380.62 480.86 L380.96 479.02 L381.30 480.91 L381.64 479.20 L381.98 480.75 L382.32 479.99 L382.66 484.35 L383.00 479.08 L383.34 481.71 L383.68 479.69 L384.02 481.06 L384.36 478.29 L384.70 481.12 L385.04 479.23 L385.38 481.45 L385.72 479.69 L386.06 481.71 L386.40 480.56 L386.74 482.10 L387.08 479.94 L387.42 480.98 L387.76 481.05 L388.10 481.58 L388.44 479.66 L388.78 482.06 L389.12 481.42 L389.46 482.67 L389.80 481.48 L390.14 482.82 L390.48 481.55 L390.82 483.01 L391.16 481.35 L391.50 483.94 L391.84 481.23 L392.18 486.87 L392.52 482.72 L392.86 484.30 L393.20 482.82 L393.54 483.41 L393.88 483.23 L394.22 484.29 L394.56 483.17 L394.90 484.01 L395.24 483.51 L395.58 486.29 L395.92 483.37 L396.26 485.66 L396.60 483.69 L396.94 488.83 L397.28 483.29 L397.62 485.33 L397.96 485.01 L398.30 486.15 L398.64 485.01 L398.98 486.21 L399.32 485.17 L399.66 487.27 L400.00 486.36 L400.34 487.80 L400.68 486.65 L401.02 489.27 L401.36 487.89 L401.70 490.48 L402.04 485.84 L402.38 494.16 L402.72 489.38 L403.06 492.74 L403.40 489.11 L403.74 491.40 L404.08 486.43 L404.42 494.22 L404.76 490.71 L405.10 494.27 L405.44 489.98 L405.78 500.11 L406.12 490.15 L406.46 493.71 L406.80 492.57 L407.14 497.50 L407.48 490.53 L407.82 496.28 L408.16 489.27 L408.50 496.84 L408.84 493.02 L409.18 495.24 L409.52 491.23 L409.86 496.88 L410.20 494.89 L410.54 496.19 L410.88 494.82 L411.22 500.00 L411.56 492.85 L411.90 499.16 L412.24 495.27 L412.58 502.20 L412.92 496.64 L413.26 501.66 L413.60 496.02 L413.94 499.42 L414.28 495.27 L414.62 501.15 L414.96 499.46 L415.30 500.08 L415.64 499.94 L415.98 501.31 L416.32 498.89 L416.66 504.35 L417.00 500.43 L417.34 503.15 L417.68 499.94 L418.02 503.74 L418.36 499.10 L418.70 503.05 L419.04 499.72 L419.38 503.60 L419.72 499.71 L420.06 506.00 L420.40 498.86 L420.74 504.41 L421.08 500.08 L421.42 503.02 L421.76 500.12 L422.10 501.11 L422.44 499.75 L422.78 500.59 L423.12 498.67 L423.46 498.84 L423.80 497.58 L424.14 498.80 L424.48 496.79 L424.82 497.44 L425.16 496.01 L425.50 495.97 L425.84 494.32 L426.18 494.00 L426.52 491.88 L426.86 492.33 L427.20 488.56 L427.54 488.66 L427.88 485.99 L428.22 485.09 L428.56 480.89 L428.90 479.28 L429.24 474.48 L429.58 471.81 L429.92 467.67 L430.26 463.81 L430.60 459.65 L430.94 457.05 L431.28 454.03 L431.62 452.02 L431.96 450.21 L432.30 449.18 L432.64 447.63 L432.98 446.89 L433.32 445.64 L433.66 445.04 L434.00 443.85 L434.34 442.99 L434.68 441.86 L435.02 440.83 L435.36 439.32 L435.70 438.22 L436.04 436.38 L436.38 435.19 L436.72 433.24 L437.06 431.97 L437.40 429.49 L437.74 428.43 L438.08 426.34 L438.42 425.24 L438.76 423.10 L439.10 422.06 L439.44 420.06 L439.78 418.51 L440.12 416.63 L440.46 415.29 L440.80 413.37 L441.14 412.81 L441.48 412.24 L441.82 412.86 L442.16 413.31 L442.50 414.72 L442.84 416.08 L443.18 418.10 L443.52 419.86 L443.86 423.05 L444.20 426.65 L444.54 432.49 L444.88 437.78 L445.30 514.50 L449.30 514.50 L449.60 440.17 L449.94 433.21 L450.28 429.30 L450.62 425.06 L450.96 421.95 L451.30 418.65 L451.64 416.11 L451.98 413.72 L452.32 412.56 L452.66 411.52 L453.00 412.12 L453.34 412.41 L453.68 413.62 L454.02 414.25 L454.36 416.14 L454.70 417.19 L455.04 418.81 L455.38 420.13 L455.72 422.08 L456.06 423.28 L456.40 424.88 L456.74 425.81 L457.08 427.46 L457.42 428.61 L457.76 430.37 L458.10 430.95 L458.44 432.97 L458.78 434.01 L459.12 435.58 L459.46 436.95 L459.80 438.61 L460.14 440.10 L460.48 442.29 L460.82 443.60 L461.16 445.83 L461.50 447.77 L461.84 450.43 L462.18 453.11 L462.52 456.91 L462.86 460.25 L463.20 464.22 L463.54 467.93 L463.88 471.66 L464.22 474.37 L464.56 478.23 L464.90 479.67 L465.24 483.24 L465.58 483.22 L465.92 487.42 L466.26 487.41 L466.60 493.02 L466.94 491.53 L467.28 494.86 L467.62 494.51 L467.96 497.76 L468.30 495.18 L468.64 501.67 L468.98 499.80 L469.32 500.97 L469.66 500.50 L470.00 505.06 L470.34 497.54 L470.68 504.23 L471.02 499.76 L471.36 502.60 L471.70 500.35 L472.04 503.11 L472.38 500.21 L472.72 502.10 L473.06 499.96 L473.40 503.97 L473.74 499.08 L474.08 504.69 L474.42 499.05 L474.76 503.49 L475.10 497.06 L475.44 502.91 L475.78 499.77 L476.12 500.65 L476.46 498.47 L476.80 499.92 L477.14 496.05 L477.48 499.20 L477.82 490.88 L478.16 500.63 L478.50 496.41 L478.84 500.43 L479.18 494.01 L479.52 498.14 L479.86 494.61 L480.20 499.00 L480.54 496.63 L480.88 500.46 L481.22 493.39 L481.56 497.61 L481.90 490.61 L482.24 497.71 L482.58 494.62 L482.92 495.79 L483.26 491.61 L483.60 495.65 L483.94 490.18 L484.28 492.80 L484.62 489.98 L484.96 494.65 L485.30 486.74 L485.64 494.67 L485.98 487.89 L486.32 492.60 L486.66 489.91 L487.00 491.97 L487.34 487.25 L487.68 490.91 L488.02 488.04 L488.36 489.47 L488.70 487.28 L489.04 487.88 L489.38 486.39 L489.72 487.26 L490.06 484.68 L490.40 486.72 L490.74 484.59 L491.08 486.40 L491.42 483.77 L491.76 485.17 L492.10 483.29 L492.44 484.88 L492.78 482.25 L493.12 484.03 L493.46 482.47 L493.80 484.23 L494.14 482.60 L494.48 485.48 L494.82 481.71 L495.16 482.64 L495.50 481.50 L495.84 483.31 L496.18 481.26 L496.52 482.24 L496.86 481.03 L497.20 481.93 L497.54 480.63 L497.88 481.77 L498.22 479.93 L498.56 482.19 L498.90 479.33 L499.24 481.82 L499.58 480.02 L499.92 480.45 L500.26 479.76 L500.60 480.48 L500.94 479.22 L501.28 480.69 L501.62 479.02 L501.96 480.01 L502.30 479.09 L502.64 479.72 L502.98 478.65 L503.32 479.87 L503.66 478.26 L504.00 480.83 L504.34 475.84 L504.68 480.41 L505.02 478.67 L505.36 480.78 L505.70 478.73 L506.04 480.17 L506.38 479.44 L506.72 480.15 L507.06 478.71 L507.40 479.86 L507.74 478.47 L508.08 480.77 L508.42 479.45 L508.76 480.88 L509.10 479.66 L509.44 481.23 L509.78 478.57 L510.12 480.63 L510.46 479.08 L510.80 480.89 L511.14 479.47 L511.48 481.53 L511.82 479.86 L512.16 481.16 L512.50 480.37 L512.84 481.80 L513.18 479.47 L513.52 481.99 L513.86 479.97 L514.20 481.15 L514.54 480.87 L514.88 481.78 L515.22 480.33 L515.56 482.00 L515.90 481.16 L516.24 482.22 L516.58 481.00 L516.92 482.68 L517.26 481.57 L517.60 482.89 L517.94 479.51 L518.28 485.12 L518.62 481.66 L518.96 483.83 L519.30 478.73 L519.64 486.52 L519.98 482.15 L520.32 484.23 L520.66 481.70 L521.00 483.40 L521.34 481.74 L521.68 483.11 L522.02 482.87 L522.36 485.37 L522.70 482.13 L523.04 483.85 L523.38 482.84 L523.72 485.06 L524.06 482.03 L524.40 485.09 L524.74 482.29 L525.08 484.40 L525.42 482.82 L525.76 484.32 L526.10 483.03 L526.44 484.51 L526.78 483.19 L527.12 485.38 L527.46 483.59 L527.80 484.39 L528.14 483.94 L528.48 485.31 L528.82 483.58 L529.16 484.85 L529.50 481.18 L529.84 485.35 L530.18 483.90 L530.52 485.38 L530.86 484.58 L531.20 486.07 L531.54 484.47 L531.88 486.29 L532.22 482.87 L532.56 486.52 L532.90 484.86 L533.24 485.36 L533.58 484.75 L533.92 485.40 L534.26 482.39 L534.60 486.55 L534.94 484.79 L535.28 485.94 L535.62 483.50 L535.96 485.47 L536.30 484.61 L536.64 486.79 L536.98 485.21 L537.32 486.50 L537.66 485.05 L538.00 486.40 L538.34 485.10 L538.68 486.12 L539.02 484.15 L539.36 485.64 L539.70 485.05 L540.04 486.49 L540.38 485.24 L540.72 486.41 L541.06 484.70 L541.40 486.34 L541.74 483.57 L542.08 486.02 L542.42 484.79 L542.76 485.77 L543.10 485.48 L543.44 486.70 L543.78 485.32 L544.12 486.01 L544.46 484.56 L544.80 486.56 L545.14 485.19 L545.48 486.02 L545.82 485.05 L546.16 485.63 L546.50 484.47 L546.84 486.23 L547.18 484.62 L547.52 486.17 L547.86 485.08 L548.20 486.75 L548.54 485.23 L548.88 486.15 L549.22 485.15 L549.56 486.32 L549.90 483.97 L550.24 488.29 L550.58 484.20 L550.92 485.56 L551.26 481.45 L551.60 485.66 L551.94 484.95 L552.28 485.65 L552.62 484.54 L552.96 485.54 L553.30 484.47 L553.64 485.27 L553.98 483.48 L554.32 485.28 L554.66 481.59 L555.00 484.90 L555.34 482.89 L555.68 484.34 L556.02 483.42 L556.36 484.13 L556.70 482.94 L557.04 484.05 L557.38 482.34 L557.72 483.77 L558.06 483.13 L558.40 484.21 L558.74 482.94 L559.08 483.41 L559.42 481.89 L559.76 483.28 L560.10 482.08 L560.44 483.15 L560.78 482.48 L561.12 483.23 L561.46 481.85 L561.80 483.63 L562.14 481.90 L562.48 482.62 L562.82 482.25 L563.16 483.17 L563.50 481.37 L563.84 483.44 L564.18 481.24 L564.52 482.76 L564.86 481.97 L565.20 482.38 L565.54 481.45 L565.88 482.62 L566.22 481.42 L566.56 483.69 L566.90 481.06 L567.24 483.22 L567.58 481.48 L567.92 482.32 L568.26 481.42 L568.60 482.45 L568.94 481.50 L569.28 481.91 L569.62 480.83 L569.96 482.46 L570.30 480.99 L570.64 482.28 L570.98 480.43 L571.32 481.37 L571.66 480.41 L572.00 482.00 L572.34 481.18 L572.68 481.82 L573.02 480.78 L573.36 481.94 L573.70 480.00 L574.04 481.00 L574.38 480.63 L574.72 481.71 L575.06 479.90 L575.40 481.47 L575.74 480.56 L576.08 482.11 L576.42 479.61 L576.76 482.34 L577.10 480.48 L577.44 481.42 L577.78 479.69 L578.12 481.76 L578.46 480.15 L578.80 482.01 L579.14 479.87 L579.48 480.86 L579.82 479.98 L580.16 480.73 L580.50 480.05 L580.84 480.76 L581.18 479.84 L581.52 480.48 L581.86 479.67 L582.20 482.13 L582.54 480.27 L582.88 481.78 L583.22 479.24 L583.56 480.89 L583.90 480.07 L584.24 481.90 L584.58 480.22 L584.92 482.04 L585.26 481.06 L585.60 482.08 L585.94 481.43 L586.28 483.37 L586.62 481.26 L586.96 482.36 L587.30 481.44 L587.64 483.23 L587.98 482.13 L588.32 484.35 L588.66 482.20 L589.00 484.25 L589.34 482.87 L589.68 484.11 L590.02 481.39 L590.36 485.13 L590.70 483.86 L591.04 484.76 L591.38 484.45 L591.72 484.88 L592.06 483.94 L592.40 485.95 L592.74 485.42 L593.08 486.23 L593.42 485.53 L593.76 487.43 L594.10 485.51 L594.44 488.16 L594.78 487.12 L595.12 488.99 L595.46 487.77 L595.80 489.19 L596.14 488.59 L596.48 490.43 L596.82 490.10 L597.16 492.33 L597.50 490.83 L597.84 493.97 L598.18 493.64 L598.52 495.81" fill="none" stroke="#000" stroke-width="1.15" stroke-linejoin="round" shape-rendering="geometricPrecision"/>
<line x1="241.6" y1="498" x2="241.6" y2="514" stroke="#000" stroke-width="1"/>
<line x1="247.5" y1="501" x2="247.5" y2="514" stroke="#000" stroke-width="1"/>
<line x1="298.1" y1="498" x2="298.1" y2="514" stroke="#000" stroke-width="1"/>
<line x1="419.7" y1="484" x2="419.7" y2="514" stroke="#000" stroke-width="1"/>
<text x="115.78" y="45.80" font-size="14.0" textLength="478.81" lengthAdjust="spacingAndGlyphs">RPS-B  Unidirectional, differential flux vs energy (Isotropic assumption)</text>
<text x="227.77" y="397.80" font-size="14.0" textLength="255.48" lengthAdjust="spacingAndGlyphs">RPS  Dose rate in Dosimeter 1 (front)</text>
<text x="125.67" y="555.90" font-size="14.0" textLength="458.34" lengthAdjust="spacingAndGlyphs">Equatorial pitch angle of particle with 90 degree pitch angle in OPQ</text>
<text x="204.51" y="712.90" font-size="14.0" textLength="300.18" lengthAdjust="spacingAndGlyphs">McIlwain L of locally mirroring particle in OPQ</text>
<text x="69.43" y="98.80" font-size="14.0" textLength="17.35" lengthAdjust="spacingAndGlyphs">10</text>
<text x="87.28" y="91.90" font-size="14.0" textLength="8.66" lengthAdjust="spacingAndGlyphs">3</text>
<text x="69.43" y="302.80" font-size="14.0" textLength="17.35" lengthAdjust="spacingAndGlyphs">10</text>
<text x="87.09" y="295.90" font-size="14.0" textLength="9.05" lengthAdjust="spacingAndGlyphs">2</text>
<text transform="translate(54.90,260.56) rotate(-90)" x="0" y="0" font-size="14.0" textLength="33.01" lengthAdjust="spacingAndGlyphs">FPDI</text>
<text transform="translate(58.90,229.23) rotate(-90)" x="0" y="0" font-size="9.6" textLength="33.02" lengthAdjust="spacingAndGlyphs">Energy</text>
<text transform="translate(54.90,193.20) rotate(-90)" x="0" y="0" font-size="14.0" textLength="40.73" lengthAdjust="spacingAndGlyphs">(MeV)</text>
<text x="642.34" y="119.80" font-size="14.0" textLength="17.24" lengthAdjust="spacingAndGlyphs">10</text>
<text x="660.76" y="112.90" font-size="14.0" textLength="7.09" lengthAdjust="spacingAndGlyphs">2</text>
<text x="642.34" y="189.80" font-size="14.0" textLength="17.24" lengthAdjust="spacingAndGlyphs">10</text>
<text x="660.88" y="182.90" font-size="14.0" textLength="7.18" lengthAdjust="spacingAndGlyphs">0</text>
<text x="642.34" y="259.80" font-size="14.0" textLength="17.24" lengthAdjust="spacingAndGlyphs">10</text>
<text x="660.48" y="252.90" font-size="14.0" textLength="12.30" lengthAdjust="spacingAndGlyphs">-2</text>
<text x="642.34" y="329.80" font-size="14.0" textLength="17.24" lengthAdjust="spacingAndGlyphs">10</text>
<text x="660.48" y="322.90" font-size="14.0" textLength="12.33" lengthAdjust="spacingAndGlyphs">-4</text>
<text transform="translate(685.20,120.72) rotate(90)" x="0" y="0" font-size="14.0" textLength="170.17" lengthAdjust="spacingAndGlyphs">FPDI (#/cm^2/s/sr/MeV)</text>
<text x="64.77" y="426.80" font-size="14.0" textLength="16.80" lengthAdjust="spacingAndGlyphs">10</text>
<text x="82.42" y="419.90" font-size="14.0" textLength="13.48" lengthAdjust="spacingAndGlyphs">-3</text>
<text x="64.77" y="453.80" font-size="14.0" textLength="16.80" lengthAdjust="spacingAndGlyphs">10</text>
<text x="82.43" y="446.90" font-size="14.0" textLength="13.31" lengthAdjust="spacingAndGlyphs">-4</text>
<text x="64.77" y="479.80" font-size="14.0" textLength="16.80" lengthAdjust="spacingAndGlyphs">10</text>
<text x="82.42" y="472.90" font-size="14.0" textLength="13.48" lengthAdjust="spacingAndGlyphs">-5</text>
<text x="64.77" y="506.80" font-size="14.0" textLength="16.80" lengthAdjust="spacingAndGlyphs">10</text>
<text x="82.42" y="499.90" font-size="14.0" textLength="13.48" lengthAdjust="spacingAndGlyphs">-6</text>
<text transform="translate(53.00,495.85) rotate(-90)" x="0" y="0" font-size="14.0" textLength="70.18" lengthAdjust="spacingAndGlyphs">(rads/sec)</text>
<text x="74.45" y="574.90" font-size="14.0" textLength="22.38" lengthAdjust="spacingAndGlyphs">90.</text>
<text x="74.45" y="586.90" font-size="14.0" textLength="22.38" lengthAdjust="spacingAndGlyphs">85.</text>
<text x="74.45" y="599.90" font-size="14.0" textLength="22.38" lengthAdjust="spacingAndGlyphs">80.</text>
<text x="74.45" y="611.90" font-size="14.0" textLength="22.38" lengthAdjust="spacingAndGlyphs">75.</text>
<text x="74.45" y="624.90" font-size="14.0" textLength="22.38" lengthAdjust="spacingAndGlyphs">70.</text>
<text x="74.45" y="636.90" font-size="14.0" textLength="22.38" lengthAdjust="spacingAndGlyphs">65.</text>
<text x="74.45" y="649.90" font-size="14.0" textLength="22.38" lengthAdjust="spacingAndGlyphs">60.</text>
<text x="74.45" y="661.90" font-size="14.0" textLength="22.38" lengthAdjust="spacingAndGlyphs">55.</text>
<text x="74.45" y="674.90" font-size="14.0" textLength="22.38" lengthAdjust="spacingAndGlyphs">50.</text>
<text transform="translate(56.20,653.75) rotate(-90)" x="0" y="0" font-size="14.0" textLength="9.41" lengthAdjust="spacingAndGlyphs">α</text>
<text transform="translate(63.10,644.18) rotate(-90)" x="0" y="0" font-size="14.0" textLength="18.09" lengthAdjust="spacingAndGlyphs">Eq</text>
<text transform="translate(56.20,621.64) rotate(-90)" x="0" y="0" font-size="14.0" textLength="36.66" lengthAdjust="spacingAndGlyphs">(deg)</text>
<text x="83.90" y="738.90" font-size="14.0" textLength="12.84" lengthAdjust="spacingAndGlyphs">6.</text>
<text x="83.90" y="763.90" font-size="14.0" textLength="12.84" lengthAdjust="spacingAndGlyphs">5.</text>
<text x="83.90" y="787.90" font-size="14.0" textLength="12.84" lengthAdjust="spacingAndGlyphs">4.</text>
<text x="83.90" y="811.90" font-size="14.0" textLength="12.84" lengthAdjust="spacingAndGlyphs">3.</text>
<text x="83.90" y="835.90" font-size="14.0" textLength="12.84" lengthAdjust="spacingAndGlyphs">2.</text>
<text x="83.90" y="859.90" font-size="14.0" textLength="12.84" lengthAdjust="spacingAndGlyphs">1.</text>
<text transform="translate(65.00,812.67) rotate(-90)" x="0" y="0" font-size="14.0" textLength="6.75" lengthAdjust="spacingAndGlyphs">L</text>
<text transform="translate(65.00,801.49) rotate(-90)" x="0" y="0" font-size="14.0" textLength="13.88" lengthAdjust="spacingAndGlyphs">(R</text>
<text transform="translate(71.70,786.80) rotate(-90)" x="0" y="0" font-size="14.0" textLength="8.32" lengthAdjust="spacingAndGlyphs">E</text>
<text transform="translate(65.00,776.65) rotate(-90)" x="0" y="0" font-size="14.0" textLength="3.39" lengthAdjust="spacingAndGlyphs">)</text>
<text x="92.86" y="890.80" font-size="14.0" textLength="39.94" lengthAdjust="spacingAndGlyphs">00:00</text>
<text x="213.86" y="890.80" font-size="14.0" textLength="39.94" lengthAdjust="spacingAndGlyphs">06:00</text>
<text x="335.86" y="890.80" font-size="14.0" textLength="39.94" lengthAdjust="spacingAndGlyphs">12:00</text>
<text x="458.06" y="890.80" font-size="14.0" textLength="39.94" lengthAdjust="spacingAndGlyphs">18:00</text>
<text x="580.06" y="890.80" font-size="14.0" textLength="39.94" lengthAdjust="spacingAndGlyphs">00:00</text>
<text x="92.94" y="907.80" font-size="14.0" textLength="39.94" lengthAdjust="spacingAndGlyphs">3.878</text>
<text x="213.94" y="907.80" font-size="14.0" textLength="39.94" lengthAdjust="spacingAndGlyphs">3.793</text>
<text x="335.78" y="907.80" font-size="14.0" textLength="39.94" lengthAdjust="spacingAndGlyphs">5.814</text>
<text x="458.14" y="907.80" font-size="14.0" textLength="39.94" lengthAdjust="spacingAndGlyphs">3.725</text>
<text x="580.14" y="907.80" font-size="14.0" textLength="39.94" lengthAdjust="spacingAndGlyphs">3.943</text>
<text x="85.12" y="924.80" font-size="14.0" textLength="47.63" lengthAdjust="spacingAndGlyphs">11.010</text>
<text x="204.92" y="924.80" font-size="14.0" textLength="48.82" lengthAdjust="spacingAndGlyphs">16.590</text>
<text x="330.59" y="924.80" font-size="14.0" textLength="45.26" lengthAdjust="spacingAndGlyphs">-0.775</text>
<text x="458.14" y="924.80" font-size="14.0" textLength="39.94" lengthAdjust="spacingAndGlyphs">8.913</text>
<text x="571.12" y="924.80" font-size="14.0" textLength="48.82" lengthAdjust="spacingAndGlyphs">16.810</text>
<text x="83.92" y="941.80" font-size="14.0" textLength="48.82" lengthAdjust="spacingAndGlyphs">16.520</text>
<text x="204.92" y="941.80" font-size="14.0" textLength="48.82" lengthAdjust="spacingAndGlyphs">22.270</text>
<text x="326.92" y="941.80" font-size="14.0" textLength="48.82" lengthAdjust="spacingAndGlyphs">19.690</text>
<text x="449.12" y="941.80" font-size="14.0" textLength="48.82" lengthAdjust="spacingAndGlyphs">16.630</text>
<text x="571.12" y="941.80" font-size="14.0" textLength="48.82" lengthAdjust="spacingAndGlyphs">21.900</text>
<text x="92.94" y="958.80" font-size="14.0" textLength="39.94" lengthAdjust="spacingAndGlyphs">4.025</text>
<text x="213.86" y="958.80" font-size="14.0" textLength="39.94" lengthAdjust="spacingAndGlyphs">4.130</text>
<text x="335.94" y="958.80" font-size="14.0" textLength="39.94" lengthAdjust="spacingAndGlyphs">5.815</text>
<text x="458.14" y="958.80" font-size="14.0" textLength="39.94" lengthAdjust="spacingAndGlyphs">3.816</text>
<text x="580.14" y="958.80" font-size="14.0" textLength="39.94" lengthAdjust="spacingAndGlyphs">4.303</text>
<text x="55.53" y="906.10" font-size="14.0" textLength="10.56" lengthAdjust="spacingAndGlyphs">R</text>
<text x="65.35" y="909.80" font-size="10.5" textLength="6.24" lengthAdjust="spacingAndGlyphs">E</text>
<text x="39.63" y="922.50" font-size="14.0" textLength="32.38" lengthAdjust="spacingAndGlyphs">MLat</text>
<text x="43.30" y="939.40" font-size="14.0" textLength="28.91" lengthAdjust="spacingAndGlyphs">MLT</text>
<text x="64.47" y="956.80" font-size="14.0" textLength="7.87" lengthAdjust="spacingAndGlyphs">L</text>
<text x="294.41" y="979.00" font-size="14.0" textLength="122.79" lengthAdjust="spacingAndGlyphs">2018-12-14 (348)</text>
</svg></body></html>
